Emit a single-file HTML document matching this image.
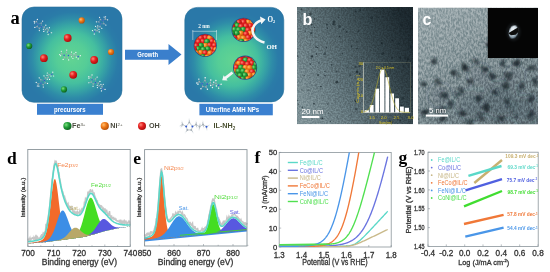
<!DOCTYPE html>
<html><head><meta charset="utf-8"><style>
html,body{margin:0;padding:0;background:#fff;width:550px;height:272px;overflow:hidden}
svg{display:block;filter:blur(0.3px)}
</style></head><body>
<svg width="550" height="272" viewBox="0 0 550 272">
<rect width="550" height="272" fill="#fff"/>
<defs>
<radialGradient id="gL" cx="72" cy="58" r="51" gradientUnits="userSpaceOnUse"><stop offset="0" stop-color="#62d492"/><stop offset="0.3" stop-color="#55cd97"/><stop offset="0.5" stop-color="#45bf9f"/><stop offset="0.65" stop-color="#37a5a5"/><stop offset="0.78" stop-color="#2e8ca8"/><stop offset="0.9" stop-color="#2a7ca8"/><stop offset="1" stop-color="#2a78a8"/></radialGradient>
<radialGradient id="gR" cx="233" cy="61" r="50" gradientUnits="userSpaceOnUse"><stop offset="0" stop-color="#62d492"/><stop offset="0.3" stop-color="#55cd97"/><stop offset="0.5" stop-color="#45bf9f"/><stop offset="0.65" stop-color="#37a5a5"/><stop offset="0.78" stop-color="#2e8ca8"/><stop offset="0.9" stop-color="#2a7ca8"/><stop offset="1" stop-color="#2a78a8"/></radialGradient>
<radialGradient id="bR" cx="0.35" cy="0.35" r="0.7"><stop offset="0" stop-color="#ff8a7a"/><stop offset="0.45" stop-color="#e62222"/><stop offset="1" stop-color="#a80c0c"/></radialGradient>
<radialGradient id="bO" cx="0.35" cy="0.35" r="0.7"><stop offset="0" stop-color="#ffc070"/><stop offset="0.45" stop-color="#f07a18"/><stop offset="1" stop-color="#b04c08"/></radialGradient>
<radialGradient id="bG" cx="0.35" cy="0.35" r="0.7"><stop offset="0" stop-color="#80e080"/><stop offset="0.45" stop-color="#22a03a"/><stop offset="1" stop-color="#0c5c1c"/></radialGradient>
<linearGradient id="tb" x1="0" y1="0.75" x2="1" y2="0.25"><stop offset="0" stop-color="#7d9095"/><stop offset="0.25" stop-color="#677a80"/><stop offset="0.5" stop-color="#4d5f65"/><stop offset="0.72" stop-color="#34444a"/><stop offset="1" stop-color="#1c282e"/></linearGradient>
<linearGradient id="tc" x1="0" y1="0" x2="0.5" y2="1"><stop offset="0" stop-color="#9aa8ac"/><stop offset="0.4" stop-color="#8a999d"/><stop offset="0.75" stop-color="#77878c"/><stop offset="1" stop-color="#6c7c82"/></linearGradient>
<filter id="noise" x="0" y="0" width="1" height="1" color-interpolation-filters="sRGB"><feTurbulence type="fractalNoise" baseFrequency="0.6" numOctaves="2" seed="3"/><feGaussianBlur stdDeviation="0.4"/><feColorMatrix type="matrix" values="2.6 0 0 0 -0.8  2.6 0 0 0 -0.8  2.6 0 0 0 -0.8  0 0 0 0 1"/><feComposite in2="SourceGraphic" operator="in"/></filter>
<filter id="blur1"><feGaussianBlur stdDeviation="0.5"/></filter>
<filter id="blur2"><feGaussianBlur stdDeviation="1.2"/></filter>
<filter id="blur3" x="-10%" y="-10%" width="120%" height="120%"><feGaussianBlur stdDeviation="1.1"/></filter>
<filter id="blur4" x="-30%" y="-30%" width="160%" height="160%"><feGaussianBlur stdDeviation="4"/></filter>
<filter id="noise2" x="0" y="0" width="1" height="1" color-interpolation-filters="sRGB"><feTurbulence type="fractalNoise" baseFrequency="0.6 0.32" numOctaves="2" seed="5"/><feGaussianBlur stdDeviation="0.4"/><feColorMatrix type="matrix" values="2.6 0 0 0 -0.8  2.6 0 0 0 -0.8  2.6 0 0 0 -0.8  0 0 0 0 1"/><feComposite in2="SourceGraphic" operator="in"/></filter>
<filter id="noise3" x="0" y="0" width="1" height="1"><feTurbulence type="fractalNoise" baseFrequency="0.5" numOctaves="3" seed="4"/><feColorMatrix type="matrix" values="0 0 0 0 0.75  0 0 0 0 0.8  0 0 0 0 0.82  1.6 0 0 0 -0.85"/><feComposite in2="SourceGraphic" operator="in"/></filter>
<radialGradient id="saed" cx="0.4" cy="0.35" r="0.75"><stop offset="0" stop-color="#f4f8fa"/><stop offset="0.5" stop-color="#c8d6e0"/><stop offset="1" stop-color="#4a6070"/></radialGradient>
<clipPath id="cb"><rect x="297" y="7" width="116" height="117.3"/></clipPath>
<clipPath id="cc"><rect x="418" y="7.5" width="120" height="117"/></clipPath>
</defs>
<text x="10.5" y="24" font-family="Liberation Serif" font-size="18.5" font-weight="bold" fill="#000" text-anchor="start" >a</text>
<rect x="22" y="7" width="100" height="95.3" rx="12" fill="url(#gL)" stroke="#28709a" stroke-width="0.6"/>
<rect x="184.8" y="7.4" width="99" height="94.5" rx="12.5" fill="url(#gR)" stroke="#28709a" stroke-width="0.6"/>
<rect x="37" y="103.8" width="66" height="11" fill="#3a80d0"/>
<text x="69.8" y="111.7" font-family="Liberation Sans" font-size="6.9" font-weight="bold" fill="#fff" text-anchor="middle" textLength="31.5" lengthAdjust="spacingAndGlyphs" >precursors</text>
<rect x="199.4" y="103.8" width="73.4" height="11.5" fill="#3a80d0"/>
<text x="232.5" y="112.4" font-family="Liberation Sans" font-size="6.7" font-weight="bold" fill="#fff" text-anchor="middle" textLength="53.5" lengthAdjust="spacingAndGlyphs" >Ulterfine AMH NPs</text>
<path d="M125,49.7 L168.5,49.7 L168.5,44.1 L181.5,54.6 L168.5,65.1 L168.5,59.7 L125,59.7 Z" fill="#3a7fcc"/>
<text x="147.7" y="57.0" font-family="Liberation Sans" font-size="6.9" font-weight="bold" fill="#fff" text-anchor="middle" textLength="20.8" lengthAdjust="spacingAndGlyphs" >Growth</text>
<circle cx="81.7" cy="20.4" r="3.1" fill="url(#bO)"/>
<circle cx="29.2" cy="46" r="3.1" fill="url(#bG)"/>
<circle cx="111" cy="52" r="3.1" fill="url(#bO)"/>
<circle cx="64" cy="89.4" r="3.1" fill="url(#bG)"/>
<circle cx="67.7" cy="38" r="3.9" fill="url(#bR)"/>
<circle cx="43.9" cy="58.2" r="3.9" fill="url(#bR)"/>
<circle cx="94.2" cy="60" r="3.9" fill="url(#bR)"/>
<circle cx="73.2" cy="74.8" r="3.9" fill="url(#bR)"/>
<line x1="37.80" y1="24.20" x2="41.24" y2="23.10" stroke="#9aa6ae" stroke-width="0.40"/>
<line x1="41.24" y1="23.10" x2="41.38" y2="26.71" stroke="#9aa6ae" stroke-width="0.40"/>
<line x1="41.38" y1="26.71" x2="39.33" y2="28.22" stroke="#9aa6ae" stroke-width="0.40"/>
<line x1="39.33" y1="28.22" x2="37.07" y2="26.64" stroke="#9aa6ae" stroke-width="0.40"/>
<line x1="37.07" y1="26.64" x2="37.80" y2="24.20" stroke="#9aa6ae" stroke-width="0.40"/>
<line x1="37.80" y1="24.20" x2="36.52" y2="21.62" stroke="#9aa6ae" stroke-width="0.40"/>
<line x1="36.52" y1="21.62" x2="34.26" y2="21.44" stroke="#9aa6ae" stroke-width="0.40"/>
<line x1="36.52" y1="21.62" x2="37.37" y2="19.41" stroke="#9aa6ae" stroke-width="0.40"/>
<line x1="36.52" y1="21.62" x2="34.51" y2="22.88" stroke="#9aa6ae" stroke-width="0.40"/>
<line x1="41.24" y1="23.10" x2="42.62" y2="21.12" stroke="#9aa6ae" stroke-width="0.40"/>
<line x1="39.33" y1="28.22" x2="39.34" y2="30.62" stroke="#9aa6ae" stroke-width="0.40"/>
<line x1="37.07" y1="26.64" x2="34.82" y2="27.45" stroke="#9aa6ae" stroke-width="0.40"/>
<line x1="41.38" y1="26.71" x2="44.24" y2="27.03" stroke="#9aa6ae" stroke-width="0.40"/>
<line x1="44.24" y1="27.03" x2="45.82" y2="25.18" stroke="#9aa6ae" stroke-width="0.40"/>
<line x1="44.24" y1="27.03" x2="43.40" y2="29.24" stroke="#9aa6ae" stroke-width="0.40"/>
<line x1="44.24" y1="27.03" x2="45.36" y2="29.64" stroke="#9aa6ae" stroke-width="0.40"/>
<line x1="45.36" y1="29.64" x2="43.79" y2="31.48" stroke="#9aa6ae" stroke-width="0.40"/>
<line x1="45.36" y1="29.64" x2="47.06" y2="28.02" stroke="#9aa6ae" stroke-width="0.40"/>
<line x1="45.36" y1="29.64" x2="48.20" y2="29.80" stroke="#9aa6ae" stroke-width="0.40"/>
<line x1="48.20" y1="29.80" x2="49.40" y2="27.69" stroke="#9aa6ae" stroke-width="0.40"/>
<line x1="48.20" y1="29.80" x2="47.35" y2="32.01" stroke="#9aa6ae" stroke-width="0.40"/>
<line x1="48.20" y1="29.80" x2="49.32" y2="32.41" stroke="#9aa6ae" stroke-width="0.40"/>
<line x1="49.32" y1="32.41" x2="51.61" y2="32.75" stroke="#9aa6ae" stroke-width="0.40"/>
<line x1="49.32" y1="32.41" x2="48.12" y2="34.52" stroke="#9aa6ae" stroke-width="0.40"/>
<circle cx="37.80" cy="24.20" r="0.70" fill="#2e58d0"/>
<circle cx="41.24" cy="23.10" r="0.65" fill="#a8b0b8"/>
<circle cx="41.38" cy="26.71" r="0.70" fill="#2e58d0"/>
<circle cx="39.33" cy="28.22" r="0.65" fill="#a8b0b8"/>
<circle cx="37.07" cy="26.64" r="0.65" fill="#a8b0b8"/>
<circle cx="36.52" cy="21.62" r="0.65" fill="#a8b0b8"/>
<circle cx="34.26" cy="21.44" r="0.61" fill="#f6f8fa"/>
<circle cx="37.37" cy="19.41" r="0.61" fill="#f6f8fa"/>
<circle cx="34.51" cy="22.88" r="0.61" fill="#f6f8fa"/>
<circle cx="42.62" cy="21.12" r="0.61" fill="#f6f8fa"/>
<circle cx="39.34" cy="30.62" r="0.61" fill="#f6f8fa"/>
<circle cx="34.82" cy="27.45" r="0.61" fill="#f6f8fa"/>
<circle cx="44.24" cy="27.03" r="0.65" fill="#a8b0b8"/>
<circle cx="45.82" cy="25.18" r="0.61" fill="#f6f8fa"/>
<circle cx="43.40" cy="29.24" r="0.61" fill="#f6f8fa"/>
<circle cx="45.36" cy="29.64" r="0.65" fill="#a8b0b8"/>
<circle cx="43.79" cy="31.48" r="0.61" fill="#f6f8fa"/>
<circle cx="47.06" cy="28.02" r="0.61" fill="#f6f8fa"/>
<circle cx="48.20" cy="29.80" r="0.65" fill="#a8b0b8"/>
<circle cx="49.40" cy="27.69" r="0.61" fill="#f6f8fa"/>
<circle cx="47.35" cy="32.01" r="0.61" fill="#f6f8fa"/>
<circle cx="49.32" cy="32.41" r="0.70" fill="#2e58d0"/>
<circle cx="51.61" cy="32.75" r="0.61" fill="#f6f8fa"/>
<circle cx="48.12" cy="34.52" r="0.61" fill="#f6f8fa"/>
<line x1="102.80" y1="20.30" x2="103.90" y2="23.74" stroke="#9aa6ae" stroke-width="0.40"/>
<line x1="103.90" y1="23.74" x2="100.29" y2="23.88" stroke="#9aa6ae" stroke-width="0.40"/>
<line x1="100.29" y1="23.88" x2="98.78" y2="21.83" stroke="#9aa6ae" stroke-width="0.40"/>
<line x1="98.78" y1="21.83" x2="100.36" y2="19.57" stroke="#9aa6ae" stroke-width="0.40"/>
<line x1="100.36" y1="19.57" x2="102.80" y2="20.30" stroke="#9aa6ae" stroke-width="0.40"/>
<line x1="102.80" y1="20.30" x2="105.38" y2="19.02" stroke="#9aa6ae" stroke-width="0.40"/>
<line x1="105.38" y1="19.02" x2="105.56" y2="16.76" stroke="#9aa6ae" stroke-width="0.40"/>
<line x1="105.38" y1="19.02" x2="107.59" y2="19.87" stroke="#9aa6ae" stroke-width="0.40"/>
<line x1="105.38" y1="19.02" x2="104.12" y2="17.01" stroke="#9aa6ae" stroke-width="0.40"/>
<line x1="103.90" y1="23.74" x2="105.88" y2="25.12" stroke="#9aa6ae" stroke-width="0.40"/>
<line x1="98.78" y1="21.83" x2="96.38" y2="21.84" stroke="#9aa6ae" stroke-width="0.40"/>
<line x1="100.36" y1="19.57" x2="99.55" y2="17.32" stroke="#9aa6ae" stroke-width="0.40"/>
<line x1="100.29" y1="23.88" x2="99.97" y2="26.74" stroke="#9aa6ae" stroke-width="0.40"/>
<line x1="99.97" y1="26.74" x2="101.82" y2="28.32" stroke="#9aa6ae" stroke-width="0.40"/>
<line x1="99.97" y1="26.74" x2="97.76" y2="25.90" stroke="#9aa6ae" stroke-width="0.40"/>
<line x1="99.97" y1="26.74" x2="97.36" y2="27.86" stroke="#9aa6ae" stroke-width="0.40"/>
<line x1="97.36" y1="27.86" x2="95.52" y2="26.29" stroke="#9aa6ae" stroke-width="0.40"/>
<line x1="97.36" y1="27.86" x2="98.98" y2="29.56" stroke="#9aa6ae" stroke-width="0.40"/>
<line x1="97.36" y1="27.86" x2="97.20" y2="30.70" stroke="#9aa6ae" stroke-width="0.40"/>
<line x1="97.20" y1="30.70" x2="99.31" y2="31.90" stroke="#9aa6ae" stroke-width="0.40"/>
<line x1="97.20" y1="30.70" x2="94.99" y2="29.85" stroke="#9aa6ae" stroke-width="0.40"/>
<line x1="97.20" y1="30.70" x2="94.59" y2="31.82" stroke="#9aa6ae" stroke-width="0.40"/>
<line x1="94.59" y1="31.82" x2="94.25" y2="34.11" stroke="#9aa6ae" stroke-width="0.40"/>
<line x1="94.59" y1="31.82" x2="92.48" y2="30.62" stroke="#9aa6ae" stroke-width="0.40"/>
<circle cx="102.80" cy="20.30" r="0.70" fill="#2e58d0"/>
<circle cx="103.90" cy="23.74" r="0.65" fill="#a8b0b8"/>
<circle cx="100.29" cy="23.88" r="0.70" fill="#2e58d0"/>
<circle cx="98.78" cy="21.83" r="0.65" fill="#a8b0b8"/>
<circle cx="100.36" cy="19.57" r="0.65" fill="#a8b0b8"/>
<circle cx="105.38" cy="19.02" r="0.65" fill="#a8b0b8"/>
<circle cx="105.56" cy="16.76" r="0.61" fill="#f6f8fa"/>
<circle cx="107.59" cy="19.87" r="0.61" fill="#f6f8fa"/>
<circle cx="104.12" cy="17.01" r="0.61" fill="#f6f8fa"/>
<circle cx="105.88" cy="25.12" r="0.61" fill="#f6f8fa"/>
<circle cx="96.38" cy="21.84" r="0.61" fill="#f6f8fa"/>
<circle cx="99.55" cy="17.32" r="0.61" fill="#f6f8fa"/>
<circle cx="99.97" cy="26.74" r="0.65" fill="#a8b0b8"/>
<circle cx="101.82" cy="28.32" r="0.61" fill="#f6f8fa"/>
<circle cx="97.76" cy="25.90" r="0.61" fill="#f6f8fa"/>
<circle cx="97.36" cy="27.86" r="0.65" fill="#a8b0b8"/>
<circle cx="95.52" cy="26.29" r="0.61" fill="#f6f8fa"/>
<circle cx="98.98" cy="29.56" r="0.61" fill="#f6f8fa"/>
<circle cx="97.20" cy="30.70" r="0.65" fill="#a8b0b8"/>
<circle cx="99.31" cy="31.90" r="0.61" fill="#f6f8fa"/>
<circle cx="94.99" cy="29.85" r="0.61" fill="#f6f8fa"/>
<circle cx="94.59" cy="31.82" r="0.70" fill="#2e58d0"/>
<circle cx="94.25" cy="34.11" r="0.61" fill="#f6f8fa"/>
<circle cx="92.48" cy="30.62" r="0.61" fill="#f6f8fa"/>
<line x1="64.10" y1="55.18" x2="66.52" y2="52.50" stroke="#9aa6ae" stroke-width="0.40"/>
<line x1="66.52" y1="52.50" x2="68.45" y2="55.56" stroke="#9aa6ae" stroke-width="0.40"/>
<line x1="68.45" y1="55.56" x2="67.44" y2="57.89" stroke="#9aa6ae" stroke-width="0.40"/>
<line x1="67.44" y1="57.89" x2="64.69" y2="57.65" stroke="#9aa6ae" stroke-width="0.40"/>
<line x1="64.69" y1="57.65" x2="64.10" y2="55.18" stroke="#9aa6ae" stroke-width="0.40"/>
<line x1="64.10" y1="55.18" x2="61.70" y2="53.58" stroke="#9aa6ae" stroke-width="0.40"/>
<line x1="61.70" y1="53.58" x2="59.65" y2="54.56" stroke="#9aa6ae" stroke-width="0.40"/>
<line x1="61.70" y1="53.58" x2="61.32" y2="51.24" stroke="#9aa6ae" stroke-width="0.40"/>
<line x1="61.70" y1="53.58" x2="60.59" y2="55.68" stroke="#9aa6ae" stroke-width="0.40"/>
<line x1="66.52" y1="52.50" x2="66.73" y2="50.10" stroke="#9aa6ae" stroke-width="0.40"/>
<line x1="67.44" y1="57.89" x2="68.64" y2="59.96" stroke="#9aa6ae" stroke-width="0.40"/>
<line x1="64.69" y1="57.65" x2="63.14" y2="59.48" stroke="#9aa6ae" stroke-width="0.40"/>
<line x1="68.45" y1="55.56" x2="71.09" y2="54.40" stroke="#9aa6ae" stroke-width="0.40"/>
<line x1="71.09" y1="54.40" x2="71.53" y2="52.02" stroke="#9aa6ae" stroke-width="0.40"/>
<line x1="71.09" y1="54.40" x2="71.46" y2="56.74" stroke="#9aa6ae" stroke-width="0.40"/>
<line x1="71.09" y1="54.40" x2="73.37" y2="56.10" stroke="#9aa6ae" stroke-width="0.40"/>
<line x1="73.37" y1="56.10" x2="72.93" y2="58.49" stroke="#9aa6ae" stroke-width="0.40"/>
<line x1="73.37" y1="56.10" x2="74.03" y2="53.85" stroke="#9aa6ae" stroke-width="0.40"/>
<line x1="73.37" y1="56.10" x2="75.90" y2="54.82" stroke="#9aa6ae" stroke-width="0.40"/>
<line x1="75.90" y1="54.82" x2="75.88" y2="52.40" stroke="#9aa6ae" stroke-width="0.40"/>
<line x1="75.90" y1="54.82" x2="76.28" y2="57.17" stroke="#9aa6ae" stroke-width="0.40"/>
<line x1="75.90" y1="54.82" x2="78.18" y2="56.52" stroke="#9aa6ae" stroke-width="0.40"/>
<line x1="78.18" y1="56.52" x2="80.33" y2="55.67" stroke="#9aa6ae" stroke-width="0.40"/>
<line x1="78.18" y1="56.52" x2="78.20" y2="58.95" stroke="#9aa6ae" stroke-width="0.40"/>
<circle cx="64.10" cy="55.18" r="0.70" fill="#2e58d0"/>
<circle cx="66.52" cy="52.50" r="0.65" fill="#a8b0b8"/>
<circle cx="68.45" cy="55.56" r="0.70" fill="#2e58d0"/>
<circle cx="67.44" cy="57.89" r="0.65" fill="#a8b0b8"/>
<circle cx="64.69" cy="57.65" r="0.65" fill="#a8b0b8"/>
<circle cx="61.70" cy="53.58" r="0.65" fill="#a8b0b8"/>
<circle cx="59.65" cy="54.56" r="0.61" fill="#f6f8fa"/>
<circle cx="61.32" cy="51.24" r="0.61" fill="#f6f8fa"/>
<circle cx="60.59" cy="55.68" r="0.61" fill="#f6f8fa"/>
<circle cx="66.73" cy="50.10" r="0.61" fill="#f6f8fa"/>
<circle cx="68.64" cy="59.96" r="0.61" fill="#f6f8fa"/>
<circle cx="63.14" cy="59.48" r="0.61" fill="#f6f8fa"/>
<circle cx="71.09" cy="54.40" r="0.65" fill="#a8b0b8"/>
<circle cx="71.53" cy="52.02" r="0.61" fill="#f6f8fa"/>
<circle cx="71.46" cy="56.74" r="0.61" fill="#f6f8fa"/>
<circle cx="73.37" cy="56.10" r="0.65" fill="#a8b0b8"/>
<circle cx="72.93" cy="58.49" r="0.61" fill="#f6f8fa"/>
<circle cx="74.03" cy="53.85" r="0.61" fill="#f6f8fa"/>
<circle cx="75.90" cy="54.82" r="0.65" fill="#a8b0b8"/>
<circle cx="75.88" cy="52.40" r="0.61" fill="#f6f8fa"/>
<circle cx="76.28" cy="57.17" r="0.61" fill="#f6f8fa"/>
<circle cx="78.18" cy="56.52" r="0.70" fill="#2e58d0"/>
<circle cx="80.33" cy="55.67" r="0.61" fill="#f6f8fa"/>
<circle cx="78.20" cy="58.95" r="0.61" fill="#f6f8fa"/>
<line x1="40.95" y1="83.30" x2="40.78" y2="79.69" stroke="#9aa6ae" stroke-width="0.40"/>
<line x1="40.78" y1="79.69" x2="44.30" y2="80.49" stroke="#9aa6ae" stroke-width="0.40"/>
<line x1="44.30" y1="80.49" x2="45.23" y2="82.86" stroke="#9aa6ae" stroke-width="0.40"/>
<line x1="45.23" y1="82.86" x2="43.12" y2="84.63" stroke="#9aa6ae" stroke-width="0.40"/>
<line x1="43.12" y1="84.63" x2="40.95" y2="83.30" stroke="#9aa6ae" stroke-width="0.40"/>
<line x1="40.95" y1="83.30" x2="38.13" y2="83.87" stroke="#9aa6ae" stroke-width="0.40"/>
<line x1="38.13" y1="83.87" x2="37.37" y2="86.01" stroke="#9aa6ae" stroke-width="0.40"/>
<line x1="38.13" y1="83.87" x2="36.21" y2="82.48" stroke="#9aa6ae" stroke-width="0.40"/>
<line x1="38.13" y1="83.87" x2="38.83" y2="86.13" stroke="#9aa6ae" stroke-width="0.40"/>
<line x1="40.78" y1="79.69" x2="39.22" y2="77.84" stroke="#9aa6ae" stroke-width="0.40"/>
<line x1="45.23" y1="82.86" x2="47.55" y2="83.47" stroke="#9aa6ae" stroke-width="0.40"/>
<line x1="43.12" y1="84.63" x2="43.32" y2="87.02" stroke="#9aa6ae" stroke-width="0.40"/>
<line x1="44.30" y1="80.49" x2="45.35" y2="77.81" stroke="#9aa6ae" stroke-width="0.40"/>
<line x1="45.35" y1="77.81" x2="43.97" y2="75.81" stroke="#9aa6ae" stroke-width="0.40"/>
<line x1="45.35" y1="77.81" x2="47.27" y2="79.20" stroke="#9aa6ae" stroke-width="0.40"/>
<line x1="45.35" y1="77.81" x2="48.16" y2="77.40" stroke="#9aa6ae" stroke-width="0.40"/>
<line x1="48.16" y1="77.40" x2="49.54" y2="79.40" stroke="#9aa6ae" stroke-width="0.40"/>
<line x1="48.16" y1="77.40" x2="47.03" y2="75.34" stroke="#9aa6ae" stroke-width="0.40"/>
<line x1="48.16" y1="77.40" x2="49.05" y2="74.70" stroke="#9aa6ae" stroke-width="0.40"/>
<line x1="49.05" y1="74.70" x2="47.32" y2="73.00" stroke="#9aa6ae" stroke-width="0.40"/>
<line x1="49.05" y1="74.70" x2="50.97" y2="76.09" stroke="#9aa6ae" stroke-width="0.40"/>
<line x1="49.05" y1="74.70" x2="51.86" y2="74.29" stroke="#9aa6ae" stroke-width="0.40"/>
<line x1="51.86" y1="74.29" x2="52.78" y2="72.17" stroke="#9aa6ae" stroke-width="0.40"/>
<line x1="51.86" y1="74.29" x2="53.59" y2="76.00" stroke="#9aa6ae" stroke-width="0.40"/>
<circle cx="40.95" cy="83.30" r="0.70" fill="#2e58d0"/>
<circle cx="40.78" cy="79.69" r="0.65" fill="#a8b0b8"/>
<circle cx="44.30" cy="80.49" r="0.70" fill="#2e58d0"/>
<circle cx="45.23" cy="82.86" r="0.65" fill="#a8b0b8"/>
<circle cx="43.12" cy="84.63" r="0.65" fill="#a8b0b8"/>
<circle cx="38.13" cy="83.87" r="0.65" fill="#a8b0b8"/>
<circle cx="37.37" cy="86.01" r="0.61" fill="#f6f8fa"/>
<circle cx="36.21" cy="82.48" r="0.61" fill="#f6f8fa"/>
<circle cx="38.83" cy="86.13" r="0.61" fill="#f6f8fa"/>
<circle cx="39.22" cy="77.84" r="0.61" fill="#f6f8fa"/>
<circle cx="47.55" cy="83.47" r="0.61" fill="#f6f8fa"/>
<circle cx="43.32" cy="87.02" r="0.61" fill="#f6f8fa"/>
<circle cx="45.35" cy="77.81" r="0.65" fill="#a8b0b8"/>
<circle cx="43.97" cy="75.81" r="0.61" fill="#f6f8fa"/>
<circle cx="47.27" cy="79.20" r="0.61" fill="#f6f8fa"/>
<circle cx="48.16" cy="77.40" r="0.65" fill="#a8b0b8"/>
<circle cx="49.54" cy="79.40" r="0.61" fill="#f6f8fa"/>
<circle cx="47.03" cy="75.34" r="0.61" fill="#f6f8fa"/>
<circle cx="49.05" cy="74.70" r="0.65" fill="#a8b0b8"/>
<circle cx="47.32" cy="73.00" r="0.61" fill="#f6f8fa"/>
<circle cx="50.97" cy="76.09" r="0.61" fill="#f6f8fa"/>
<circle cx="51.86" cy="74.29" r="0.70" fill="#2e58d0"/>
<circle cx="52.78" cy="72.17" r="0.61" fill="#f6f8fa"/>
<circle cx="53.59" cy="76.00" r="0.61" fill="#f6f8fa"/>
<line x1="92.06" y1="79.76" x2="95.59" y2="78.96" stroke="#9aa6ae" stroke-width="0.40"/>
<line x1="95.59" y1="78.96" x2="95.41" y2="82.57" stroke="#9aa6ae" stroke-width="0.40"/>
<line x1="95.41" y1="82.57" x2="93.24" y2="83.90" stroke="#9aa6ae" stroke-width="0.40"/>
<line x1="93.24" y1="83.90" x2="91.13" y2="82.13" stroke="#9aa6ae" stroke-width="0.40"/>
<line x1="91.13" y1="82.13" x2="92.06" y2="79.76" stroke="#9aa6ae" stroke-width="0.40"/>
<line x1="92.06" y1="79.76" x2="91.01" y2="77.08" stroke="#9aa6ae" stroke-width="0.40"/>
<line x1="91.01" y1="77.08" x2="88.78" y2="76.70" stroke="#9aa6ae" stroke-width="0.40"/>
<line x1="91.01" y1="77.08" x2="92.05" y2="74.94" stroke="#9aa6ae" stroke-width="0.40"/>
<line x1="91.01" y1="77.08" x2="88.90" y2="78.16" stroke="#9aa6ae" stroke-width="0.40"/>
<line x1="95.59" y1="78.96" x2="97.14" y2="77.11" stroke="#9aa6ae" stroke-width="0.40"/>
<line x1="93.24" y1="83.90" x2="93.04" y2="86.28" stroke="#9aa6ae" stroke-width="0.40"/>
<line x1="91.13" y1="82.13" x2="88.81" y2="82.74" stroke="#9aa6ae" stroke-width="0.40"/>
<line x1="95.41" y1="82.57" x2="98.24" y2="83.14" stroke="#9aa6ae" stroke-width="0.40"/>
<line x1="98.24" y1="83.14" x2="99.96" y2="81.43" stroke="#9aa6ae" stroke-width="0.40"/>
<line x1="98.24" y1="83.14" x2="97.20" y2="85.27" stroke="#9aa6ae" stroke-width="0.40"/>
<line x1="98.24" y1="83.14" x2="99.13" y2="85.83" stroke="#9aa6ae" stroke-width="0.40"/>
<line x1="99.13" y1="85.83" x2="97.40" y2="87.54" stroke="#9aa6ae" stroke-width="0.40"/>
<line x1="99.13" y1="85.83" x2="100.96" y2="84.37" stroke="#9aa6ae" stroke-width="0.40"/>
<line x1="99.13" y1="85.83" x2="101.94" y2="86.24" stroke="#9aa6ae" stroke-width="0.40"/>
<line x1="101.94" y1="86.24" x2="103.31" y2="84.24" stroke="#9aa6ae" stroke-width="0.40"/>
<line x1="101.94" y1="86.24" x2="100.90" y2="88.37" stroke="#9aa6ae" stroke-width="0.40"/>
<line x1="101.94" y1="86.24" x2="102.83" y2="88.94" stroke="#9aa6ae" stroke-width="0.40"/>
<line x1="102.83" y1="88.94" x2="105.08" y2="89.48" stroke="#9aa6ae" stroke-width="0.40"/>
<line x1="102.83" y1="88.94" x2="101.45" y2="90.94" stroke="#9aa6ae" stroke-width="0.40"/>
<circle cx="92.06" cy="79.76" r="0.70" fill="#2e58d0"/>
<circle cx="95.59" cy="78.96" r="0.65" fill="#a8b0b8"/>
<circle cx="95.41" cy="82.57" r="0.70" fill="#2e58d0"/>
<circle cx="93.24" cy="83.90" r="0.65" fill="#a8b0b8"/>
<circle cx="91.13" cy="82.13" r="0.65" fill="#a8b0b8"/>
<circle cx="91.01" cy="77.08" r="0.65" fill="#a8b0b8"/>
<circle cx="88.78" cy="76.70" r="0.61" fill="#f6f8fa"/>
<circle cx="92.05" cy="74.94" r="0.61" fill="#f6f8fa"/>
<circle cx="88.90" cy="78.16" r="0.61" fill="#f6f8fa"/>
<circle cx="97.14" cy="77.11" r="0.61" fill="#f6f8fa"/>
<circle cx="93.04" cy="86.28" r="0.61" fill="#f6f8fa"/>
<circle cx="88.81" cy="82.74" r="0.61" fill="#f6f8fa"/>
<circle cx="98.24" cy="83.14" r="0.65" fill="#a8b0b8"/>
<circle cx="99.96" cy="81.43" r="0.61" fill="#f6f8fa"/>
<circle cx="97.20" cy="85.27" r="0.61" fill="#f6f8fa"/>
<circle cx="99.13" cy="85.83" r="0.65" fill="#a8b0b8"/>
<circle cx="97.40" cy="87.54" r="0.61" fill="#f6f8fa"/>
<circle cx="100.96" cy="84.37" r="0.61" fill="#f6f8fa"/>
<circle cx="101.94" cy="86.24" r="0.65" fill="#a8b0b8"/>
<circle cx="103.31" cy="84.24" r="0.61" fill="#f6f8fa"/>
<circle cx="100.90" cy="88.37" r="0.61" fill="#f6f8fa"/>
<circle cx="102.83" cy="88.94" r="0.70" fill="#2e58d0"/>
<circle cx="105.08" cy="89.48" r="0.61" fill="#f6f8fa"/>
<circle cx="101.45" cy="90.94" r="0.61" fill="#f6f8fa"/>
<line x1="202.07" y1="83.71" x2="204.92" y2="80.57" stroke="#9aa6ae" stroke-width="0.47"/>
<line x1="204.92" y1="80.57" x2="207.18" y2="84.15" stroke="#9aa6ae" stroke-width="0.47"/>
<line x1="207.18" y1="84.15" x2="205.99" y2="86.90" stroke="#9aa6ae" stroke-width="0.47"/>
<line x1="205.99" y1="86.90" x2="202.76" y2="86.61" stroke="#9aa6ae" stroke-width="0.47"/>
<line x1="202.76" y1="86.61" x2="202.07" y2="83.71" stroke="#9aa6ae" stroke-width="0.47"/>
<line x1="202.07" y1="83.71" x2="199.25" y2="81.83" stroke="#9aa6ae" stroke-width="0.47"/>
<line x1="199.25" y1="81.83" x2="196.85" y2="82.98" stroke="#9aa6ae" stroke-width="0.47"/>
<line x1="199.25" y1="81.83" x2="198.82" y2="79.09" stroke="#9aa6ae" stroke-width="0.47"/>
<line x1="199.25" y1="81.83" x2="197.95" y2="84.30" stroke="#9aa6ae" stroke-width="0.47"/>
<line x1="204.92" y1="80.57" x2="205.17" y2="77.74" stroke="#9aa6ae" stroke-width="0.47"/>
<line x1="205.99" y1="86.90" x2="207.41" y2="89.32" stroke="#9aa6ae" stroke-width="0.47"/>
<line x1="202.76" y1="86.61" x2="200.95" y2="88.76" stroke="#9aa6ae" stroke-width="0.47"/>
<line x1="207.18" y1="84.15" x2="210.28" y2="82.80" stroke="#9aa6ae" stroke-width="0.47"/>
<line x1="210.28" y1="82.80" x2="210.80" y2="80.00" stroke="#9aa6ae" stroke-width="0.47"/>
<line x1="210.28" y1="82.80" x2="210.72" y2="85.55" stroke="#9aa6ae" stroke-width="0.47"/>
<line x1="210.28" y1="82.80" x2="212.95" y2="84.79" stroke="#9aa6ae" stroke-width="0.47"/>
<line x1="212.95" y1="84.79" x2="212.44" y2="87.60" stroke="#9aa6ae" stroke-width="0.47"/>
<line x1="212.95" y1="84.79" x2="213.73" y2="82.15" stroke="#9aa6ae" stroke-width="0.47"/>
<line x1="212.95" y1="84.79" x2="215.93" y2="83.29" stroke="#9aa6ae" stroke-width="0.47"/>
<line x1="215.93" y1="83.29" x2="215.91" y2="80.45" stroke="#9aa6ae" stroke-width="0.47"/>
<line x1="215.93" y1="83.29" x2="216.37" y2="86.04" stroke="#9aa6ae" stroke-width="0.47"/>
<line x1="215.93" y1="83.29" x2="218.60" y2="85.29" stroke="#9aa6ae" stroke-width="0.47"/>
<line x1="218.60" y1="85.29" x2="221.13" y2="84.29" stroke="#9aa6ae" stroke-width="0.47"/>
<line x1="218.60" y1="85.29" x2="218.62" y2="88.14" stroke="#9aa6ae" stroke-width="0.47"/>
<circle cx="202.07" cy="83.71" r="0.83" fill="#2e58d0"/>
<circle cx="204.92" cy="80.57" r="0.76" fill="#a8b0b8"/>
<circle cx="207.18" cy="84.15" r="0.83" fill="#2e58d0"/>
<circle cx="205.99" cy="86.90" r="0.76" fill="#a8b0b8"/>
<circle cx="202.76" cy="86.61" r="0.76" fill="#a8b0b8"/>
<circle cx="199.25" cy="81.83" r="0.76" fill="#a8b0b8"/>
<circle cx="196.85" cy="82.98" r="0.71" fill="#f6f8fa"/>
<circle cx="198.82" cy="79.09" r="0.71" fill="#f6f8fa"/>
<circle cx="197.95" cy="84.30" r="0.71" fill="#f6f8fa"/>
<circle cx="205.17" cy="77.74" r="0.71" fill="#f6f8fa"/>
<circle cx="207.41" cy="89.32" r="0.71" fill="#f6f8fa"/>
<circle cx="200.95" cy="88.76" r="0.71" fill="#f6f8fa"/>
<circle cx="210.28" cy="82.80" r="0.76" fill="#a8b0b8"/>
<circle cx="210.80" cy="80.00" r="0.71" fill="#f6f8fa"/>
<circle cx="210.72" cy="85.55" r="0.71" fill="#f6f8fa"/>
<circle cx="212.95" cy="84.79" r="0.76" fill="#a8b0b8"/>
<circle cx="212.44" cy="87.60" r="0.71" fill="#f6f8fa"/>
<circle cx="213.73" cy="82.15" r="0.71" fill="#f6f8fa"/>
<circle cx="215.93" cy="83.29" r="0.76" fill="#a8b0b8"/>
<circle cx="215.91" cy="80.45" r="0.71" fill="#f6f8fa"/>
<circle cx="216.37" cy="86.04" r="0.71" fill="#f6f8fa"/>
<circle cx="218.60" cy="85.29" r="0.83" fill="#2e58d0"/>
<circle cx="221.13" cy="84.29" r="0.71" fill="#f6f8fa"/>
<circle cx="218.62" cy="88.14" r="0.71" fill="#f6f8fa"/>
<circle cx="205.2" cy="45.4" r="11.600000000000001" fill="#2c4a88"/>
<clipPath id="cl205"><circle cx="205.2" cy="45.4" r="10.8"/></clipPath>
<g clip-path="url(#cl205)"><circle cx="205.2" cy="45.4" r="10.8" fill="#8a2010"/>
<circle cx="202.67" cy="33.62" r="2.90" fill="url(#bR)"/>
<circle cx="207.17" cy="33.64" r="2.90" fill="url(#bR)"/>
<circle cx="195.82" cy="37.43" r="2.90" fill="url(#bO)"/>
<circle cx="214.21" cy="37.69" r="2.90" fill="url(#bR)"/>
<circle cx="205.53" cy="37.77" r="2.90" fill="url(#bR)"/>
<circle cx="209.79" cy="37.98" r="2.90" fill="url(#bO)"/>
<circle cx="200.91" cy="38.04" r="2.90" fill="url(#bR)"/>
<circle cx="194.12" cy="41.37" r="2.90" fill="url(#bR)"/>
<circle cx="212.04" cy="41.39" r="2.90" fill="url(#bR)"/>
<circle cx="202.84" cy="41.49" r="2.90" fill="url(#bR)"/>
<circle cx="206.99" cy="41.70" r="2.90" fill="url(#bG)"/>
<circle cx="198.46" cy="41.78" r="2.90" fill="url(#bR)"/>
<circle cx="216.45" cy="41.98" r="2.90" fill="url(#bO)"/>
<circle cx="209.76" cy="45.33" r="2.90" fill="url(#bR)"/>
<circle cx="214.57" cy="45.47" r="2.90" fill="url(#bR)"/>
<circle cx="205.44" cy="45.71" r="2.90" fill="url(#bO)"/>
<circle cx="200.98" cy="45.72" r="2.90" fill="url(#bG)"/>
<circle cx="196.25" cy="45.86" r="2.90" fill="url(#bR)"/>
<circle cx="212.12" cy="48.88" r="2.90" fill="url(#bR)"/>
<circle cx="198.18" cy="48.98" r="2.90" fill="url(#bG)"/>
<circle cx="207.77" cy="49.06" r="2.90" fill="url(#bG)"/>
<circle cx="194.06" cy="49.26" r="2.90" fill="url(#bR)"/>
<circle cx="215.96" cy="49.56" r="2.90" fill="url(#bO)"/>
<circle cx="203.31" cy="49.60" r="2.90" fill="url(#bG)"/>
<circle cx="200.67" cy="52.72" r="2.90" fill="url(#bO)"/>
<circle cx="205.12" cy="52.89" r="2.90" fill="url(#bR)"/>
<circle cx="196.41" cy="53.15" r="2.90" fill="url(#bO)"/>
<circle cx="210.10" cy="53.21" r="2.90" fill="url(#bO)"/>
<circle cx="214.31" cy="53.52" r="2.90" fill="url(#bR)"/>
<circle cx="202.97" cy="56.82" r="2.90" fill="url(#bG)"/>
<circle cx="207.34" cy="57.18" r="2.90" fill="url(#bO)"/>
</g>
<circle cx="243.6" cy="29.9" r="12.100000000000001" fill="#2c4a88"/>
<clipPath id="cl243"><circle cx="243.6" cy="29.9" r="11.3"/></clipPath>
<g clip-path="url(#cl243)"><circle cx="243.6" cy="29.9" r="11.3" fill="#8a2010"/>
<circle cx="245.91" cy="17.94" r="2.90" fill="url(#bR)"/>
<circle cx="241.23" cy="18.59" r="2.90" fill="url(#bR)"/>
<circle cx="248.52" cy="22.10" r="2.90" fill="url(#bO)"/>
<circle cx="243.56" cy="22.13" r="2.90" fill="url(#bR)"/>
<circle cx="238.76" cy="22.35" r="2.90" fill="url(#bR)"/>
<circle cx="252.45" cy="22.48" r="2.90" fill="url(#bO)"/>
<circle cx="234.45" cy="22.58" r="2.90" fill="url(#bG)"/>
<circle cx="237.26" cy="25.77" r="2.90" fill="url(#bG)"/>
<circle cx="250.44" cy="25.81" r="2.90" fill="url(#bR)"/>
<circle cx="245.85" cy="26.02" r="2.90" fill="url(#bR)"/>
<circle cx="232.17" cy="26.20" r="2.90" fill="url(#bR)"/>
<circle cx="254.86" cy="26.43" r="2.90" fill="url(#bR)"/>
<circle cx="241.16" cy="26.46" r="2.90" fill="url(#bR)"/>
<circle cx="252.46" cy="29.57" r="2.90" fill="url(#bO)"/>
<circle cx="243.34" cy="29.61" r="2.90" fill="url(#bG)"/>
<circle cx="234.37" cy="29.63" r="2.90" fill="url(#bG)"/>
<circle cx="238.71" cy="29.92" r="2.90" fill="url(#bG)"/>
<circle cx="248.02" cy="30.12" r="2.90" fill="url(#bR)"/>
<circle cx="256.68" cy="30.35" r="2.90" fill="url(#bR)"/>
<circle cx="250.19" cy="33.33" r="2.90" fill="url(#bO)"/>
<circle cx="241.00" cy="33.34" r="2.90" fill="url(#bO)"/>
<circle cx="236.74" cy="33.34" r="2.90" fill="url(#bG)"/>
<circle cx="232.01" cy="33.48" r="2.90" fill="url(#bG)"/>
<circle cx="255.12" cy="34.04" r="2.90" fill="url(#bG)"/>
<circle cx="245.97" cy="34.04" r="2.90" fill="url(#bR)"/>
<circle cx="252.66" cy="37.34" r="2.90" fill="url(#bR)"/>
<circle cx="239.18" cy="37.59" r="2.90" fill="url(#bO)"/>
<circle cx="248.21" cy="37.62" r="2.90" fill="url(#bR)"/>
<circle cx="234.55" cy="38.07" r="2.90" fill="url(#bR)"/>
<circle cx="243.24" cy="38.16" r="2.90" fill="url(#bO)"/>
<circle cx="250.38" cy="41.10" r="2.90" fill="url(#bR)"/>
<circle cx="246.06" cy="41.36" r="2.90" fill="url(#bO)"/>
<circle cx="236.58" cy="41.54" r="2.90" fill="url(#bO)"/>
<circle cx="241.44" cy="41.72" r="2.90" fill="url(#bG)"/>
</g>
<circle cx="245.1" cy="67.7" r="12.100000000000001" fill="#2c4a88"/>
<clipPath id="cl245"><circle cx="245.1" cy="67.7" r="11.3"/></clipPath>
<g clip-path="url(#cl245)"><circle cx="245.1" cy="67.7" r="11.3" fill="#8a2010"/>
<circle cx="238.61" cy="56.09" r="2.90" fill="url(#bR)"/>
<circle cx="242.38" cy="56.37" r="2.90" fill="url(#bR)"/>
<circle cx="247.57" cy="56.38" r="2.90" fill="url(#bR)"/>
<circle cx="235.90" cy="59.91" r="2.90" fill="url(#bR)"/>
<circle cx="240.45" cy="59.99" r="2.90" fill="url(#bR)"/>
<circle cx="245.50" cy="60.08" r="2.90" fill="url(#bG)"/>
<circle cx="253.76" cy="60.26" r="2.90" fill="url(#bG)"/>
<circle cx="249.96" cy="60.39" r="2.90" fill="url(#bR)"/>
<circle cx="251.96" cy="63.34" r="2.90" fill="url(#bR)"/>
<circle cx="233.63" cy="63.36" r="2.90" fill="url(#bO)"/>
<circle cx="238.84" cy="63.39" r="2.90" fill="url(#bO)"/>
<circle cx="242.76" cy="63.45" r="2.90" fill="url(#bR)"/>
<circle cx="247.62" cy="64.17" r="2.90" fill="url(#bR)"/>
<circle cx="256.18" cy="64.18" r="2.90" fill="url(#bG)"/>
<circle cx="236.21" cy="67.36" r="2.90" fill="url(#bR)"/>
<circle cx="240.97" cy="67.51" r="2.90" fill="url(#bG)"/>
<circle cx="245.50" cy="67.58" r="2.90" fill="url(#bO)"/>
<circle cx="258.61" cy="67.63" r="2.90" fill="url(#bG)"/>
<circle cx="254.16" cy="67.82" r="2.90" fill="url(#bG)"/>
<circle cx="249.62" cy="67.84" r="2.90" fill="url(#bO)"/>
<circle cx="233.90" cy="71.11" r="2.90" fill="url(#bO)"/>
<circle cx="238.43" cy="71.12" r="2.90" fill="url(#bG)"/>
<circle cx="242.98" cy="71.16" r="2.90" fill="url(#bG)"/>
<circle cx="255.91" cy="71.78" r="2.90" fill="url(#bG)"/>
<circle cx="247.32" cy="71.78" r="2.90" fill="url(#bO)"/>
<circle cx="252.06" cy="71.84" r="2.90" fill="url(#bR)"/>
<circle cx="254.30" cy="75.10" r="2.90" fill="url(#bO)"/>
<circle cx="249.34" cy="75.19" r="2.90" fill="url(#bO)"/>
<circle cx="244.91" cy="75.22" r="2.90" fill="url(#bG)"/>
<circle cx="235.90" cy="75.38" r="2.90" fill="url(#bG)"/>
<circle cx="240.13" cy="75.57" r="2.90" fill="url(#bG)"/>
<circle cx="247.69" cy="79.08" r="2.90" fill="url(#bO)"/>
<circle cx="242.88" cy="79.09" r="2.90" fill="url(#bG)"/>
<circle cx="238.30" cy="79.13" r="2.90" fill="url(#bR)"/>
</g>
<g stroke="#e8f0f0" stroke-width="0.5"><line x1="192.5" y1="31.3" x2="216.8" y2="31.3"/><line x1="192.8" y1="30" x2="192.8" y2="40"/><line x1="216.5" y1="30" x2="216.5" y2="40"/></g>
<text x="204" y="28.4" font-family="Liberation Serif" font-size="5.4" font-weight="bold" fill="#f4f8f8" text-anchor="middle" textLength="11.5" lengthAdjust="spacingAndGlyphs" >2 nm</text>
<path d="M264.5,42.5 C256,40.5 251,34 253,28 C254.5,24 257.5,21.5 261,20.5" fill="none" stroke="#f4f6f6" stroke-width="2.5"/>
<path d="M260,16.6 L265.6,19.4 L261.2,24.2 Z" fill="#f4f6f6"/>
<text x="267.4" y="21.6" font-family="Liberation Serif" font-size="7.2" font-weight="bold" fill="#fff" text-anchor="start" >O<tspan font-size="4.4" dy="1.4">2</tspan></text>
<text x="266.6" y="49" font-family="Liberation Serif" font-size="7.0" font-weight="bold" fill="#fff" text-anchor="start" textLength="10.4" lengthAdjust="spacingAndGlyphs" >OH</text>
<path d="M233.35,73.61 L226.43,78.89 L227.6,80.4 L222.2,80.3 L223.6,75.2 L224.73,76.67 L231.65,71.39 Z" fill="#f4f6f6"/>
<circle cx="67.4" cy="126" r="4.1" fill="url(#bG)"/>
<text x="72" y="128.3" font-family="Liberation Sans" font-size="7.2" font-weight="bold" fill="#4a4a3e" text-anchor="start" >Fe<tspan font-size="4.4" dy="-2.4" font-weight="normal">3+</tspan></text>
<circle cx="104.8" cy="126" r="4.1" fill="url(#bO)"/>
<text x="110.3" y="128.3" font-family="Liberation Sans" font-size="7.2" font-weight="bold" fill="#4a4a3e" text-anchor="start" >Ni<tspan font-size="4.4" dy="-2.4" font-weight="normal">2+</tspan></text>
<circle cx="142" cy="126" r="4.0" fill="url(#bR)"/>
<text x="149" y="128.3" font-family="Liberation Sans" font-size="7.2" font-weight="bold" fill="#4a4a3e" text-anchor="start" >OH<tspan font-size="4.4" dy="-2.4" font-weight="normal">-</tspan></text>
<line x1="186.19" y1="126.49" x2="189.32" y2="122.36" stroke="#9aa6ae" stroke-width="0.58"/>
<line x1="189.32" y1="122.36" x2="192.45" y2="126.49" stroke="#9aa6ae" stroke-width="0.58"/>
<line x1="192.45" y1="126.49" x2="191.30" y2="129.96" stroke="#9aa6ae" stroke-width="0.58"/>
<line x1="191.30" y1="129.96" x2="187.34" y2="129.96" stroke="#9aa6ae" stroke-width="0.58"/>
<line x1="187.34" y1="129.96" x2="186.19" y2="126.49" stroke="#9aa6ae" stroke-width="0.58"/>
<line x1="186.19" y1="126.49" x2="182.56" y2="124.51" stroke="#9aa6ae" stroke-width="0.58"/>
<line x1="182.56" y1="124.51" x2="179.75" y2="126.16" stroke="#9aa6ae" stroke-width="0.58"/>
<line x1="182.56" y1="124.51" x2="181.73" y2="121.21" stroke="#9aa6ae" stroke-width="0.58"/>
<line x1="182.56" y1="124.51" x2="181.23" y2="127.64" stroke="#9aa6ae" stroke-width="0.58"/>
<line x1="189.32" y1="122.36" x2="189.32" y2="118.90" stroke="#9aa6ae" stroke-width="0.58"/>
<line x1="191.30" y1="129.96" x2="193.28" y2="132.76" stroke="#9aa6ae" stroke-width="0.58"/>
<line x1="187.34" y1="129.96" x2="185.36" y2="132.76" stroke="#9aa6ae" stroke-width="0.58"/>
<line x1="192.45" y1="126.49" x2="196.08" y2="124.51" stroke="#9aa6ae" stroke-width="0.58"/>
<line x1="196.08" y1="124.51" x2="196.41" y2="121.05" stroke="#9aa6ae" stroke-width="0.58"/>
<line x1="196.08" y1="124.51" x2="196.91" y2="127.81" stroke="#9aa6ae" stroke-width="0.58"/>
<line x1="196.08" y1="124.51" x2="199.55" y2="126.66" stroke="#9aa6ae" stroke-width="0.58"/>
<line x1="199.55" y1="126.66" x2="199.22" y2="130.12" stroke="#9aa6ae" stroke-width="0.58"/>
<line x1="199.55" y1="126.66" x2="200.21" y2="123.36" stroke="#9aa6ae" stroke-width="0.58"/>
<line x1="199.55" y1="126.66" x2="203.01" y2="124.51" stroke="#9aa6ae" stroke-width="0.58"/>
<line x1="203.01" y1="124.51" x2="202.69" y2="121.05" stroke="#9aa6ae" stroke-width="0.58"/>
<line x1="203.01" y1="124.51" x2="203.84" y2="127.81" stroke="#9aa6ae" stroke-width="0.58"/>
<line x1="203.01" y1="124.51" x2="206.48" y2="126.66" stroke="#9aa6ae" stroke-width="0.58"/>
<line x1="206.48" y1="126.66" x2="209.45" y2="125.17" stroke="#9aa6ae" stroke-width="0.58"/>
<line x1="206.48" y1="126.66" x2="206.81" y2="130.12" stroke="#9aa6ae" stroke-width="0.58"/>
<circle cx="186.19" cy="126.49" r="1.01" fill="#2e58d0"/>
<circle cx="189.32" cy="122.36" r="0.93" fill="#a8b0b8"/>
<circle cx="192.45" cy="126.49" r="1.01" fill="#2e58d0"/>
<circle cx="191.30" cy="129.96" r="0.93" fill="#a8b0b8"/>
<circle cx="187.34" cy="129.96" r="0.93" fill="#a8b0b8"/>
<circle cx="182.56" cy="124.51" r="0.93" fill="#a8b0b8"/>
<circle cx="179.75" cy="126.16" r="0.87" fill="#f6f8fa"/>
<circle cx="181.73" cy="121.21" r="0.87" fill="#f6f8fa"/>
<circle cx="181.23" cy="127.64" r="0.87" fill="#f6f8fa"/>
<circle cx="189.32" cy="118.90" r="0.87" fill="#f6f8fa"/>
<circle cx="193.28" cy="132.76" r="0.87" fill="#f6f8fa"/>
<circle cx="185.36" cy="132.76" r="0.87" fill="#f6f8fa"/>
<circle cx="196.08" cy="124.51" r="0.93" fill="#a8b0b8"/>
<circle cx="196.41" cy="121.05" r="0.87" fill="#f6f8fa"/>
<circle cx="196.91" cy="127.81" r="0.87" fill="#f6f8fa"/>
<circle cx="199.55" cy="126.66" r="0.93" fill="#a8b0b8"/>
<circle cx="199.22" cy="130.12" r="0.87" fill="#f6f8fa"/>
<circle cx="200.21" cy="123.36" r="0.87" fill="#f6f8fa"/>
<circle cx="203.01" cy="124.51" r="0.93" fill="#a8b0b8"/>
<circle cx="202.69" cy="121.05" r="0.87" fill="#f6f8fa"/>
<circle cx="203.84" cy="127.81" r="0.87" fill="#f6f8fa"/>
<circle cx="206.48" cy="126.66" r="1.01" fill="#2e58d0"/>
<circle cx="209.45" cy="125.17" r="0.87" fill="#f6f8fa"/>
<circle cx="206.81" cy="130.12" r="0.87" fill="#f6f8fa"/>
<text x="213.6" y="128.3" font-family="Liberation Sans" font-size="7.2" font-weight="bold" fill="#4a5030" text-anchor="start" >IL-NH<tspan font-size="4.6" dy="1.6">2</tspan></text>
<g clip-path="url(#cb)">
<rect x="297" y="7" width="116" height="117.3" fill="url(#tb)"/>
<rect x="297" y="7" width="116" height="117.3" fill="#000" filter="url(#noise)" opacity="0.12" style="mix-blend-mode:overlay"/>
<circle cx="334.6" cy="24.6" r="1.2" fill="#152026" opacity="0.37"/>
<circle cx="392.3" cy="18.0" r="1.0" fill="#152026" opacity="0.37"/>
<circle cx="355.9" cy="11.4" r="0.9" fill="#152026" opacity="0.52"/>
<circle cx="324.9" cy="71.5" r="0.6" fill="#152026" opacity="0.68"/>
<circle cx="311.4" cy="33.1" r="1.2" fill="#152026" opacity="0.58"/>
<circle cx="304.2" cy="75.5" r="0.6" fill="#152026" opacity="0.74"/>
<circle cx="302.4" cy="107.4" r="0.8" fill="#152026" opacity="0.52"/>
<circle cx="359.7" cy="73.8" r="1.0" fill="#152026" opacity="0.68"/>
<circle cx="318.0" cy="75.0" r="1.2" fill="#152026" opacity="0.43"/>
<circle cx="308.3" cy="90.3" r="1.0" fill="#152026" opacity="0.37"/>
<circle cx="320.9" cy="86.6" r="0.9" fill="#152026" opacity="0.66"/>
<circle cx="351.0" cy="115.0" r="0.8" fill="#152026" opacity="0.47"/>
<circle cx="389.1" cy="88.8" r="0.7" fill="#152026" opacity="0.38"/>
<circle cx="331.8" cy="64.9" r="0.8" fill="#152026" opacity="0.64"/>
<circle cx="330.4" cy="121.7" r="0.6" fill="#152026" opacity="0.55"/>
<circle cx="316.1" cy="47.0" r="0.9" fill="#152026" opacity="0.52"/>
<circle cx="408.6" cy="16.1" r="1.0" fill="#152026" opacity="0.58"/>
<circle cx="398.6" cy="43.7" r="1.2" fill="#152026" opacity="0.49"/>
<circle cx="354.6" cy="100.2" r="0.6" fill="#152026" opacity="0.69"/>
<circle cx="406.6" cy="62.5" r="1.2" fill="#152026" opacity="0.38"/>
<circle cx="381.8" cy="43.2" r="1.0" fill="#152026" opacity="0.75"/>
<circle cx="392.3" cy="40.3" r="0.9" fill="#152026" opacity="0.70"/>
<circle cx="337.3" cy="117.1" r="0.8" fill="#152026" opacity="0.42"/>
<circle cx="310.6" cy="13.9" r="1.4" fill="#152026" opacity="0.46"/>
<circle cx="382.7" cy="53.6" r="1.4" fill="#152026" opacity="0.55"/>
<circle cx="316.3" cy="54.0" r="0.8" fill="#152026" opacity="0.70"/>
<circle cx="392.0" cy="108.1" r="0.8" fill="#152026" opacity="0.63"/>
<circle cx="411.4" cy="86.9" r="0.9" fill="#152026" opacity="0.73"/>
<circle cx="314.5" cy="27.6" r="0.7" fill="#152026" opacity="0.61"/>
<circle cx="298.4" cy="104.2" r="0.7" fill="#152026" opacity="0.46"/>
<circle cx="297.5" cy="56.0" r="0.8" fill="#152026" opacity="0.59"/>
<circle cx="334.0" cy="21.7" r="1.4" fill="#152026" opacity="0.56"/>
<circle cx="368.6" cy="86.1" r="0.6" fill="#152026" opacity="0.53"/>
<circle cx="398.0" cy="118.4" r="1.2" fill="#152026" opacity="0.67"/>
<circle cx="342.5" cy="53.7" r="0.6" fill="#152026" opacity="0.54"/>
<circle cx="343.5" cy="29.3" r="0.7" fill="#152026" opacity="0.53"/>
<circle cx="309.8" cy="77.3" r="0.6" fill="#152026" opacity="0.35"/>
<circle cx="314.5" cy="18.9" r="0.8" fill="#152026" opacity="0.60"/>
<circle cx="305.2" cy="31.3" r="0.9" fill="#152026" opacity="0.41"/>
<circle cx="326.3" cy="47.6" r="0.8" fill="#152026" opacity="0.54"/>
<circle cx="310.4" cy="64.1" r="0.9" fill="#152026" opacity="0.54"/>
<circle cx="333.2" cy="23.9" r="1.2" fill="#152026" opacity="0.49"/>
<circle cx="327.7" cy="104.0" r="0.7" fill="#152026" opacity="0.56"/>
<circle cx="320.8" cy="118.4" r="0.8" fill="#152026" opacity="0.41"/>
<circle cx="360.0" cy="10.2" r="1.0" fill="#152026" opacity="0.47"/>
<circle cx="371.6" cy="17.6" r="1.4" fill="#152026" opacity="0.45"/>
<circle cx="339.5" cy="26.5" r="1.4" fill="#152026" opacity="0.44"/>
<circle cx="359.8" cy="65.8" r="1.2" fill="#152026" opacity="0.44"/>
<circle cx="391.1" cy="122.2" r="1.4" fill="#152026" opacity="0.43"/>
<circle cx="324.8" cy="53.9" r="1.4" fill="#152026" opacity="0.44"/>
<circle cx="357.0" cy="48.6" r="0.6" fill="#152026" opacity="0.75"/>
<circle cx="388.7" cy="62.3" r="0.7" fill="#152026" opacity="0.63"/>
<circle cx="408.0" cy="59.3" r="1.2" fill="#152026" opacity="0.75"/>
<circle cx="407.8" cy="49.7" r="0.7" fill="#152026" opacity="0.39"/>
<circle cx="351.5" cy="46.5" r="0.9" fill="#152026" opacity="0.60"/>
<circle cx="401.4" cy="105.3" r="0.9" fill="#152026" opacity="0.71"/>
<circle cx="336.9" cy="82.2" r="1.4" fill="#152026" opacity="0.61"/>
<circle cx="402.5" cy="98.5" r="1.4" fill="#152026" opacity="0.43"/>
<circle cx="400.1" cy="57.8" r="1.2" fill="#152026" opacity="0.48"/>
<circle cx="389.9" cy="120.7" r="0.9" fill="#152026" opacity="0.54"/>
<circle cx="383.2" cy="16.9" r="0.7" fill="#152026" opacity="0.42"/>
<circle cx="311.7" cy="24.7" r="0.9" fill="#152026" opacity="0.67"/>
<circle cx="314.0" cy="103.7" r="0.9" fill="#152026" opacity="0.61"/>
<circle cx="337.6" cy="71.2" r="0.7" fill="#152026" opacity="0.36"/>
<circle cx="389.7" cy="92.0" r="0.6" fill="#152026" opacity="0.56"/>
<circle cx="405.3" cy="57.8" r="1.4" fill="#152026" opacity="0.43"/>
<circle cx="398.4" cy="10.3" r="0.7" fill="#152026" opacity="0.47"/>
<circle cx="324.9" cy="75.6" r="0.8" fill="#152026" opacity="0.57"/>
<circle cx="393.8" cy="14.1" r="1.2" fill="#152026" opacity="0.49"/>
<circle cx="350.1" cy="75.3" r="1.0" fill="#152026" opacity="0.52"/>
<circle cx="403.5" cy="65.7" r="1.0" fill="#152026" opacity="0.41"/>
<circle cx="356.2" cy="109.1" r="1.4" fill="#152026" opacity="0.42"/>
<circle cx="297.5" cy="100.5" r="0.7" fill="#152026" opacity="0.41"/>
<circle cx="368.8" cy="21.1" r="0.6" fill="#152026" opacity="0.48"/>
<circle cx="357.1" cy="72.0" r="1.4" fill="#152026" opacity="0.66"/>
<circle cx="399.5" cy="13.6" r="0.7" fill="#152026" opacity="0.46"/>
<circle cx="386.6" cy="66.4" r="1.0" fill="#152026" opacity="0.36"/>
<circle cx="400.7" cy="14.4" r="0.8" fill="#152026" opacity="0.60"/>
<circle cx="355.6" cy="66.9" r="1.2" fill="#152026" opacity="0.46"/>
<circle cx="355.9" cy="101.5" r="1.0" fill="#152026" opacity="0.73"/>
<circle cx="378.1" cy="109.6" r="0.8" fill="#152026" opacity="0.72"/>
<circle cx="400.6" cy="30.7" r="0.9" fill="#152026" opacity="0.40"/>
<circle cx="311.1" cy="58.7" r="0.6" fill="#152026" opacity="0.62"/>
<circle cx="346.7" cy="31.9" r="0.8" fill="#152026" opacity="0.66"/>
<circle cx="401.1" cy="25.1" r="1.2" fill="#152026" opacity="0.61"/>
<circle cx="339.5" cy="36.6" r="0.7" fill="#152026" opacity="0.74"/>
<circle cx="322.5" cy="118.4" r="0.9" fill="#152026" opacity="0.70"/>
<circle cx="315.9" cy="85.1" r="0.7" fill="#152026" opacity="0.41"/>
<circle cx="347.1" cy="67.3" r="0.8" fill="#152026" opacity="0.52"/>
<circle cx="338.4" cy="17.8" r="0.8" fill="#152026" opacity="0.36"/>
<circle cx="361.3" cy="58.5" r="0.6" fill="#152026" opacity="0.50"/>
<circle cx="357.0" cy="41.6" r="0.6" fill="#152026" opacity="0.40"/>
<circle cx="403.6" cy="33.7" r="0.6" fill="#152026" opacity="0.38"/>
<circle cx="328.5" cy="113.0" r="0.7" fill="#152026" opacity="0.46"/>
<circle cx="312.0" cy="56.4" r="1.2" fill="#152026" opacity="0.68"/>
<circle cx="327.0" cy="24.5" r="1.0" fill="#152026" opacity="0.58"/>
<circle cx="378.2" cy="17.5" r="0.6" fill="#152026" opacity="0.67"/>
<circle cx="318.3" cy="111.7" r="0.8" fill="#152026" opacity="0.73"/>
<circle cx="370.6" cy="100.8" r="0.6" fill="#152026" opacity="0.59"/>
<circle cx="322.8" cy="37.9" r="0.6" fill="#152026" opacity="0.53"/>
<circle cx="336.3" cy="71.7" r="0.8" fill="#152026" opacity="0.60"/>
<circle cx="302.0" cy="90.0" r="0.6" fill="#152026" opacity="0.74"/>
<circle cx="327.4" cy="28.2" r="0.8" fill="#152026" opacity="0.60"/>
<circle cx="358.6" cy="31.1" r="0.9" fill="#152026" opacity="0.55"/>
<circle cx="317.6" cy="47.6" r="0.6" fill="#152026" opacity="0.75"/>
<circle cx="301.3" cy="9.2" r="1.0" fill="#152026" opacity="0.57"/>
<circle cx="319.0" cy="62.5" r="0.9" fill="#152026" opacity="0.39"/>
<circle cx="392.0" cy="57.6" r="0.9" fill="#152026" opacity="0.57"/>
<circle cx="400.1" cy="120.5" r="0.8" fill="#152026" opacity="0.63"/>
<circle cx="411.0" cy="47.1" r="1.4" fill="#152026" opacity="0.70"/>
</g>
<text x="302.4" y="25.2" font-family="Liberation Sans" font-size="16.2" font-weight="bold" fill="#fff" text-anchor="start" >b</text>
<text x="301.5" y="114" font-family="Liberation Sans" font-size="7.2" font-weight="normal" fill="#fff" text-anchor="start" textLength="22" lengthAdjust="spacingAndGlyphs" >20 nm</text>
<rect x="301.8" y="116" width="17.6" height="2" fill="#fff"/>
<g stroke="#fff" stroke-width="0.5" fill="none"><path d="M363.4,62.4 L363.4,112.6 L410.5,112.6"/></g>
<rect x="363.4" y="62.4" width="47" height="50.2" fill="none" stroke="#d0d0a0" stroke-width="0.4" opacity="0.5"/>
<rect x="364.6" y="110.2" width="4.3" height="2.2" fill="#fff"/>
<rect x="369.8" y="105" width="3.8" height="7.4" fill="#fff"/>
<rect x="375.3" y="88.7" width="3.8" height="23.7" fill="#fff"/>
<rect x="380" y="69.6" width="4.4" height="42.8" fill="#fff"/>
<rect x="385.4" y="77.2" width="3.8" height="35.2" fill="#fff"/>
<rect x="390.4" y="93.5" width="3.6" height="18.9" fill="#fff"/>
<rect x="395.2" y="98.3" width="3.8" height="14.1" fill="#fff"/>
<rect x="400" y="106.6" width="3.8" height="5.8" fill="#fff"/>
<rect x="404.8" y="107.8" width="4.2" height="4.6" fill="#fff"/>
<polyline points="364.00,111.93 364.78,111.73 365.56,111.45 366.34,111.07 367.12,110.57 367.90,109.91 368.68,109.08 369.46,108.03 370.24,106.75 371.02,105.19 371.80,103.35 372.58,101.21 373.36,98.77 374.14,96.05 374.92,93.09 375.69,89.94 376.47,86.67 377.25,83.37 378.03,80.15 378.81,77.12 379.59,74.39 380.37,72.06 381.15,70.25 381.93,69.03 382.71,68.45 383.49,68.53 384.27,69.29 385.05,70.67 385.83,72.62 386.61,75.06 387.39,77.88 388.17,80.98 388.95,84.23 389.73,87.53 390.51,90.77 391.29,93.88 392.07,96.78 392.85,99.43 393.63,101.79 394.41,103.86 395.19,105.62 395.97,107.11 396.75,108.33 397.53,109.32 398.31,110.10 399.08,110.71 399.86,111.18 400.64,111.53 401.42,111.79 402.20,111.98 402.98,112.11 403.76,112.21 404.54,112.27 405.32,112.32 406.10,112.35 406.88,112.37 407.66,112.38 408.44,112.39 409.22,112.39 410.00,112.40" fill="none" stroke="#b8b030" stroke-width="0.6"/>
<text x="385" y="68.6" font-family="Liberation Sans" font-size="3.6" font-weight="normal" fill="#e2c822" text-anchor="middle" textLength="18.5" lengthAdjust="spacingAndGlyphs" >2.0 ± 0.5 nm</text>
<text x="363.2" y="64.6" font-family="Liberation Sans" font-size="4.3" font-weight="normal" fill="#e2c822" text-anchor="end" >30</text>
<text x="363.2" y="80.8" font-family="Liberation Sans" font-size="4.3" font-weight="normal" fill="#e2c822" text-anchor="end" >20</text>
<text x="363.2" y="97.1" font-family="Liberation Sans" font-size="4.3" font-weight="normal" fill="#e2c822" text-anchor="end" >10</text>
<text x="363.2" y="113.1" font-family="Liberation Sans" font-size="4.3" font-weight="normal" fill="#e2c822" text-anchor="end" >0</text>
<text x="372" y="119.3" font-family="Liberation Sans" font-size="4.3" font-weight="normal" fill="#e2c822" text-anchor="middle" >1.5</text>
<text x="383.7" y="119.3" font-family="Liberation Sans" font-size="4.3" font-weight="normal" fill="#e2c822" text-anchor="middle" >2.0</text>
<text x="396.5" y="119.3" font-family="Liberation Sans" font-size="4.3" font-weight="normal" fill="#e2c822" text-anchor="middle" >2.5</text>
<text x="410.6" y="119.3" font-family="Liberation Sans" font-size="4.3" font-weight="normal" fill="#e2c822" text-anchor="middle" >3.0</text>
<text x="385.6" y="124" font-family="Liberation Sans" font-size="4.0" font-weight="normal" fill="#e2c822" text-anchor="middle" textLength="13" lengthAdjust="spacingAndGlyphs" >Size(nm)</text>
<text x="358.8" y="88.7" font-family="Liberation Sans" font-size="3.8" font-weight="normal" fill="#e2c822" text-anchor="middle" textLength="28" lengthAdjust="spacingAndGlyphs" transform="rotate(-90 358.8 88.7)">Counts (a.u.)</text>
<g clip-path="url(#cc)">
<rect x="418" y="7.5" width="120" height="117" fill="url(#tc)"/>
<rect x="418" y="7.5" width="120" height="117" fill="#000" filter="url(#noise2)" opacity="0.2" style="mix-blend-mode:overlay"/>
<g filter="url(#blur4)">
<circle cx="500" cy="100" r="18" fill="#2a3a40" opacity="0.22"/>
<circle cx="470" cy="105" r="14" fill="#2a3a40" opacity="0.18"/>
<circle cx="525" cy="110" r="14" fill="#2a3a40" opacity="0.2"/>
<circle cx="440" cy="95" r="12" fill="#2a3a40" opacity="0.12"/>
<circle cx="480" cy="75" r="12" fill="#2a3a40" opacity="0.12"/>
<circle cx="515" cy="75" r="10" fill="#2a3a40" opacity="0.12"/>
</g>
<g filter="url(#blur3)">
<circle cx="432.9" cy="61.5" r="1.8" fill="#1e2a30" opacity="0.43"/>
<circle cx="435.9" cy="62.3" r="2.0" fill="#1e2a30" opacity="0.43"/>
<circle cx="433.6" cy="61.6" r="2.8" fill="#1e2a30" opacity="0.43"/>
<circle cx="435.0" cy="59.1" r="2.0" fill="#1e2a30" opacity="0.43"/>
<circle cx="433.3" cy="62.5" r="2.2" fill="#1e2a30" opacity="0.43"/>
<circle cx="425.2" cy="84.5" r="2.1" fill="#1e2a30" opacity="0.40"/>
<circle cx="425.1" cy="84.3" r="1.6" fill="#1e2a30" opacity="0.40"/>
<circle cx="424.4" cy="83.7" r="1.9" fill="#1e2a30" opacity="0.40"/>
<circle cx="423.1" cy="85.1" r="2.0" fill="#1e2a30" opacity="0.40"/>
<circle cx="422.7" cy="83.4" r="2.7" fill="#1e2a30" opacity="0.40"/>
<circle cx="440.2" cy="84.0" r="1.7" fill="#1e2a30" opacity="0.40"/>
<circle cx="440.2" cy="83.2" r="1.9" fill="#1e2a30" opacity="0.40"/>
<circle cx="436.8" cy="81.9" r="2.7" fill="#1e2a30" opacity="0.40"/>
<circle cx="437.1" cy="80.6" r="2.8" fill="#1e2a30" opacity="0.40"/>
<circle cx="464.6" cy="67.2" r="2.0" fill="#1e2a30" opacity="0.50"/>
<circle cx="464.3" cy="68.6" r="2.8" fill="#1e2a30" opacity="0.50"/>
<circle cx="464.5" cy="67.2" r="2.2" fill="#1e2a30" opacity="0.50"/>
<circle cx="464.4" cy="67.3" r="2.9" fill="#1e2a30" opacity="0.50"/>
<circle cx="465.0" cy="67.0" r="2.7" fill="#1e2a30" opacity="0.50"/>
<circle cx="467.7" cy="69.6" r="2.7" fill="#1e2a30" opacity="0.50"/>
<circle cx="463.9" cy="64.9" r="2.5" fill="#1e2a30" opacity="0.50"/>
<circle cx="475.7" cy="63.7" r="1.7" fill="#1e2a30" opacity="0.36"/>
<circle cx="475.8" cy="60.4" r="2.5" fill="#1e2a30" opacity="0.36"/>
<circle cx="472.7" cy="60.5" r="2.3" fill="#1e2a30" opacity="0.36"/>
<circle cx="477.8" cy="62.5" r="2.6" fill="#1e2a30" opacity="0.36"/>
<circle cx="487.0" cy="69.2" r="2.0" fill="#1e2a30" opacity="0.48"/>
<circle cx="485.6" cy="68.6" r="2.6" fill="#1e2a30" opacity="0.48"/>
<circle cx="485.1" cy="70.8" r="3.0" fill="#1e2a30" opacity="0.48"/>
<circle cx="482.5" cy="68.1" r="2.3" fill="#1e2a30" opacity="0.48"/>
<circle cx="490.7" cy="74.5" r="1.7" fill="#1e2a30" opacity="0.50"/>
<circle cx="493.4" cy="77.3" r="2.6" fill="#1e2a30" opacity="0.50"/>
<circle cx="491.8" cy="78.4" r="1.6" fill="#1e2a30" opacity="0.50"/>
<circle cx="493.9" cy="76.7" r="2.5" fill="#1e2a30" opacity="0.50"/>
<circle cx="491.6" cy="73.7" r="2.0" fill="#1e2a30" opacity="0.50"/>
<circle cx="490.6" cy="76.0" r="2.3" fill="#1e2a30" opacity="0.50"/>
<circle cx="510.5" cy="74.4" r="1.7" fill="#1e2a30" opacity="0.55"/>
<circle cx="510.5" cy="75.2" r="1.7" fill="#1e2a30" opacity="0.55"/>
<circle cx="506.2" cy="74.7" r="3.0" fill="#1e2a30" opacity="0.55"/>
<circle cx="509.0" cy="77.5" r="2.9" fill="#1e2a30" opacity="0.55"/>
<circle cx="502.3" cy="64.1" r="2.9" fill="#1e2a30" opacity="0.47"/>
<circle cx="503.1" cy="64.9" r="2.3" fill="#1e2a30" opacity="0.47"/>
<circle cx="503.0" cy="60.6" r="1.9" fill="#1e2a30" opacity="0.47"/>
<circle cx="502.6" cy="61.2" r="1.6" fill="#1e2a30" opacity="0.47"/>
<circle cx="522.2" cy="84.3" r="2.6" fill="#1e2a30" opacity="0.54"/>
<circle cx="521.5" cy="86.9" r="1.8" fill="#1e2a30" opacity="0.54"/>
<circle cx="522.2" cy="87.4" r="2.1" fill="#1e2a30" opacity="0.54"/>
<circle cx="519.6" cy="88.5" r="1.9" fill="#1e2a30" opacity="0.54"/>
<circle cx="468.6" cy="82.1" r="2.2" fill="#1e2a30" opacity="0.53"/>
<circle cx="471.4" cy="80.4" r="2.1" fill="#1e2a30" opacity="0.53"/>
<circle cx="467.7" cy="81.0" r="1.7" fill="#1e2a30" opacity="0.53"/>
<circle cx="471.7" cy="82.4" r="2.0" fill="#1e2a30" opacity="0.53"/>
<circle cx="459.2" cy="93.5" r="1.9" fill="#1e2a30" opacity="0.40"/>
<circle cx="456.3" cy="94.6" r="2.8" fill="#1e2a30" opacity="0.40"/>
<circle cx="460.4" cy="89.0" r="2.9" fill="#1e2a30" opacity="0.40"/>
<circle cx="461.5" cy="90.6" r="2.6" fill="#1e2a30" opacity="0.40"/>
<circle cx="462.2" cy="92.3" r="2.2" fill="#1e2a30" opacity="0.40"/>
<circle cx="478.7" cy="97.6" r="2.9" fill="#1e2a30" opacity="0.48"/>
<circle cx="480.2" cy="98.5" r="2.1" fill="#1e2a30" opacity="0.48"/>
<circle cx="477.9" cy="99.8" r="3.0" fill="#1e2a30" opacity="0.48"/>
<circle cx="478.6" cy="99.6" r="2.0" fill="#1e2a30" opacity="0.48"/>
<circle cx="477.1" cy="96.4" r="1.8" fill="#1e2a30" opacity="0.48"/>
<circle cx="493.4" cy="91.4" r="2.4" fill="#1e2a30" opacity="0.37"/>
<circle cx="495.2" cy="91.9" r="2.7" fill="#1e2a30" opacity="0.37"/>
<circle cx="494.7" cy="92.4" r="1.9" fill="#1e2a30" opacity="0.37"/>
<circle cx="497.7" cy="93.4" r="2.0" fill="#1e2a30" opacity="0.37"/>
<circle cx="494.5" cy="93.8" r="1.9" fill="#1e2a30" opacity="0.37"/>
<circle cx="507.4" cy="102.0" r="2.3" fill="#1e2a30" opacity="0.50"/>
<circle cx="507.8" cy="102.1" r="1.7" fill="#1e2a30" opacity="0.50"/>
<circle cx="508.2" cy="105.6" r="1.8" fill="#1e2a30" opacity="0.50"/>
<circle cx="506.5" cy="100.9" r="2.8" fill="#1e2a30" opacity="0.50"/>
<circle cx="532.4" cy="98.6" r="2.5" fill="#1e2a30" opacity="0.37"/>
<circle cx="529.6" cy="100.3" r="2.7" fill="#1e2a30" opacity="0.37"/>
<circle cx="531.9" cy="99.5" r="2.2" fill="#1e2a30" opacity="0.37"/>
<circle cx="531.3" cy="96.5" r="3.0" fill="#1e2a30" opacity="0.37"/>
<circle cx="530.3" cy="99.7" r="2.9" fill="#1e2a30" opacity="0.37"/>
<circle cx="487.0" cy="108.9" r="1.8" fill="#1e2a30" opacity="0.54"/>
<circle cx="484.3" cy="107.6" r="2.9" fill="#1e2a30" opacity="0.54"/>
<circle cx="486.5" cy="105.4" r="2.7" fill="#1e2a30" opacity="0.54"/>
<circle cx="484.8" cy="108.6" r="1.7" fill="#1e2a30" opacity="0.54"/>
<circle cx="487.3" cy="106.7" r="2.9" fill="#1e2a30" opacity="0.54"/>
<circle cx="486.1" cy="106.8" r="1.8" fill="#1e2a30" opacity="0.54"/>
<circle cx="487.0" cy="110.6" r="2.6" fill="#1e2a30" opacity="0.54"/>
<circle cx="516.1" cy="117.6" r="1.9" fill="#1e2a30" opacity="0.37"/>
<circle cx="517.2" cy="116.7" r="1.6" fill="#1e2a30" opacity="0.37"/>
<circle cx="511.5" cy="112.1" r="2.0" fill="#1e2a30" opacity="0.37"/>
<circle cx="516.0" cy="116.6" r="1.9" fill="#1e2a30" opacity="0.37"/>
<circle cx="463.8" cy="113.8" r="2.5" fill="#1e2a30" opacity="0.46"/>
<circle cx="463.1" cy="113.9" r="2.8" fill="#1e2a30" opacity="0.46"/>
<circle cx="461.6" cy="112.9" r="1.9" fill="#1e2a30" opacity="0.46"/>
<circle cx="460.5" cy="114.3" r="2.3" fill="#1e2a30" opacity="0.46"/>
<circle cx="461.0" cy="110.8" r="2.1" fill="#1e2a30" opacity="0.46"/>
<circle cx="532.2" cy="112.2" r="2.3" fill="#1e2a30" opacity="0.39"/>
<circle cx="532.6" cy="119.6" r="2.0" fill="#1e2a30" opacity="0.39"/>
<circle cx="531.9" cy="113.8" r="1.9" fill="#1e2a30" opacity="0.39"/>
<circle cx="531.4" cy="113.5" r="2.9" fill="#1e2a30" opacity="0.39"/>
<circle cx="530.1" cy="115.0" r="1.9" fill="#1e2a30" opacity="0.39"/>
<circle cx="529.0" cy="116.3" r="2.9" fill="#1e2a30" opacity="0.39"/>
<circle cx="532.4" cy="116.4" r="1.9" fill="#1e2a30" opacity="0.39"/>
<circle cx="450.7" cy="102.9" r="2.2" fill="#1e2a30" opacity="0.43"/>
<circle cx="450.6" cy="102.5" r="1.8" fill="#1e2a30" opacity="0.43"/>
<circle cx="452.0" cy="104.5" r="1.9" fill="#1e2a30" opacity="0.43"/>
<circle cx="449.7" cy="102.2" r="2.3" fill="#1e2a30" opacity="0.43"/>
<circle cx="449.9" cy="106.7" r="2.8" fill="#1e2a30" opacity="0.43"/>
<circle cx="444.6" cy="118.5" r="1.7" fill="#1e2a30" opacity="0.44"/>
<circle cx="440.7" cy="119.8" r="2.4" fill="#1e2a30" opacity="0.44"/>
<circle cx="444.1" cy="116.2" r="2.7" fill="#1e2a30" opacity="0.44"/>
<circle cx="442.8" cy="121.0" r="1.7" fill="#1e2a30" opacity="0.44"/>
<circle cx="443.7" cy="116.9" r="2.4" fill="#1e2a30" opacity="0.44"/>
<circle cx="442.5" cy="118.5" r="2.6" fill="#1e2a30" opacity="0.44"/>
<circle cx="497.2" cy="120.7" r="2.7" fill="#1e2a30" opacity="0.36"/>
<circle cx="500.5" cy="119.1" r="1.7" fill="#1e2a30" opacity="0.36"/>
<circle cx="501.2" cy="118.3" r="2.6" fill="#1e2a30" opacity="0.36"/>
<circle cx="501.3" cy="118.0" r="2.0" fill="#1e2a30" opacity="0.36"/>
<circle cx="502.4" cy="118.3" r="2.0" fill="#1e2a30" opacity="0.36"/>
<circle cx="499.7" cy="117.5" r="2.0" fill="#1e2a30" opacity="0.36"/>
<circle cx="503.0" cy="119.1" r="2.9" fill="#1e2a30" opacity="0.36"/>
<circle cx="470.2" cy="123.0" r="2.9" fill="#1e2a30" opacity="0.35"/>
<circle cx="471.7" cy="120.5" r="2.0" fill="#1e2a30" opacity="0.35"/>
<circle cx="468.1" cy="121.9" r="2.9" fill="#1e2a30" opacity="0.35"/>
<circle cx="471.3" cy="124.0" r="2.6" fill="#1e2a30" opacity="0.35"/>
<circle cx="529.3" cy="69.4" r="2.1" fill="#1e2a30" opacity="0.47"/>
<circle cx="530.1" cy="67.3" r="1.9" fill="#1e2a30" opacity="0.47"/>
<circle cx="530.0" cy="66.6" r="1.7" fill="#1e2a30" opacity="0.47"/>
<circle cx="532.2" cy="68.5" r="2.1" fill="#1e2a30" opacity="0.47"/>
<circle cx="533.7" cy="67.5" r="3.0" fill="#1e2a30" opacity="0.47"/>
<circle cx="445.5" cy="96.8" r="3.0" fill="#1e2a30" opacity="0.47"/>
<circle cx="446.1" cy="94.8" r="1.8" fill="#1e2a30" opacity="0.47"/>
<circle cx="441.3" cy="95.9" r="1.9" fill="#1e2a30" opacity="0.47"/>
<circle cx="442.0" cy="94.3" r="2.7" fill="#1e2a30" opacity="0.47"/>
<circle cx="445.3" cy="93.5" r="2.0" fill="#1e2a30" opacity="0.47"/>
<circle cx="444.8" cy="96.4" r="2.0" fill="#1e2a30" opacity="0.47"/>
<circle cx="505.0" cy="87.0" r="2.8" fill="#1e2a30" opacity="0.40"/>
<circle cx="503.6" cy="85.2" r="2.2" fill="#1e2a30" opacity="0.40"/>
<circle cx="507.1" cy="85.9" r="1.9" fill="#1e2a30" opacity="0.40"/>
<circle cx="505.9" cy="83.6" r="3.0" fill="#1e2a30" opacity="0.40"/>
<circle cx="506.6" cy="87.2" r="2.7" fill="#1e2a30" opacity="0.40"/>
<circle cx="507.2" cy="82.6" r="1.7" fill="#1e2a30" opacity="0.40"/>
<circle cx="504.8" cy="86.9" r="1.9" fill="#1e2a30" opacity="0.40"/>
<circle cx="422.5" cy="112.6" r="2.2" fill="#1e2a30" opacity="0.54"/>
<circle cx="424.8" cy="113.1" r="2.9" fill="#1e2a30" opacity="0.54"/>
<circle cx="426.9" cy="111.5" r="2.5" fill="#1e2a30" opacity="0.54"/>
<circle cx="425.3" cy="111.7" r="1.8" fill="#1e2a30" opacity="0.54"/>
<circle cx="425.4" cy="111.3" r="2.4" fill="#1e2a30" opacity="0.54"/>
<circle cx="490.8" cy="43.3" r="2.1" fill="#1e2a30" opacity="0.51"/>
<circle cx="489.5" cy="44.5" r="1.6" fill="#1e2a30" opacity="0.51"/>
<circle cx="487.9" cy="45.1" r="2.2" fill="#1e2a30" opacity="0.51"/>
<circle cx="490.8" cy="42.5" r="1.8" fill="#1e2a30" opacity="0.51"/>
<circle cx="487.4" cy="44.4" r="2.2" fill="#1e2a30" opacity="0.51"/>
<circle cx="517.7" cy="63.5" r="2.9" fill="#1e2a30" opacity="0.43"/>
<circle cx="517.1" cy="64.2" r="2.1" fill="#1e2a30" opacity="0.43"/>
<circle cx="514.9" cy="63.8" r="3.0" fill="#1e2a30" opacity="0.43"/>
<circle cx="517.2" cy="62.9" r="2.6" fill="#1e2a30" opacity="0.43"/>
<circle cx="518.1" cy="62.2" r="2.9" fill="#1e2a30" opacity="0.43"/>
<circle cx="515.0" cy="63.5" r="2.2" fill="#1e2a30" opacity="0.43"/>
<circle cx="535.2" cy="82.3" r="2.4" fill="#1e2a30" opacity="0.44"/>
<circle cx="532.5" cy="78.9" r="1.7" fill="#1e2a30" opacity="0.44"/>
<circle cx="533.8" cy="80.8" r="2.3" fill="#1e2a30" opacity="0.44"/>
<circle cx="535.9" cy="83.2" r="2.3" fill="#1e2a30" opacity="0.44"/>
<circle cx="535.8" cy="81.6" r="2.3" fill="#1e2a30" opacity="0.44"/>
<circle cx="536.6" cy="77.6" r="1.9" fill="#1e2a30" opacity="0.44"/>
<circle cx="458.8" cy="76.1" r="2.0" fill="#1e2a30" opacity="0.52"/>
<circle cx="453.0" cy="73.4" r="1.7" fill="#1e2a30" opacity="0.52"/>
<circle cx="454.4" cy="72.3" r="2.8" fill="#1e2a30" opacity="0.52"/>
<circle cx="452.7" cy="72.3" r="2.5" fill="#1e2a30" opacity="0.52"/>
<circle cx="454.1" cy="74.2" r="2.3" fill="#1e2a30" opacity="0.52"/>
<circle cx="481.0" cy="114.6" r="2.1" fill="#1e2a30" opacity="0.36"/>
<circle cx="482.8" cy="118.9" r="2.7" fill="#1e2a30" opacity="0.36"/>
<circle cx="481.3" cy="118.5" r="2.8" fill="#1e2a30" opacity="0.36"/>
<circle cx="478.7" cy="112.6" r="2.1" fill="#1e2a30" opacity="0.36"/>
<circle cx="478.5" cy="116.3" r="2.8" fill="#1e2a30" opacity="0.36"/>
<circle cx="439.5" cy="111.3" r="2.1" fill="#1e2a30" opacity="0.48"/>
<circle cx="438.6" cy="111.6" r="1.9" fill="#1e2a30" opacity="0.48"/>
<circle cx="445.3" cy="110.1" r="2.3" fill="#1e2a30" opacity="0.48"/>
<circle cx="437.6" cy="110.8" r="2.7" fill="#1e2a30" opacity="0.48"/>
<circle cx="441.7" cy="107.2" r="2.2" fill="#1e2a30" opacity="0.48"/>
<circle cx="441.5" cy="110.7" r="2.1" fill="#1e2a30" opacity="0.48"/>
</g>
</g>
<rect x="487.8" y="8" width="50.2" height="50" fill="#050505"/>
<ellipse cx="513.5" cy="32" rx="7" ry="9" fill="#5a6a78" opacity="0.18" filter="url(#blur2)"/>
<ellipse cx="513.5" cy="32" rx="4.5" ry="6.7" fill="url(#saed)" transform="rotate(15 513.5 32)" filter="url(#blur1)"/>
<path d="M508.3,33.2 L517.8,27.4 L519,31.5 L515.5,34.8 L511,35.2 Z" fill="#0a0a0a" filter="url(#blur1)"/>
<text x="422.4" y="24.8" font-family="Liberation Sans" font-size="15.8" font-weight="bold" fill="#fff" text-anchor="start" >c</text>
<text x="429" y="113.4" font-family="Liberation Sans" font-size="7.2" font-weight="normal" fill="#fff" text-anchor="start" textLength="17" lengthAdjust="spacingAndGlyphs" >5 nm</text>
<rect x="425.8" y="114.6" width="22.2" height="2" fill="#fff"/>
<text x="6.9" y="164.2" font-family="Liberation Serif" font-size="17.5" font-weight="bold" fill="#000" text-anchor="start" >d</text>
<rect x="27.8" y="149.5" width="102.5" height="97" fill="#fff"/>
<polygon points="28.00,243.09 28.50,243.03 29.00,242.97 29.50,242.90 30.00,242.84 30.50,242.78 31.00,242.71 31.50,242.64 32.00,242.57 32.50,242.50 33.00,242.43 33.50,242.35 34.00,242.27 34.50,242.19 35.00,242.11 35.50,242.02 36.00,241.93 36.50,241.84 37.00,241.74 37.50,241.63 38.00,241.52 38.50,241.40 39.00,241.27 39.50,241.12 40.00,240.96 40.50,240.77 41.00,240.55 41.50,240.29 42.00,239.98 42.50,239.60 43.00,239.14 43.50,238.58 44.00,237.88 44.50,237.03 45.00,235.99 45.50,234.70 46.00,233.16 46.50,231.34 47.00,229.20 47.50,226.73 48.00,223.90 48.50,220.74 49.00,217.23 49.50,213.43 50.00,209.37 50.50,205.13 51.00,200.80 51.50,196.49 52.00,192.33 52.50,188.47 53.00,185.07 53.50,182.30 54.00,180.29 54.50,179.17 55.00,179.01 55.50,179.81 56.00,181.52 56.50,184.03 57.00,187.19 57.50,190.84 58.00,194.83 58.50,198.99 59.00,203.20 59.50,207.34 60.00,211.32 60.50,215.04 61.00,218.48 61.50,221.58 62.00,224.34 62.50,226.75 63.00,228.82 63.50,230.57 64.00,232.03 64.50,233.23 65.00,234.20 65.50,234.98 66.00,235.59 66.50,236.07 67.00,236.44 67.50,236.72 68.00,236.93 68.50,237.09 69.00,237.20 69.50,237.29 70.00,237.34 70.50,237.38 71.00,237.41 71.50,237.42 72.00,237.42 72.50,237.42 73.00,237.41 73.50,237.39 74.00,237.37 74.50,237.35 75.00,237.32 75.50,237.29 76.00,237.26 76.50,237.22 77.00,237.18 77.50,237.14 78.00,237.10 78.50,237.06 79.00,237.02 79.50,236.97 80.00,236.92 80.50,236.87 81.00,236.82 81.50,236.77 82.00,236.72 82.50,236.67 83.00,236.62 83.50,236.56 84.00,236.51 84.50,236.45 85.00,236.39 85.50,236.27 86.00,236.14 86.50,236.01 87.00,235.88 87.50,235.75 88.00,235.62 88.50,235.49 89.00,235.36 89.50,235.23 90.00,235.10 90.50,234.97 91.00,234.83 91.50,234.70 92.00,234.57 92.50,234.44 93.00,234.30 93.50,234.17 94.00,234.04 94.50,233.90 95.00,233.77 95.50,233.62 96.00,233.48 96.50,233.33 97.00,233.19 97.50,233.04 98.00,232.90 98.50,232.75 99.00,232.61 99.50,232.46 100.00,232.32 100.50,232.17 101.00,232.02 101.50,231.88 102.00,231.73 102.50,231.58 103.00,231.44 103.50,231.29 104.00,231.14 104.50,231.00 105.00,230.85 105.50,230.75 106.00,230.64 106.50,230.54 107.00,230.43 107.50,230.33 108.00,230.22 108.50,230.12 109.00,230.01 109.50,229.90 110.00,229.80 110.50,229.69 111.00,229.59 111.50,229.48 112.00,229.38 112.50,229.27 113.00,229.17 113.50,229.06 114.00,228.95 114.50,228.85 115.00,228.74 115.50,228.64 116.00,228.53 116.50,228.42 117.00,228.32 117.50,228.21 118.00,228.11 118.50,228.04 119.00,227.97 119.50,227.91 120.00,227.84 120.50,227.77 121.00,227.71 121.50,227.64 122.00,227.57 122.50,227.51 123.00,227.44 123.50,227.37 124.00,227.30 124.50,227.24 125.00,227.17 125.50,227.10 126.00,227.04 126.50,226.97 127.00,226.90 127.50,226.84 128.00,226.77 128.50,226.70 129.00,226.64 129.50,226.57 130.00,226.50 130.50,226.43 130.50,226.50 130.00,226.57 129.50,226.64 129.00,226.70 128.50,226.77 128.00,226.84 127.50,226.91 127.00,226.98 126.50,227.04 126.00,227.11 125.50,227.18 125.00,227.25 124.50,227.32 124.00,227.38 123.50,227.45 123.00,227.52 122.50,227.59 122.00,227.66 121.50,227.72 121.00,227.79 120.50,227.86 120.00,227.93 119.50,228.00 119.00,228.06 118.50,228.13 118.00,228.20 117.50,228.31 117.00,228.42 116.50,228.52 116.00,228.63 115.50,228.74 115.00,228.85 114.50,228.95 114.00,229.06 113.50,229.17 113.00,229.28 112.50,229.38 112.00,229.49 111.50,229.60 111.00,229.71 110.50,229.82 110.00,229.92 109.50,230.03 109.00,230.14 108.50,230.25 108.00,230.35 107.50,230.46 107.00,230.57 106.50,230.68 106.00,230.78 105.50,230.89 105.00,231.00 104.50,231.15 104.00,231.30 103.50,231.45 103.00,231.60 102.50,231.75 102.00,231.90 101.50,232.05 101.00,232.20 100.50,232.35 100.00,232.50 99.50,232.65 99.00,232.80 98.50,232.95 98.00,233.10 97.50,233.25 97.00,233.40 96.50,233.55 96.00,233.70 95.50,233.85 95.00,234.00 94.50,234.14 94.00,234.28 93.50,234.42 93.00,234.56 92.50,234.70 92.00,234.84 91.50,234.98 91.00,235.12 90.50,235.26 90.00,235.40 89.50,235.54 89.00,235.68 88.50,235.82 88.00,235.96 87.50,236.10 87.00,236.24 86.50,236.38 86.00,236.52 85.50,236.66 85.00,236.80 84.50,236.87 84.00,236.94 83.50,237.01 83.00,237.08 82.50,237.15 82.00,237.22 81.50,237.29 81.00,237.36 80.50,237.43 80.00,237.50 79.50,237.57 79.00,237.64 78.50,237.71 78.00,237.78 77.50,237.85 77.00,237.92 76.50,237.99 76.00,238.06 75.50,238.13 75.00,238.20 74.50,238.27 74.00,238.34 73.50,238.41 73.00,238.48 72.50,238.55 72.00,238.62 71.50,238.69 71.00,238.76 70.50,238.83 70.00,238.90 69.50,238.97 69.00,239.04 68.50,239.11 68.00,239.18 67.50,239.25 67.00,239.32 66.50,239.39 66.00,239.46 65.50,239.53 65.00,239.60 64.50,239.67 64.00,239.74 63.50,239.81 63.00,239.88 62.50,239.95 62.00,240.02 61.50,240.09 61.00,240.16 60.50,240.23 60.00,240.30 59.50,240.36 59.00,240.43 58.50,240.49 58.00,240.55 57.50,240.62 57.00,240.68 56.50,240.74 56.00,240.81 55.50,240.87 55.00,240.93 54.50,241.00 54.00,241.06 53.50,241.12 53.00,241.19 52.50,241.25 52.00,241.31 51.50,241.38 51.00,241.44 50.50,241.50 50.00,241.57 49.50,241.63 49.00,241.69 48.50,241.76 48.00,241.82 47.50,241.88 47.00,241.95 46.50,242.01 46.00,242.07 45.50,242.14 45.00,242.20 44.50,242.24 44.00,242.28 43.50,242.32 43.00,242.36 42.50,242.41 42.00,242.45 41.50,242.49 41.00,242.53 40.50,242.57 40.00,242.61 39.50,242.65 39.00,242.69 38.50,242.74 38.00,242.78 37.50,242.82 37.00,242.86 36.50,242.90 36.00,242.94 35.50,242.98 35.00,243.02 34.50,243.06 34.00,243.11 33.50,243.15 33.00,243.19 32.50,243.23 32.00,243.27 31.50,243.31 31.00,243.35 30.50,243.39 30.00,243.44 29.50,243.48 29.00,243.52 28.50,243.56 28.00,243.60" fill="#f26a2a"/>
<polygon points="28.00,243.43 28.50,243.38 29.00,243.33 29.50,243.29 30.00,243.24 30.50,243.19 31.00,243.15 31.50,243.10 32.00,243.05 32.50,243.00 33.00,242.95 33.50,242.91 34.00,242.86 34.50,242.81 35.00,242.76 35.50,242.71 36.00,242.65 36.50,242.60 37.00,242.55 37.50,242.50 38.00,242.44 38.50,242.39 39.00,242.33 39.50,242.27 40.00,242.21 40.50,242.14 41.00,242.08 41.50,242.01 42.00,241.93 42.50,241.85 43.00,241.76 43.50,241.66 44.00,241.55 44.50,241.43 45.00,241.29 45.50,241.11 46.00,240.90 46.50,240.67 47.00,240.41 47.50,240.11 48.00,239.77 48.50,239.38 49.00,238.93 49.50,238.43 50.00,237.86 50.50,237.22 51.00,236.50 51.50,235.70 52.00,234.82 52.50,233.84 53.00,232.78 53.50,231.63 54.00,230.40 54.50,229.09 55.00,227.71 55.50,226.27 56.00,224.78 56.50,223.25 57.00,221.72 57.50,220.19 58.00,218.69 58.50,217.24 59.00,215.87 59.50,214.60 60.00,213.46 60.50,212.47 61.00,211.65 61.50,211.04 62.00,210.63 62.50,210.45 63.00,210.49 63.50,210.76 64.00,211.23 64.50,211.91 65.00,212.76 65.50,213.76 66.00,214.90 66.50,216.14 67.00,217.45 67.50,218.82 68.00,220.22 68.50,221.62 69.00,223.01 69.50,224.37 70.00,225.67 70.50,226.92 71.00,228.10 71.50,229.20 72.00,230.21 72.50,231.14 73.00,231.98 73.50,232.73 74.00,233.40 74.50,233.99 75.00,234.49 75.50,234.93 76.00,235.30 76.50,235.61 77.00,235.87 77.50,236.08 78.00,236.24 78.50,236.37 79.00,236.47 79.50,236.54 80.00,236.59 80.50,236.62 81.00,236.63 81.50,236.63 82.00,236.61 82.50,236.59 83.00,236.56 83.50,236.53 84.00,236.49 84.50,236.44 85.00,236.40 85.50,236.28 86.00,236.15 86.50,236.03 87.00,235.90 87.50,235.78 88.00,235.65 88.50,235.52 89.00,235.39 89.50,235.26 90.00,235.13 90.50,235.00 91.00,234.87 91.50,234.74 92.00,234.61 92.50,234.47 93.00,234.34 93.50,234.21 94.00,234.07 94.50,233.94 95.00,233.81 95.50,233.66 96.00,233.52 96.50,233.37 97.00,233.23 97.50,233.08 98.00,232.94 98.50,232.79 99.00,232.64 99.50,232.50 100.00,232.35 100.50,232.21 101.00,232.06 101.50,231.91 102.00,231.77 102.50,231.62 103.00,231.47 103.50,231.33 104.00,231.18 104.50,231.03 105.00,230.88 105.50,230.78 106.00,230.67 106.50,230.57 107.00,230.46 107.50,230.36 108.00,230.25 108.50,230.15 109.00,230.04 109.50,229.94 110.00,229.83 110.50,229.72 111.00,229.62 111.50,229.51 112.00,229.41 112.50,229.30 113.00,229.19 113.50,229.09 114.00,228.98 114.50,228.88 115.00,228.77 115.50,228.66 116.00,228.56 116.50,228.45 117.00,228.34 117.50,228.24 118.00,228.13 118.50,228.06 119.00,228.00 119.50,227.93 120.00,227.86 120.50,227.80 121.00,227.73 121.50,227.66 122.00,227.60 122.50,227.53 123.00,227.46 123.50,227.40 124.00,227.33 124.50,227.26 125.00,227.19 125.50,227.13 126.00,227.06 126.50,226.99 127.00,226.93 127.50,226.86 128.00,226.79 128.50,226.72 129.00,226.66 129.50,226.59 130.00,226.52 130.50,226.45 130.50,226.50 130.00,226.57 129.50,226.64 129.00,226.70 128.50,226.77 128.00,226.84 127.50,226.91 127.00,226.98 126.50,227.04 126.00,227.11 125.50,227.18 125.00,227.25 124.50,227.32 124.00,227.38 123.50,227.45 123.00,227.52 122.50,227.59 122.00,227.66 121.50,227.72 121.00,227.79 120.50,227.86 120.00,227.93 119.50,228.00 119.00,228.06 118.50,228.13 118.00,228.20 117.50,228.31 117.00,228.42 116.50,228.52 116.00,228.63 115.50,228.74 115.00,228.85 114.50,228.95 114.00,229.06 113.50,229.17 113.00,229.28 112.50,229.38 112.00,229.49 111.50,229.60 111.00,229.71 110.50,229.82 110.00,229.92 109.50,230.03 109.00,230.14 108.50,230.25 108.00,230.35 107.50,230.46 107.00,230.57 106.50,230.68 106.00,230.78 105.50,230.89 105.00,231.00 104.50,231.15 104.00,231.30 103.50,231.45 103.00,231.60 102.50,231.75 102.00,231.90 101.50,232.05 101.00,232.20 100.50,232.35 100.00,232.50 99.50,232.65 99.00,232.80 98.50,232.95 98.00,233.10 97.50,233.25 97.00,233.40 96.50,233.55 96.00,233.70 95.50,233.85 95.00,234.00 94.50,234.14 94.00,234.28 93.50,234.42 93.00,234.56 92.50,234.70 92.00,234.84 91.50,234.98 91.00,235.12 90.50,235.26 90.00,235.40 89.50,235.54 89.00,235.68 88.50,235.82 88.00,235.96 87.50,236.10 87.00,236.24 86.50,236.38 86.00,236.52 85.50,236.66 85.00,236.80 84.50,236.87 84.00,236.94 83.50,237.01 83.00,237.08 82.50,237.15 82.00,237.22 81.50,237.29 81.00,237.36 80.50,237.43 80.00,237.50 79.50,237.57 79.00,237.64 78.50,237.71 78.00,237.78 77.50,237.85 77.00,237.92 76.50,237.99 76.00,238.06 75.50,238.13 75.00,238.20 74.50,238.27 74.00,238.34 73.50,238.41 73.00,238.48 72.50,238.55 72.00,238.62 71.50,238.69 71.00,238.76 70.50,238.83 70.00,238.90 69.50,238.97 69.00,239.04 68.50,239.11 68.00,239.18 67.50,239.25 67.00,239.32 66.50,239.39 66.00,239.46 65.50,239.53 65.00,239.60 64.50,239.67 64.00,239.74 63.50,239.81 63.00,239.88 62.50,239.95 62.00,240.02 61.50,240.09 61.00,240.16 60.50,240.23 60.00,240.30 59.50,240.36 59.00,240.43 58.50,240.49 58.00,240.55 57.50,240.62 57.00,240.68 56.50,240.74 56.00,240.81 55.50,240.87 55.00,240.93 54.50,241.00 54.00,241.06 53.50,241.12 53.00,241.19 52.50,241.25 52.00,241.31 51.50,241.38 51.00,241.44 50.50,241.50 50.00,241.57 49.50,241.63 49.00,241.69 48.50,241.76 48.00,241.82 47.50,241.88 47.00,241.95 46.50,242.01 46.00,242.07 45.50,242.14 45.00,242.20 44.50,242.24 44.00,242.28 43.50,242.32 43.00,242.36 42.50,242.41 42.00,242.45 41.50,242.49 41.00,242.53 40.50,242.57 40.00,242.61 39.50,242.65 39.00,242.69 38.50,242.74 38.00,242.78 37.50,242.82 37.00,242.86 36.50,242.90 36.00,242.94 35.50,242.98 35.00,243.02 34.50,243.06 34.00,243.11 33.50,243.15 33.00,243.19 32.50,243.23 32.00,243.27 31.50,243.31 31.00,243.35 30.50,243.39 30.00,243.44 29.50,243.48 29.00,243.52 28.50,243.56 28.00,243.60" fill="#3c8ee6"/>
<polygon points="28.00,243.55 28.50,243.51 29.00,243.47 29.50,243.43 30.00,243.38 30.50,243.34 31.00,243.30 31.50,243.26 32.00,243.22 32.50,243.17 33.00,243.13 33.50,243.09 34.00,243.05 34.50,243.01 35.00,242.96 35.50,242.92 36.00,242.88 36.50,242.84 37.00,242.79 37.50,242.75 38.00,242.71 38.50,242.67 39.00,242.62 39.50,242.58 40.00,242.54 40.50,242.50 41.00,242.45 41.50,242.41 42.00,242.37 42.50,242.33 43.00,242.28 43.50,242.24 44.00,242.20 44.50,242.15 45.00,242.11 45.50,242.05 46.00,241.98 46.50,241.92 47.00,241.85 47.50,241.78 48.00,241.72 48.50,241.65 49.00,241.59 49.50,241.52 50.00,241.46 50.50,241.39 51.00,241.32 51.50,241.26 52.00,241.19 52.50,241.12 53.00,241.06 53.50,240.99 54.00,240.92 54.50,240.86 55.00,240.79 55.50,240.72 56.00,240.66 56.50,240.59 57.00,240.52 57.50,240.45 58.00,240.38 58.50,240.31 59.00,240.25 59.50,240.18 60.00,240.11 60.50,240.03 61.00,239.96 61.50,239.88 62.00,239.80 62.50,239.72 63.00,239.65 63.50,239.57 64.00,239.49 64.50,239.41 65.00,239.33 65.50,239.25 66.00,239.16 66.50,239.08 67.00,238.99 67.50,238.90 68.00,238.81 68.50,238.72 69.00,238.62 69.50,238.51 70.00,238.40 70.50,238.28 71.00,238.15 71.50,238.01 72.00,237.85 72.50,237.67 73.00,237.47 73.50,237.25 74.00,236.99 74.50,236.69 75.00,236.35 75.50,235.96 76.00,235.52 76.50,235.01 77.00,234.43 77.50,233.76 78.00,233.02 78.50,232.17 79.00,231.23 79.50,230.18 80.00,229.03 80.50,227.76 81.00,226.38 81.50,224.90 82.00,223.31 82.50,221.63 83.00,219.86 83.50,218.02 84.00,216.14 84.50,214.22 85.00,212.29 85.50,210.31 86.00,208.37 86.50,206.51 87.00,204.76 87.50,203.14 88.00,201.68 88.50,200.42 89.00,199.38 89.50,198.58 90.00,198.04 90.50,197.76 91.00,197.76 91.50,198.02 92.00,198.54 92.50,199.30 93.00,200.28 93.50,201.46 94.00,202.80 94.50,204.27 95.00,205.85 95.50,207.50 96.00,209.19 96.50,210.90 97.00,212.60 97.50,214.26 98.00,215.88 98.50,217.43 99.00,218.89 99.50,220.26 100.00,221.52 100.50,222.68 101.00,223.73 101.50,224.66 102.00,225.49 102.50,226.21 103.00,226.84 103.50,227.36 104.00,227.81 104.50,228.17 105.00,228.46 105.50,228.73 106.00,228.94 106.50,229.10 107.00,229.22 107.50,229.30 108.00,229.35 108.50,229.37 109.00,229.37 109.50,229.35 110.00,229.31 110.50,229.27 111.00,229.21 111.50,229.14 112.00,229.07 112.50,228.99 113.00,228.91 113.50,228.82 114.00,228.73 114.50,228.64 115.00,228.55 115.50,228.45 116.00,228.36 116.50,228.26 117.00,228.16 117.50,228.07 118.00,227.97 118.50,227.91 119.00,227.85 119.50,227.78 120.00,227.72 120.50,227.66 121.00,227.60 121.50,227.54 122.00,227.48 122.50,227.41 123.00,227.35 123.50,227.29 124.00,227.22 124.50,227.16 125.00,227.10 125.50,227.03 126.00,226.97 126.50,226.90 127.00,226.84 127.50,226.78 128.00,226.71 128.50,226.65 129.00,226.58 129.50,226.52 130.00,226.45 130.50,226.39 130.50,226.50 130.00,226.57 129.50,226.64 129.00,226.70 128.50,226.77 128.00,226.84 127.50,226.91 127.00,226.98 126.50,227.04 126.00,227.11 125.50,227.18 125.00,227.25 124.50,227.32 124.00,227.38 123.50,227.45 123.00,227.52 122.50,227.59 122.00,227.66 121.50,227.72 121.00,227.79 120.50,227.86 120.00,227.93 119.50,228.00 119.00,228.06 118.50,228.13 118.00,228.20 117.50,228.31 117.00,228.42 116.50,228.52 116.00,228.63 115.50,228.74 115.00,228.85 114.50,228.95 114.00,229.06 113.50,229.17 113.00,229.28 112.50,229.38 112.00,229.49 111.50,229.60 111.00,229.71 110.50,229.82 110.00,229.92 109.50,230.03 109.00,230.14 108.50,230.25 108.00,230.35 107.50,230.46 107.00,230.57 106.50,230.68 106.00,230.78 105.50,230.89 105.00,231.00 104.50,231.15 104.00,231.30 103.50,231.45 103.00,231.60 102.50,231.75 102.00,231.90 101.50,232.05 101.00,232.20 100.50,232.35 100.00,232.50 99.50,232.65 99.00,232.80 98.50,232.95 98.00,233.10 97.50,233.25 97.00,233.40 96.50,233.55 96.00,233.70 95.50,233.85 95.00,234.00 94.50,234.14 94.00,234.28 93.50,234.42 93.00,234.56 92.50,234.70 92.00,234.84 91.50,234.98 91.00,235.12 90.50,235.26 90.00,235.40 89.50,235.54 89.00,235.68 88.50,235.82 88.00,235.96 87.50,236.10 87.00,236.24 86.50,236.38 86.00,236.52 85.50,236.66 85.00,236.80 84.50,236.87 84.00,236.94 83.50,237.01 83.00,237.08 82.50,237.15 82.00,237.22 81.50,237.29 81.00,237.36 80.50,237.43 80.00,237.50 79.50,237.57 79.00,237.64 78.50,237.71 78.00,237.78 77.50,237.85 77.00,237.92 76.50,237.99 76.00,238.06 75.50,238.13 75.00,238.20 74.50,238.27 74.00,238.34 73.50,238.41 73.00,238.48 72.50,238.55 72.00,238.62 71.50,238.69 71.00,238.76 70.50,238.83 70.00,238.90 69.50,238.97 69.00,239.04 68.50,239.11 68.00,239.18 67.50,239.25 67.00,239.32 66.50,239.39 66.00,239.46 65.50,239.53 65.00,239.60 64.50,239.67 64.00,239.74 63.50,239.81 63.00,239.88 62.50,239.95 62.00,240.02 61.50,240.09 61.00,240.16 60.50,240.23 60.00,240.30 59.50,240.36 59.00,240.43 58.50,240.49 58.00,240.55 57.50,240.62 57.00,240.68 56.50,240.74 56.00,240.81 55.50,240.87 55.00,240.93 54.50,241.00 54.00,241.06 53.50,241.12 53.00,241.19 52.50,241.25 52.00,241.31 51.50,241.38 51.00,241.44 50.50,241.50 50.00,241.57 49.50,241.63 49.00,241.69 48.50,241.76 48.00,241.82 47.50,241.88 47.00,241.95 46.50,242.01 46.00,242.07 45.50,242.14 45.00,242.20 44.50,242.24 44.00,242.28 43.50,242.32 43.00,242.36 42.50,242.41 42.00,242.45 41.50,242.49 41.00,242.53 40.50,242.57 40.00,242.61 39.50,242.65 39.00,242.69 38.50,242.74 38.00,242.78 37.50,242.82 37.00,242.86 36.50,242.90 36.00,242.94 35.50,242.98 35.00,243.02 34.50,243.06 34.00,243.11 33.50,243.15 33.00,243.19 32.50,243.23 32.00,243.27 31.50,243.31 31.00,243.35 30.50,243.39 30.00,243.44 29.50,243.48 29.00,243.52 28.50,243.56 28.00,243.60" fill="#44dd22"/>
<polygon points="28.00,243.58 28.50,243.54 29.00,243.50 29.50,243.46 30.00,243.42 30.50,243.38 31.00,243.33 31.50,243.29 32.00,243.25 32.50,243.21 33.00,243.17 33.50,243.13 34.00,243.09 34.50,243.04 35.00,243.00 35.50,242.96 36.00,242.92 36.50,242.88 37.00,242.84 37.50,242.80 38.00,242.75 38.50,242.71 39.00,242.67 39.50,242.63 40.00,242.59 40.50,242.55 41.00,242.51 41.50,242.46 42.00,242.42 42.50,242.38 43.00,242.34 43.50,242.30 44.00,242.26 44.50,242.21 45.00,242.17 45.50,242.11 46.00,242.04 46.50,241.98 47.00,241.92 47.50,241.85 48.00,241.79 48.50,241.73 49.00,241.66 49.50,241.60 50.00,241.53 50.50,241.47 51.00,241.41 51.50,241.34 52.00,241.28 52.50,241.21 53.00,241.15 53.50,241.09 54.00,241.02 54.50,240.96 55.00,240.89 55.50,240.83 56.00,240.77 56.50,240.70 57.00,240.64 57.50,240.57 58.00,240.51 58.50,240.44 59.00,240.38 59.50,240.31 60.00,240.25 60.50,240.18 61.00,240.11 61.50,240.04 62.00,239.97 62.50,239.89 63.00,239.82 63.50,239.75 64.00,239.68 64.50,239.61 65.00,239.54 65.50,239.47 66.00,239.39 66.50,239.32 67.00,239.25 67.50,239.18 68.00,239.11 68.50,239.03 69.00,238.96 69.50,238.89 70.00,238.82 70.50,238.75 71.00,238.67 71.50,238.60 72.00,238.53 72.50,238.45 73.00,238.38 73.50,238.31 74.00,238.23 74.50,238.16 75.00,238.09 75.50,238.01 76.00,237.94 76.50,237.86 77.00,237.79 77.50,237.71 78.00,237.64 78.50,237.56 79.00,237.49 79.50,237.41 80.00,237.33 80.50,237.25 81.00,237.17 81.50,237.09 82.00,237.01 82.50,236.92 83.00,236.83 83.50,236.74 84.00,236.64 84.50,236.54 85.00,236.43 85.50,236.25 86.00,236.05 86.50,235.85 87.00,235.63 87.50,235.40 88.00,235.15 88.50,234.89 89.00,234.60 89.50,234.29 90.00,233.95 90.50,233.59 91.00,233.20 91.50,232.77 92.00,232.31 92.50,231.82 93.00,231.28 93.50,230.72 94.00,230.11 94.50,229.48 95.00,228.81 95.50,228.10 96.00,227.37 96.50,226.62 97.00,225.86 97.50,225.10 98.00,224.34 98.50,223.59 99.00,222.87 99.50,222.18 100.00,221.53 100.50,220.94 101.00,220.41 101.50,219.96 102.00,219.58 102.50,219.30 103.00,219.10 103.50,219.00 104.00,218.98 104.50,219.06 105.00,219.21 105.50,219.48 106.00,219.82 106.50,220.21 107.00,220.64 107.50,221.11 108.00,221.59 108.50,222.10 109.00,222.60 109.50,223.10 110.00,223.60 110.50,224.07 111.00,224.52 111.50,224.94 112.00,225.33 112.50,225.68 113.00,226.00 113.50,226.29 114.00,226.53 114.50,226.75 115.00,226.92 115.50,227.07 116.00,227.19 116.50,227.27 117.00,227.34 117.50,227.37 118.00,227.39 118.50,227.43 119.00,227.45 119.50,227.46 120.00,227.46 120.50,227.45 121.00,227.42 121.50,227.39 122.00,227.36 122.50,227.32 123.00,227.27 123.50,227.22 124.00,227.17 124.50,227.12 125.00,227.06 125.50,227.00 126.00,226.94 126.50,226.88 127.00,226.82 127.50,226.76 128.00,226.70 128.50,226.64 129.00,226.57 129.50,226.51 130.00,226.45 130.50,226.38 130.50,226.50 130.00,226.57 129.50,226.64 129.00,226.70 128.50,226.77 128.00,226.84 127.50,226.91 127.00,226.98 126.50,227.04 126.00,227.11 125.50,227.18 125.00,227.25 124.50,227.32 124.00,227.38 123.50,227.45 123.00,227.52 122.50,227.59 122.00,227.66 121.50,227.72 121.00,227.79 120.50,227.86 120.00,227.93 119.50,228.00 119.00,228.06 118.50,228.13 118.00,228.20 117.50,228.31 117.00,228.42 116.50,228.52 116.00,228.63 115.50,228.74 115.00,228.85 114.50,228.95 114.00,229.06 113.50,229.17 113.00,229.28 112.50,229.38 112.00,229.49 111.50,229.60 111.00,229.71 110.50,229.82 110.00,229.92 109.50,230.03 109.00,230.14 108.50,230.25 108.00,230.35 107.50,230.46 107.00,230.57 106.50,230.68 106.00,230.78 105.50,230.89 105.00,231.00 104.50,231.15 104.00,231.30 103.50,231.45 103.00,231.60 102.50,231.75 102.00,231.90 101.50,232.05 101.00,232.20 100.50,232.35 100.00,232.50 99.50,232.65 99.00,232.80 98.50,232.95 98.00,233.10 97.50,233.25 97.00,233.40 96.50,233.55 96.00,233.70 95.50,233.85 95.00,234.00 94.50,234.14 94.00,234.28 93.50,234.42 93.00,234.56 92.50,234.70 92.00,234.84 91.50,234.98 91.00,235.12 90.50,235.26 90.00,235.40 89.50,235.54 89.00,235.68 88.50,235.82 88.00,235.96 87.50,236.10 87.00,236.24 86.50,236.38 86.00,236.52 85.50,236.66 85.00,236.80 84.50,236.87 84.00,236.94 83.50,237.01 83.00,237.08 82.50,237.15 82.00,237.22 81.50,237.29 81.00,237.36 80.50,237.43 80.00,237.50 79.50,237.57 79.00,237.64 78.50,237.71 78.00,237.78 77.50,237.85 77.00,237.92 76.50,237.99 76.00,238.06 75.50,238.13 75.00,238.20 74.50,238.27 74.00,238.34 73.50,238.41 73.00,238.48 72.50,238.55 72.00,238.62 71.50,238.69 71.00,238.76 70.50,238.83 70.00,238.90 69.50,238.97 69.00,239.04 68.50,239.11 68.00,239.18 67.50,239.25 67.00,239.32 66.50,239.39 66.00,239.46 65.50,239.53 65.00,239.60 64.50,239.67 64.00,239.74 63.50,239.81 63.00,239.88 62.50,239.95 62.00,240.02 61.50,240.09 61.00,240.16 60.50,240.23 60.00,240.30 59.50,240.36 59.00,240.43 58.50,240.49 58.00,240.55 57.50,240.62 57.00,240.68 56.50,240.74 56.00,240.81 55.50,240.87 55.00,240.93 54.50,241.00 54.00,241.06 53.50,241.12 53.00,241.19 52.50,241.25 52.00,241.31 51.50,241.38 51.00,241.44 50.50,241.50 50.00,241.57 49.50,241.63 49.00,241.69 48.50,241.76 48.00,241.82 47.50,241.88 47.00,241.95 46.50,242.01 46.00,242.07 45.50,242.14 45.00,242.20 44.50,242.24 44.00,242.28 43.50,242.32 43.00,242.36 42.50,242.41 42.00,242.45 41.50,242.49 41.00,242.53 40.50,242.57 40.00,242.61 39.50,242.65 39.00,242.69 38.50,242.74 38.00,242.78 37.50,242.82 37.00,242.86 36.50,242.90 36.00,242.94 35.50,242.98 35.00,243.02 34.50,243.06 34.00,243.11 33.50,243.15 33.00,243.19 32.50,243.23 32.00,243.27 31.50,243.31 31.00,243.35 30.50,243.39 30.00,243.44 29.50,243.48 29.00,243.52 28.50,243.56 28.00,243.60" fill="#5858e0"/>
<polygon points="28.00,243.58 28.50,243.54 29.00,243.49 29.50,243.45 30.00,243.41 30.50,243.37 31.00,243.33 31.50,243.28 32.00,243.24 32.50,243.20 33.00,243.16 33.50,243.12 34.00,243.08 34.50,243.03 35.00,242.99 35.50,242.95 36.00,242.91 36.50,242.87 37.00,242.82 37.50,242.78 38.00,242.74 38.50,242.70 39.00,242.66 39.50,242.61 40.00,242.57 40.50,242.53 41.00,242.49 41.50,242.44 42.00,242.40 42.50,242.36 43.00,242.32 43.50,242.27 44.00,242.23 44.50,242.19 45.00,242.14 45.50,242.08 46.00,242.01 46.50,241.95 47.00,241.88 47.50,241.82 48.00,241.75 48.50,241.69 49.00,241.62 49.50,241.55 50.00,241.49 50.50,241.42 51.00,241.35 51.50,241.28 52.00,241.22 52.50,241.15 53.00,241.08 53.50,241.01 54.00,240.93 54.50,240.86 55.00,240.78 55.50,240.70 56.00,240.62 56.50,240.53 57.00,240.43 57.50,240.33 58.00,240.23 58.50,240.11 59.00,239.98 59.50,239.85 60.00,239.69 60.50,239.52 61.00,239.33 61.50,239.11 62.00,238.88 62.50,238.62 63.00,238.33 63.50,238.02 64.00,237.67 64.50,237.30 65.00,236.89 65.50,236.46 66.00,235.99 66.50,235.50 67.00,234.97 67.50,234.43 68.00,233.86 68.50,233.29 69.00,232.70 69.50,232.11 70.00,231.52 70.50,230.95 71.00,230.40 71.50,229.87 72.00,229.39 72.50,228.95 73.00,228.57 73.50,228.25 74.00,227.99 74.50,227.81 75.00,227.70 75.50,227.67 76.00,227.71 76.50,227.83 77.00,228.01 77.50,228.25 78.00,228.55 78.50,228.89 79.00,229.28 79.50,229.69 80.00,230.12 80.50,230.57 81.00,231.02 81.50,231.47 82.00,231.90 82.50,232.33 83.00,232.73 83.50,233.12 84.00,233.47 84.50,233.80 85.00,234.09 85.50,234.29 86.00,234.45 86.50,234.59 87.00,234.69 87.50,234.77 88.00,234.82 88.50,234.84 89.00,234.85 89.50,234.83 90.00,234.79 90.50,234.74 91.00,234.68 91.50,234.60 92.00,234.51 92.50,234.42 93.00,234.31 93.50,234.20 94.00,234.09 94.50,233.97 95.00,233.85 95.50,233.71 96.00,233.57 96.50,233.43 97.00,233.29 97.50,233.15 98.00,233.00 98.50,232.86 99.00,232.71 99.50,232.57 100.00,232.42 100.50,232.27 101.00,232.13 101.50,231.98 102.00,231.83 102.50,231.68 103.00,231.54 103.50,231.39 104.00,231.24 104.50,231.09 105.00,230.94 105.50,230.84 106.00,230.73 106.50,230.63 107.00,230.52 107.50,230.41 108.00,230.31 108.50,230.20 109.00,230.09 109.50,229.99 110.00,229.88 110.50,229.78 111.00,229.67 111.50,229.56 112.00,229.46 112.50,229.35 113.00,229.24 113.50,229.13 114.00,229.03 114.50,228.92 115.00,228.81 115.50,228.71 116.00,228.60 116.50,228.49 117.00,228.39 117.50,228.28 118.00,228.17 118.50,228.10 119.00,228.04 119.50,227.97 120.00,227.90 120.50,227.84 121.00,227.77 121.50,227.70 122.00,227.63 122.50,227.57 123.00,227.50 123.50,227.43 124.00,227.36 124.50,227.29 125.00,227.23 125.50,227.16 126.00,227.09 126.50,227.02 127.00,226.96 127.50,226.89 128.00,226.82 128.50,226.75 129.00,226.69 129.50,226.62 130.00,226.55 130.50,226.48 130.50,226.50 130.00,226.57 129.50,226.64 129.00,226.70 128.50,226.77 128.00,226.84 127.50,226.91 127.00,226.98 126.50,227.04 126.00,227.11 125.50,227.18 125.00,227.25 124.50,227.32 124.00,227.38 123.50,227.45 123.00,227.52 122.50,227.59 122.00,227.66 121.50,227.72 121.00,227.79 120.50,227.86 120.00,227.93 119.50,228.00 119.00,228.06 118.50,228.13 118.00,228.20 117.50,228.31 117.00,228.42 116.50,228.52 116.00,228.63 115.50,228.74 115.00,228.85 114.50,228.95 114.00,229.06 113.50,229.17 113.00,229.28 112.50,229.38 112.00,229.49 111.50,229.60 111.00,229.71 110.50,229.82 110.00,229.92 109.50,230.03 109.00,230.14 108.50,230.25 108.00,230.35 107.50,230.46 107.00,230.57 106.50,230.68 106.00,230.78 105.50,230.89 105.00,231.00 104.50,231.15 104.00,231.30 103.50,231.45 103.00,231.60 102.50,231.75 102.00,231.90 101.50,232.05 101.00,232.20 100.50,232.35 100.00,232.50 99.50,232.65 99.00,232.80 98.50,232.95 98.00,233.10 97.50,233.25 97.00,233.40 96.50,233.55 96.00,233.70 95.50,233.85 95.00,234.00 94.50,234.14 94.00,234.28 93.50,234.42 93.00,234.56 92.50,234.70 92.00,234.84 91.50,234.98 91.00,235.12 90.50,235.26 90.00,235.40 89.50,235.54 89.00,235.68 88.50,235.82 88.00,235.96 87.50,236.10 87.00,236.24 86.50,236.38 86.00,236.52 85.50,236.66 85.00,236.80 84.50,236.87 84.00,236.94 83.50,237.01 83.00,237.08 82.50,237.15 82.00,237.22 81.50,237.29 81.00,237.36 80.50,237.43 80.00,237.50 79.50,237.57 79.00,237.64 78.50,237.71 78.00,237.78 77.50,237.85 77.00,237.92 76.50,237.99 76.00,238.06 75.50,238.13 75.00,238.20 74.50,238.27 74.00,238.34 73.50,238.41 73.00,238.48 72.50,238.55 72.00,238.62 71.50,238.69 71.00,238.76 70.50,238.83 70.00,238.90 69.50,238.97 69.00,239.04 68.50,239.11 68.00,239.18 67.50,239.25 67.00,239.32 66.50,239.39 66.00,239.46 65.50,239.53 65.00,239.60 64.50,239.67 64.00,239.74 63.50,239.81 63.00,239.88 62.50,239.95 62.00,240.02 61.50,240.09 61.00,240.16 60.50,240.23 60.00,240.30 59.50,240.36 59.00,240.43 58.50,240.49 58.00,240.55 57.50,240.62 57.00,240.68 56.50,240.74 56.00,240.81 55.50,240.87 55.00,240.93 54.50,241.00 54.00,241.06 53.50,241.12 53.00,241.19 52.50,241.25 52.00,241.31 51.50,241.38 51.00,241.44 50.50,241.50 50.00,241.57 49.50,241.63 49.00,241.69 48.50,241.76 48.00,241.82 47.50,241.88 47.00,241.95 46.50,242.01 46.00,242.07 45.50,242.14 45.00,242.20 44.50,242.24 44.00,242.28 43.50,242.32 43.00,242.36 42.50,242.41 42.00,242.45 41.50,242.49 41.00,242.53 40.50,242.57 40.00,242.61 39.50,242.65 39.00,242.69 38.50,242.74 38.00,242.78 37.50,242.82 37.00,242.86 36.50,242.90 36.00,242.94 35.50,242.98 35.00,243.02 34.50,243.06 34.00,243.11 33.50,243.15 33.00,243.19 32.50,243.23 32.00,243.27 31.50,243.31 31.00,243.35 30.50,243.39 30.00,243.44 29.50,243.48 29.00,243.52 28.50,243.56 28.00,243.60" fill="#b8a868"/>
<polyline points="28.00,238.62 28.50,240.08 29.00,238.90 29.50,239.70 30.00,238.16 30.50,240.36 31.00,239.55 31.50,238.35 32.00,238.06 32.50,237.84 33.00,238.82 33.50,239.15 34.00,237.15 34.50,238.06 35.00,239.55 35.50,239.14 36.00,234.90 36.50,238.90 37.00,237.89 37.50,237.14 38.00,238.89 38.50,238.66 39.00,238.15 39.50,238.49 40.00,237.92 40.50,236.95 41.00,235.98 41.50,237.28 42.00,234.09 42.50,235.63 43.00,233.82 43.50,235.44 44.00,232.33 44.50,234.04 45.00,231.50 45.50,231.11 46.00,223.87 46.50,227.73 47.00,223.95 47.50,220.37 48.00,219.13 48.50,214.95 49.00,212.09 49.50,207.34 50.00,203.24 50.50,196.79 51.00,192.59 51.50,187.08 52.00,180.18 52.50,177.86 53.00,173.12 53.50,170.46 54.00,165.55 54.50,163.79 55.00,161.56 55.50,162.51 56.00,160.70 56.50,162.84 57.00,165.32 57.50,166.28 58.00,168.75 58.50,171.95 59.00,172.61 59.50,177.67 60.00,180.07 60.50,182.76 61.00,185.63 61.50,188.05 62.00,190.23 62.50,191.44 63.00,192.50 63.50,195.28 64.00,196.48 64.50,196.27 65.00,198.58 65.50,199.71 66.00,201.39 66.50,202.66 67.00,204.64 67.50,204.57 68.00,203.68 68.50,207.14 69.00,207.27 69.50,205.71 70.00,209.46 70.50,208.74 71.00,209.44 71.50,209.44 72.00,207.53 72.50,209.08 73.00,212.29 73.50,211.55 74.00,212.95 74.50,211.84 75.00,213.45 75.50,213.19 76.00,212.03 76.50,212.92 77.00,214.21 77.50,211.95 78.00,213.04 78.50,212.94 79.00,212.25 79.50,213.51 80.00,210.51 80.50,211.68 81.00,212.35 81.50,211.17 82.00,208.55 82.50,208.63 83.00,209.41 83.50,207.12 84.00,206.78 84.50,201.50 85.00,202.96 85.50,198.78 86.00,199.67 86.50,198.37 87.00,197.87 87.50,196.89 88.00,191.59 88.50,193.88 89.00,193.86 89.50,190.53 90.00,192.65 90.50,189.12 91.00,191.12 91.50,191.60 92.00,191.46 92.50,190.69 93.00,192.73 93.50,194.16 94.00,192.33 94.50,195.33 95.00,196.58 95.50,197.80 96.00,198.81 96.50,200.35 97.00,200.59 97.50,202.88 98.00,203.39 98.50,204.67 99.00,204.94 99.50,204.93 100.00,206.30 100.50,207.38 101.00,205.93 101.50,206.03 102.00,206.82 102.50,209.59 103.00,209.53 103.50,208.63 104.00,211.03 104.50,211.44 105.00,208.38 105.50,212.40 106.00,212.00 106.50,209.56 107.00,211.99 107.50,214.75 108.00,212.76 108.50,215.89 109.00,213.87 109.50,211.04 110.00,215.81 110.50,217.29 111.00,218.48 111.50,215.39 112.00,219.44 112.50,217.26 113.00,219.35 113.50,216.92 114.00,219.44 114.50,219.17 115.00,218.66 115.50,219.72 116.00,219.30 116.50,220.67 117.00,220.88 117.50,220.79 118.00,221.45 118.50,221.61 119.00,220.86 119.50,221.91 120.00,221.01 120.50,222.12 121.00,219.76 121.50,223.40 122.00,223.39 122.50,221.94 123.00,223.55 123.50,221.47 124.00,220.68 124.50,222.67 125.00,221.36 125.50,222.48 126.00,221.61 126.50,223.56 127.00,222.73 127.50,223.87 128.00,223.35 128.50,222.02 129.00,220.96 129.50,221.32 130.00,223.95 130.50,223.66" fill="none" stroke="#bcbcbc" stroke-width="1.5" opacity="0.85"/>
<polyline points="28.00,241.83 28.50,241.76 29.00,241.69 29.50,241.62 30.00,241.55 30.50,241.48 31.00,241.41 31.50,241.33 32.00,241.25 32.50,241.17 33.00,241.09 33.50,241.00 34.00,240.92 34.50,240.82 35.00,240.73 35.50,240.63 36.00,240.53 36.50,240.42 37.00,240.31 37.50,240.19 38.00,240.06 38.50,239.92 39.00,239.77 39.50,239.60 40.00,239.41 40.50,239.20 41.00,238.95 41.50,238.66 42.00,238.31 42.50,237.89 43.00,237.38 43.50,236.75 44.00,235.98 44.50,235.05 45.00,233.90 45.50,232.49 46.00,230.81 46.50,228.81 47.00,226.47 47.50,223.75 48.00,220.65 48.50,217.15 49.00,213.26 49.50,209.00 50.00,204.43 50.50,199.60 51.00,194.61 51.50,189.55 52.00,184.55 52.50,179.77 53.00,175.35 53.50,171.47 54.00,168.27 54.50,165.87 55.00,164.36 55.50,163.74 56.00,163.97 56.50,164.96 57.00,166.58 57.50,168.68 58.00,171.13 58.50,173.80 59.00,176.57 59.50,179.35 60.00,182.07 60.50,184.68 61.00,187.13 61.50,189.43 62.00,191.55 62.50,193.52 63.00,195.33 63.50,197.00 64.00,198.55 64.50,199.99 65.00,201.34 65.50,202.60 66.00,203.79 66.50,204.91 67.00,205.97 67.50,206.95 68.00,207.88 68.50,208.73 69.00,209.52 69.50,210.24 70.00,210.90 70.50,211.49 71.00,212.02 71.50,212.49 72.00,212.91 72.50,213.28 73.00,213.61 73.50,213.91 74.00,214.18 74.50,214.43 75.00,214.65 75.50,214.86 76.00,215.04 76.50,215.20 77.00,215.32 77.50,215.39 78.00,215.41 78.50,215.37 79.00,215.25 79.50,215.04 80.00,214.73 80.50,214.31 81.00,213.77 81.50,213.12 82.00,212.34 82.50,211.44 83.00,210.42 83.50,209.29 84.00,208.07 84.50,206.77 85.00,205.41 85.50,203.95 86.00,202.47 86.50,201.02 87.00,199.61 87.50,198.29 88.00,197.07 88.50,195.99 89.00,195.07 89.50,194.33 90.00,193.79 90.50,193.47 91.00,193.36 91.50,193.46 92.00,193.76 92.50,194.25 93.00,194.90 93.50,195.70 94.00,196.61 94.50,197.61 95.00,198.68 95.50,199.76 96.00,200.86 96.50,201.95 97.00,203.01 97.50,204.03 98.00,204.99 98.50,205.88 99.00,206.71 99.50,207.47 100.00,208.16 100.50,208.80 101.00,209.38 101.50,209.92 102.00,210.43 102.50,210.91 103.00,211.39 103.50,211.86 104.00,212.33 104.50,212.81 105.00,213.30 105.50,213.85 106.00,214.40 106.50,214.96 107.00,215.53 107.50,216.09 108.00,216.66 108.50,217.22 109.00,217.77 109.50,218.30 110.00,218.82 110.50,219.32 111.00,219.79 111.50,220.24 112.00,220.67 112.50,221.06 113.00,221.43 113.50,221.77 114.00,222.08 114.50,222.36 115.00,222.62 115.50,222.85 116.00,223.06 116.50,223.25 117.00,223.42 117.50,223.57 118.00,223.70 118.50,223.86 119.00,224.00 119.50,224.14 120.00,224.26 120.50,224.37 121.00,224.47 121.50,224.56 122.00,224.64 122.50,224.71 123.00,224.77 123.50,224.83 124.00,224.88 124.50,224.92 125.00,224.95 125.50,224.98 126.00,225.00 126.50,225.02 127.00,225.03 127.50,225.03 128.00,225.03 128.50,225.02 129.00,225.00 129.50,224.98 130.00,224.96 130.50,224.93" fill="none" stroke="#5ad8c8" stroke-width="1.6"/>
<rect x="27.8" y="149.5" width="102.4" height="97" fill="none" stroke="#8a949a" stroke-width="0.9"/>
<line x1="28.0" y1="246.5" x2="28.0" y2="244.5" stroke="#8a949a" stroke-width="0.6"/>
<line x1="40.8" y1="246.5" x2="40.8" y2="245.3" stroke="#8a949a" stroke-width="0.6"/>
<line x1="53.6" y1="246.5" x2="53.6" y2="244.5" stroke="#8a949a" stroke-width="0.6"/>
<line x1="66.4" y1="246.5" x2="66.4" y2="245.3" stroke="#8a949a" stroke-width="0.6"/>
<line x1="79.2" y1="246.5" x2="79.2" y2="244.5" stroke="#8a949a" stroke-width="0.6"/>
<line x1="92.0" y1="246.5" x2="92.0" y2="245.3" stroke="#8a949a" stroke-width="0.6"/>
<line x1="104.8" y1="246.5" x2="104.8" y2="244.5" stroke="#8a949a" stroke-width="0.6"/>
<line x1="117.6" y1="246.5" x2="117.6" y2="245.3" stroke="#8a949a" stroke-width="0.6"/>
<line x1="130.4" y1="246.5" x2="130.4" y2="244.5" stroke="#8a949a" stroke-width="0.6"/>
<text x="28.0" y="256.3" font-family="Liberation Sans" font-size="8.2" font-weight="normal" fill="#333" text-anchor="middle"  stroke="#333" stroke-width="0.3">700</text>
<text x="53.6" y="256.3" font-family="Liberation Sans" font-size="8.2" font-weight="normal" fill="#333" text-anchor="middle"  stroke="#333" stroke-width="0.3">710</text>
<text x="79.2" y="256.3" font-family="Liberation Sans" font-size="8.2" font-weight="normal" fill="#333" text-anchor="middle"  stroke="#333" stroke-width="0.3">720</text>
<text x="104.8" y="256.3" font-family="Liberation Sans" font-size="8.2" font-weight="normal" fill="#333" text-anchor="middle"  stroke="#333" stroke-width="0.3">730</text>
<text x="130.4" y="256.3" font-family="Liberation Sans" font-size="8.2" font-weight="normal" fill="#333" text-anchor="middle"  stroke="#333" stroke-width="0.3">740</text>
<text x="79.4" y="264.8" font-family="Liberation Sans" font-size="8.6" font-weight="normal" fill="#333" text-anchor="middle" textLength="75.2" lengthAdjust="spacingAndGlyphs"  stroke="#333" stroke-width="0.3">Binding energy (eV)</text>
<text x="24.6" y="197.6" font-family="Liberation Sans" font-size="5.8" font-weight="normal" fill="#333" text-anchor="middle" textLength="40" lengthAdjust="spacingAndGlyphs" transform="rotate(-90 24.6 197.6)" stroke="#333" stroke-width="0.3">Intensity (a.u.)</text>
<text x="57.2" y="167.4" font-family="Liberation Sans" font-size="6.0" font-weight="normal" fill="#f4844a" text-anchor="start" textLength="20.8" lengthAdjust="spacingAndGlyphs" >Fe2p<tspan font-size="3.8">3/2</tspan></text>
<text x="69.4" y="210.2" font-family="Liberation Sans" font-size="5.6" font-weight="normal" fill="#bcae70" text-anchor="start" textLength="10" lengthAdjust="spacingAndGlyphs" >Sat.</text>
<text x="91" y="187.4" font-family="Liberation Sans" font-size="6.0" font-weight="normal" fill="#52dc3c" text-anchor="start" textLength="20" lengthAdjust="spacingAndGlyphs" >Fe2p<tspan font-size="3.8">1/2</tspan></text>
<text x="133.2" y="164.2" font-family="Liberation Serif" font-size="17.5" font-weight="bold" fill="#000" text-anchor="start" >e</text>
<rect x="144.6" y="149.6" width="102.4" height="96.4" fill="#fff"/>
<polygon points="144.5,238 247,229 247,231.5 144.5,241.5" fill="#3c8ee6"/>
<polygon points="144.50,239.04 145.00,238.93 145.50,238.83 146.00,238.71 146.50,238.59 147.00,238.46 147.50,238.33 148.00,238.18 148.50,238.02 149.00,237.85 149.50,237.67 150.00,237.47 150.50,237.24 151.00,236.99 151.50,236.70 152.00,236.37 152.50,235.97 153.00,235.48 153.50,234.86 154.00,234.05 154.50,233.01 155.00,231.62 155.50,229.81 156.00,227.46 156.50,224.46 157.00,220.74 157.50,216.23 158.00,210.95 158.50,204.99 159.00,198.54 159.50,191.94 160.00,185.66 160.50,180.36 161.00,176.74 161.50,175.42 162.00,176.65 162.50,180.17 163.00,185.38 163.50,191.57 164.00,198.08 164.50,204.43 165.00,210.30 165.50,215.49 166.00,219.90 166.50,223.54 167.00,226.44 167.50,228.70 168.00,230.42 168.50,231.71 169.00,232.66 169.50,233.37 170.00,233.90 170.50,234.30 171.00,234.61 171.50,234.85 172.00,235.04 172.50,235.20 173.00,235.33 173.50,235.44 174.00,235.54 174.50,235.61 175.00,235.68 175.50,235.73 176.00,235.77 176.50,235.81 177.00,235.84 177.50,235.86 178.00,235.88 178.50,235.89 179.00,235.89 179.50,235.89 180.00,235.89 180.50,235.89 181.00,235.88 181.50,235.87 182.00,235.86 182.50,235.84 183.00,235.82 183.50,235.80 184.00,235.78 184.50,235.76 185.00,235.73 185.50,235.71 186.00,235.68 186.50,235.65 187.00,235.63 187.50,235.60 188.00,235.56 188.50,235.53 189.00,235.50 189.50,235.47 190.00,235.43 190.50,235.40 191.00,235.36 191.50,235.33 192.00,235.29 192.50,235.25 193.00,235.22 193.50,235.18 194.00,235.14 194.50,235.10 195.00,235.07 195.50,235.03 196.00,234.99 196.50,234.95 197.00,234.91 197.50,234.87 198.00,234.83 198.50,234.79 199.00,234.75 199.50,234.70 200.00,234.66 200.50,234.62 201.00,234.58 201.50,234.54 202.00,234.50 202.50,234.45 203.00,234.41 203.50,234.37 204.00,234.33 204.50,234.28 205.00,234.24 205.50,234.20 206.00,234.16 206.50,234.11 207.00,234.07 207.50,234.03 208.00,233.98 208.50,233.94 209.00,233.89 209.50,233.85 210.00,233.81 210.50,233.76 211.00,233.72 211.50,233.68 212.00,233.63 212.50,233.59 213.00,233.54 213.50,233.50 214.00,233.45 214.50,233.41 215.00,233.37 215.50,233.32 216.00,233.28 216.50,233.23 217.00,233.19 217.50,233.14 218.00,233.10 218.50,233.05 219.00,233.01 219.50,232.96 220.00,232.92 220.50,232.87 221.00,232.83 221.50,232.78 222.00,232.74 222.50,232.69 223.00,232.65 223.50,232.60 224.00,232.56 224.50,232.51 225.00,232.47 225.50,232.42 226.00,232.38 226.50,232.33 227.00,232.29 227.50,232.24 228.00,232.20 228.50,232.15 229.00,232.11 229.50,232.06 230.00,232.01 230.50,231.97 231.00,231.92 231.50,231.88 232.00,231.83 232.50,231.79 233.00,231.74 233.50,231.70 234.00,231.65 234.50,231.60 235.00,231.56 235.50,231.51 236.00,231.47 236.50,231.42 237.00,231.38 237.50,231.33 238.00,231.29 238.50,231.24 239.00,231.19 239.50,231.15 240.00,231.10 240.50,231.06 241.00,231.01 241.50,230.96 242.00,230.92 242.50,230.87 243.00,230.83 243.50,230.78 244.00,230.74 244.50,230.69 245.00,230.64 245.50,230.60 246.00,230.55 246.50,230.51 247.00,230.46 247.00,230.50 246.50,230.55 246.00,230.59 245.50,230.64 245.00,230.69 244.50,230.73 244.00,230.78 243.50,230.82 243.00,230.87 242.50,230.92 242.00,230.96 241.50,231.01 241.00,231.06 240.50,231.10 240.00,231.15 239.50,231.20 239.00,231.24 238.50,231.29 238.00,231.33 237.50,231.38 237.00,231.43 236.50,231.47 236.00,231.52 235.50,231.57 235.00,231.61 234.50,231.66 234.00,231.70 233.50,231.75 233.00,231.80 232.50,231.84 232.00,231.89 231.50,231.94 231.00,231.98 230.50,232.03 230.00,232.08 229.50,232.12 229.00,232.17 228.50,232.21 228.00,232.26 227.50,232.31 227.00,232.35 226.50,232.40 226.00,232.45 225.50,232.49 225.00,232.54 224.50,232.59 224.00,232.63 223.50,232.68 223.00,232.72 222.50,232.77 222.00,232.82 221.50,232.86 221.00,232.91 220.50,232.96 220.00,233.00 219.50,233.05 219.00,233.10 218.50,233.14 218.00,233.19 217.50,233.23 217.00,233.28 216.50,233.33 216.00,233.37 215.50,233.42 215.00,233.47 214.50,233.51 214.00,233.56 213.50,233.60 213.00,233.65 212.50,233.70 212.00,233.74 211.50,233.79 211.00,233.84 210.50,233.88 210.00,233.93 209.50,233.98 209.00,234.02 208.50,234.07 208.00,234.11 207.50,234.16 207.00,234.21 206.50,234.25 206.00,234.30 205.50,234.35 205.00,234.39 204.50,234.44 204.00,234.49 203.50,234.53 203.00,234.58 202.50,234.62 202.00,234.67 201.50,234.72 201.00,234.76 200.50,234.81 200.00,234.86 199.50,234.90 199.00,234.95 198.50,235.00 198.00,235.04 197.50,235.09 197.00,235.13 196.50,235.18 196.00,235.23 195.50,235.27 195.00,235.32 194.50,235.37 194.00,235.41 193.50,235.46 193.00,235.50 192.50,235.55 192.00,235.60 191.50,235.64 191.00,235.69 190.50,235.74 190.00,235.78 189.50,235.83 189.00,235.88 188.50,235.92 188.00,235.97 187.50,236.01 187.00,236.06 186.50,236.11 186.00,236.15 185.50,236.20 185.00,236.25 184.50,236.29 184.00,236.34 183.50,236.39 183.00,236.43 182.50,236.48 182.00,236.52 181.50,236.57 181.00,236.62 180.50,236.66 180.00,236.71 179.50,236.76 179.00,236.80 178.50,236.85 178.00,236.90 177.50,236.94 177.00,236.99 176.50,237.03 176.00,237.08 175.50,237.13 175.00,237.17 174.50,237.22 174.00,237.27 173.50,237.31 173.00,237.36 172.50,237.40 172.00,237.45 171.50,237.50 171.00,237.54 170.50,237.59 170.00,237.64 169.50,237.68 169.00,237.73 168.50,237.78 168.00,237.82 167.50,237.87 167.00,237.91 166.50,237.96 166.00,238.01 165.50,238.05 165.00,238.10 164.50,238.15 164.00,238.19 163.50,238.24 163.00,238.29 162.50,238.33 162.00,238.38 161.50,238.42 161.00,238.47 160.50,238.52 160.00,238.56 159.50,238.61 159.00,238.66 158.50,238.70 158.00,238.75 157.50,238.80 157.00,238.84 156.50,238.89 156.00,238.93 155.50,238.98 155.00,239.03 154.50,239.07 154.00,239.12 153.50,239.17 153.00,239.21 152.50,239.26 152.00,239.30 151.50,239.35 151.00,239.40 150.50,239.44 150.00,239.49 149.50,239.54 149.00,239.58 148.50,239.63 148.00,239.68 147.50,239.72 147.00,239.77 146.50,239.81 146.00,239.86 145.50,239.91 145.00,239.95 144.50,240.00" fill="#f26a2a"/>
<polygon points="144.50,239.82 145.00,239.76 145.50,239.71 146.00,239.66 146.50,239.60 147.00,239.55 147.50,239.49 148.00,239.44 148.50,239.38 149.00,239.32 149.50,239.26 150.00,239.20 150.50,239.14 151.00,239.07 151.50,239.01 152.00,238.93 152.50,238.86 153.00,238.78 153.50,238.70 154.00,238.61 154.50,238.51 155.00,238.41 155.50,238.30 156.00,238.18 156.50,238.05 157.00,237.91 157.50,237.76 158.00,237.59 158.50,237.40 159.00,237.20 159.50,236.99 160.00,236.75 160.50,236.48 161.00,236.20 161.50,235.89 162.00,235.55 162.50,235.19 163.00,234.80 163.50,234.37 164.00,233.92 164.50,233.43 165.00,232.91 165.50,232.36 166.00,231.78 166.50,231.16 167.00,230.52 167.50,229.85 168.00,229.15 168.50,228.43 169.00,227.68 169.50,226.92 170.00,226.15 170.50,225.36 171.00,224.58 171.50,223.79 172.00,223.01 172.50,222.25 173.00,221.50 173.50,220.78 174.00,220.09 174.50,219.44 175.00,218.84 175.50,218.29 176.00,217.79 176.50,217.36 177.00,217.00 177.50,216.71 178.00,216.50 178.50,216.36 179.00,216.31 179.50,216.33 180.00,216.44 180.50,216.62 181.00,216.88 181.50,217.20 182.00,217.59 182.50,218.04 183.00,218.54 183.50,219.09 184.00,219.68 184.50,220.30 185.00,220.95 185.50,221.62 186.00,222.30 186.50,222.99 187.00,223.69 187.50,224.38 188.00,225.06 188.50,225.73 189.00,226.39 189.50,227.02 190.00,227.63 190.50,228.22 191.00,228.78 191.50,229.30 192.00,229.80 192.50,230.26 193.00,230.70 193.50,231.10 194.00,231.47 194.50,231.80 195.00,232.11 195.50,232.39 196.00,232.64 196.50,232.86 197.00,233.06 197.50,233.23 198.00,233.38 198.50,233.51 199.00,233.62 199.50,233.72 200.00,233.79 200.50,233.86 201.00,233.91 201.50,233.95 202.00,233.98 202.50,234.00 203.00,234.01 203.50,234.01 204.00,234.01 204.50,234.00 205.00,233.99 205.50,233.97 206.00,233.95 206.50,233.93 207.00,233.90 207.50,233.87 208.00,233.84 208.50,233.81 209.00,233.77 209.50,233.74 210.00,233.70 210.50,233.66 211.00,233.62 211.50,233.59 212.00,233.55 212.50,233.51 213.00,233.47 213.50,233.43 214.00,233.38 214.50,233.34 215.00,233.30 215.50,233.26 216.00,233.22 216.50,233.17 217.00,233.13 217.50,233.09 218.00,233.05 218.50,233.00 219.00,232.96 219.50,232.92 220.00,232.87 220.50,232.83 221.00,232.79 221.50,232.74 222.00,232.70 222.50,232.66 223.00,232.61 223.50,232.57 224.00,232.52 224.50,232.48 225.00,232.44 225.50,232.39 226.00,232.35 226.50,232.30 227.00,232.26 227.50,232.21 228.00,232.17 228.50,232.12 229.00,232.08 229.50,232.04 230.00,231.99 230.50,231.95 231.00,231.90 231.50,231.86 232.00,231.81 232.50,231.77 233.00,231.72 233.50,231.68 234.00,231.63 234.50,231.59 235.00,231.54 235.50,231.50 236.00,231.45 236.50,231.41 237.00,231.36 237.50,231.32 238.00,231.27 238.50,231.22 239.00,231.18 239.50,231.13 240.00,231.09 240.50,231.04 241.00,231.00 241.50,230.95 242.00,230.91 242.50,230.86 243.00,230.82 243.50,230.77 244.00,230.73 244.50,230.68 245.00,230.63 245.50,230.59 246.00,230.54 246.50,230.50 247.00,230.45 247.00,230.50 246.50,230.55 246.00,230.59 245.50,230.64 245.00,230.69 244.50,230.73 244.00,230.78 243.50,230.82 243.00,230.87 242.50,230.92 242.00,230.96 241.50,231.01 241.00,231.06 240.50,231.10 240.00,231.15 239.50,231.20 239.00,231.24 238.50,231.29 238.00,231.33 237.50,231.38 237.00,231.43 236.50,231.47 236.00,231.52 235.50,231.57 235.00,231.61 234.50,231.66 234.00,231.70 233.50,231.75 233.00,231.80 232.50,231.84 232.00,231.89 231.50,231.94 231.00,231.98 230.50,232.03 230.00,232.08 229.50,232.12 229.00,232.17 228.50,232.21 228.00,232.26 227.50,232.31 227.00,232.35 226.50,232.40 226.00,232.45 225.50,232.49 225.00,232.54 224.50,232.59 224.00,232.63 223.50,232.68 223.00,232.72 222.50,232.77 222.00,232.82 221.50,232.86 221.00,232.91 220.50,232.96 220.00,233.00 219.50,233.05 219.00,233.10 218.50,233.14 218.00,233.19 217.50,233.23 217.00,233.28 216.50,233.33 216.00,233.37 215.50,233.42 215.00,233.47 214.50,233.51 214.00,233.56 213.50,233.60 213.00,233.65 212.50,233.70 212.00,233.74 211.50,233.79 211.00,233.84 210.50,233.88 210.00,233.93 209.50,233.98 209.00,234.02 208.50,234.07 208.00,234.11 207.50,234.16 207.00,234.21 206.50,234.25 206.00,234.30 205.50,234.35 205.00,234.39 204.50,234.44 204.00,234.49 203.50,234.53 203.00,234.58 202.50,234.62 202.00,234.67 201.50,234.72 201.00,234.76 200.50,234.81 200.00,234.86 199.50,234.90 199.00,234.95 198.50,235.00 198.00,235.04 197.50,235.09 197.00,235.13 196.50,235.18 196.00,235.23 195.50,235.27 195.00,235.32 194.50,235.37 194.00,235.41 193.50,235.46 193.00,235.50 192.50,235.55 192.00,235.60 191.50,235.64 191.00,235.69 190.50,235.74 190.00,235.78 189.50,235.83 189.00,235.88 188.50,235.92 188.00,235.97 187.50,236.01 187.00,236.06 186.50,236.11 186.00,236.15 185.50,236.20 185.00,236.25 184.50,236.29 184.00,236.34 183.50,236.39 183.00,236.43 182.50,236.48 182.00,236.52 181.50,236.57 181.00,236.62 180.50,236.66 180.00,236.71 179.50,236.76 179.00,236.80 178.50,236.85 178.00,236.90 177.50,236.94 177.00,236.99 176.50,237.03 176.00,237.08 175.50,237.13 175.00,237.17 174.50,237.22 174.00,237.27 173.50,237.31 173.00,237.36 172.50,237.40 172.00,237.45 171.50,237.50 171.00,237.54 170.50,237.59 170.00,237.64 169.50,237.68 169.00,237.73 168.50,237.78 168.00,237.82 167.50,237.87 167.00,237.91 166.50,237.96 166.00,238.01 165.50,238.05 165.00,238.10 164.50,238.15 164.00,238.19 163.50,238.24 163.00,238.29 162.50,238.33 162.00,238.38 161.50,238.42 161.00,238.47 160.50,238.52 160.00,238.56 159.50,238.61 159.00,238.66 158.50,238.70 158.00,238.75 157.50,238.80 157.00,238.84 156.50,238.89 156.00,238.93 155.50,238.98 155.00,239.03 154.50,239.07 154.00,239.12 153.50,239.17 153.00,239.21 152.50,239.26 152.00,239.30 151.50,239.35 151.00,239.40 150.50,239.44 150.00,239.49 149.50,239.54 149.00,239.58 148.50,239.63 148.00,239.68 147.50,239.72 147.00,239.77 146.50,239.81 146.00,239.86 145.50,239.91 145.00,239.95 144.50,240.00" fill="#3c8ee6"/>
<polygon points="144.50,239.99 145.00,239.94 145.50,239.89 146.00,239.85 146.50,239.80 147.00,239.76 147.50,239.71 148.00,239.66 148.50,239.62 149.00,239.57 149.50,239.52 150.00,239.48 150.50,239.43 151.00,239.38 151.50,239.34 152.00,239.29 152.50,239.24 153.00,239.20 153.50,239.15 154.00,239.10 154.50,239.06 155.00,239.01 155.50,238.96 156.00,238.92 156.50,238.87 157.00,238.82 157.50,238.78 158.00,238.73 158.50,238.68 159.00,238.64 159.50,238.59 160.00,238.54 160.50,238.50 161.00,238.45 161.50,238.40 162.00,238.36 162.50,238.31 163.00,238.26 163.50,238.22 164.00,238.17 164.50,238.12 165.00,238.08 165.50,238.03 166.00,237.98 166.50,237.94 167.00,237.89 167.50,237.84 168.00,237.79 168.50,237.75 169.00,237.70 169.50,237.65 170.00,237.61 170.50,237.56 171.00,237.51 171.50,237.47 172.00,237.42 172.50,237.37 173.00,237.32 173.50,237.28 174.00,237.23 174.50,237.18 175.00,237.13 175.50,237.09 176.00,237.04 176.50,236.99 177.00,236.94 177.50,236.90 178.00,236.85 178.50,236.80 179.00,236.75 179.50,236.71 180.00,236.66 180.50,236.61 181.00,236.56 181.50,236.51 182.00,236.47 182.50,236.42 183.00,236.37 183.50,236.32 184.00,236.27 184.50,236.22 185.00,236.18 185.50,236.13 186.00,236.08 186.50,236.03 187.00,235.98 187.50,235.93 188.00,235.88 188.50,235.83 189.00,235.78 189.50,235.73 190.00,235.68 190.50,235.63 191.00,235.58 191.50,235.53 192.00,235.48 192.50,235.42 193.00,235.37 193.50,235.32 194.00,235.26 194.50,235.21 195.00,235.16 195.50,235.10 196.00,235.04 196.50,234.99 197.00,234.93 197.50,234.87 198.00,234.81 198.50,234.75 199.00,234.68 199.50,234.62 200.00,234.54 200.50,234.46 201.00,234.38 201.50,234.27 202.00,234.15 202.50,234.00 203.00,233.82 203.50,233.57 204.00,233.25 204.50,232.84 205.00,232.29 205.50,231.59 206.00,230.70 206.50,229.59 207.00,228.24 207.50,226.62 208.00,224.73 208.50,222.59 209.00,220.23 209.50,217.70 210.00,215.10 210.50,212.51 211.00,210.06 211.50,207.88 212.00,206.10 212.50,204.85 213.00,204.20 213.50,204.23 214.00,204.90 214.50,206.18 215.00,207.95 215.50,210.10 216.00,212.50 216.50,215.01 217.00,217.51 217.50,219.92 218.00,222.15 218.50,224.15 219.00,225.89 219.50,227.36 220.00,228.58 220.50,229.54 221.00,230.30 221.50,230.87 222.00,231.30 222.50,231.60 223.00,231.81 223.50,231.95 224.00,232.04 224.50,232.09 225.00,232.11 225.50,232.11 226.00,232.11 226.50,232.09 227.00,232.07 227.50,232.05 228.00,232.02 228.50,231.99 229.00,231.95 229.50,231.92 230.00,231.88 230.50,231.85 231.00,231.81 231.50,231.77 232.00,231.74 232.50,231.70 233.00,231.66 233.50,231.62 234.00,231.58 234.50,231.54 235.00,231.50 235.50,231.45 236.00,231.41 236.50,231.37 237.00,231.33 237.50,231.29 238.00,231.24 238.50,231.20 239.00,231.16 239.50,231.11 240.00,231.07 240.50,231.03 241.00,230.98 241.50,230.94 242.00,230.90 242.50,230.85 243.00,230.81 243.50,230.76 244.00,230.72 244.50,230.67 245.00,230.63 245.50,230.59 246.00,230.54 246.50,230.50 247.00,230.45 247.00,230.50 246.50,230.55 246.00,230.59 245.50,230.64 245.00,230.69 244.50,230.73 244.00,230.78 243.50,230.82 243.00,230.87 242.50,230.92 242.00,230.96 241.50,231.01 241.00,231.06 240.50,231.10 240.00,231.15 239.50,231.20 239.00,231.24 238.50,231.29 238.00,231.33 237.50,231.38 237.00,231.43 236.50,231.47 236.00,231.52 235.50,231.57 235.00,231.61 234.50,231.66 234.00,231.70 233.50,231.75 233.00,231.80 232.50,231.84 232.00,231.89 231.50,231.94 231.00,231.98 230.50,232.03 230.00,232.08 229.50,232.12 229.00,232.17 228.50,232.21 228.00,232.26 227.50,232.31 227.00,232.35 226.50,232.40 226.00,232.45 225.50,232.49 225.00,232.54 224.50,232.59 224.00,232.63 223.50,232.68 223.00,232.72 222.50,232.77 222.00,232.82 221.50,232.86 221.00,232.91 220.50,232.96 220.00,233.00 219.50,233.05 219.00,233.10 218.50,233.14 218.00,233.19 217.50,233.23 217.00,233.28 216.50,233.33 216.00,233.37 215.50,233.42 215.00,233.47 214.50,233.51 214.00,233.56 213.50,233.60 213.00,233.65 212.50,233.70 212.00,233.74 211.50,233.79 211.00,233.84 210.50,233.88 210.00,233.93 209.50,233.98 209.00,234.02 208.50,234.07 208.00,234.11 207.50,234.16 207.00,234.21 206.50,234.25 206.00,234.30 205.50,234.35 205.00,234.39 204.50,234.44 204.00,234.49 203.50,234.53 203.00,234.58 202.50,234.62 202.00,234.67 201.50,234.72 201.00,234.76 200.50,234.81 200.00,234.86 199.50,234.90 199.00,234.95 198.50,235.00 198.00,235.04 197.50,235.09 197.00,235.13 196.50,235.18 196.00,235.23 195.50,235.27 195.00,235.32 194.50,235.37 194.00,235.41 193.50,235.46 193.00,235.50 192.50,235.55 192.00,235.60 191.50,235.64 191.00,235.69 190.50,235.74 190.00,235.78 189.50,235.83 189.00,235.88 188.50,235.92 188.00,235.97 187.50,236.01 187.00,236.06 186.50,236.11 186.00,236.15 185.50,236.20 185.00,236.25 184.50,236.29 184.00,236.34 183.50,236.39 183.00,236.43 182.50,236.48 182.00,236.52 181.50,236.57 181.00,236.62 180.50,236.66 180.00,236.71 179.50,236.76 179.00,236.80 178.50,236.85 178.00,236.90 177.50,236.94 177.00,236.99 176.50,237.03 176.00,237.08 175.50,237.13 175.00,237.17 174.50,237.22 174.00,237.27 173.50,237.31 173.00,237.36 172.50,237.40 172.00,237.45 171.50,237.50 171.00,237.54 170.50,237.59 170.00,237.64 169.50,237.68 169.00,237.73 168.50,237.78 168.00,237.82 167.50,237.87 167.00,237.91 166.50,237.96 166.00,238.01 165.50,238.05 165.00,238.10 164.50,238.15 164.00,238.19 163.50,238.24 163.00,238.29 162.50,238.33 162.00,238.38 161.50,238.42 161.00,238.47 160.50,238.52 160.00,238.56 159.50,238.61 159.00,238.66 158.50,238.70 158.00,238.75 157.50,238.80 157.00,238.84 156.50,238.89 156.00,238.93 155.50,238.98 155.00,239.03 154.50,239.07 154.00,239.12 153.50,239.17 153.00,239.21 152.50,239.26 152.00,239.30 151.50,239.35 151.00,239.40 150.50,239.44 150.00,239.49 149.50,239.54 149.00,239.58 148.50,239.63 148.00,239.68 147.50,239.72 147.00,239.77 146.50,239.81 146.00,239.86 145.50,239.91 145.00,239.95 144.50,240.00" fill="#44dd22"/>
<polygon points="144.50,239.99 145.00,239.94 145.50,239.89 146.00,239.85 146.50,239.80 147.00,239.75 147.50,239.71 148.00,239.66 148.50,239.61 149.00,239.57 149.50,239.52 150.00,239.47 150.50,239.43 151.00,239.38 151.50,239.33 152.00,239.29 152.50,239.24 153.00,239.20 153.50,239.15 154.00,239.10 154.50,239.06 155.00,239.01 155.50,238.96 156.00,238.92 156.50,238.87 157.00,238.82 157.50,238.78 158.00,238.73 158.50,238.68 159.00,238.64 159.50,238.59 160.00,238.54 160.50,238.50 161.00,238.45 161.50,238.40 162.00,238.36 162.50,238.31 163.00,238.26 163.50,238.22 164.00,238.17 164.50,238.12 165.00,238.08 165.50,238.03 166.00,237.98 166.50,237.94 167.00,237.89 167.50,237.84 168.00,237.80 168.50,237.75 169.00,237.70 169.50,237.66 170.00,237.61 170.50,237.56 171.00,237.52 171.50,237.47 172.00,237.42 172.50,237.38 173.00,237.33 173.50,237.28 174.00,237.23 174.50,237.19 175.00,237.14 175.50,237.09 176.00,237.05 176.50,237.00 177.00,236.95 177.50,236.91 178.00,236.86 178.50,236.81 179.00,236.77 179.50,236.72 180.00,236.67 180.50,236.62 181.00,236.58 181.50,236.53 182.00,236.48 182.50,236.44 183.00,236.39 183.50,236.34 184.00,236.29 184.50,236.25 185.00,236.20 185.50,236.15 186.00,236.11 186.50,236.06 187.00,236.01 187.50,235.96 188.00,235.92 188.50,235.87 189.00,235.82 189.50,235.77 190.00,235.73 190.50,235.68 191.00,235.63 191.50,235.58 192.00,235.53 192.50,235.49 193.00,235.44 193.50,235.39 194.00,235.34 194.50,235.29 195.00,235.25 195.50,235.20 196.00,235.15 196.50,235.10 197.00,235.05 197.50,235.00 198.00,234.96 198.50,234.91 199.00,234.86 199.50,234.81 200.00,234.76 200.50,234.71 201.00,234.66 201.50,234.61 202.00,234.56 202.50,234.51 203.00,234.46 203.50,234.41 204.00,234.36 204.50,234.31 205.00,234.26 205.50,234.21 206.00,234.15 206.50,234.10 207.00,234.05 207.50,233.99 208.00,233.94 208.50,233.88 209.00,233.82 209.50,233.76 210.00,233.69 210.50,233.62 211.00,233.55 211.50,233.48 212.00,233.39 212.50,233.31 213.00,233.21 213.50,233.11 214.00,233.00 214.50,232.88 215.00,232.75 215.50,232.60 216.00,232.44 216.50,232.26 217.00,232.07 217.50,231.85 218.00,231.61 218.50,231.35 219.00,231.07 219.50,230.76 220.00,230.42 220.50,230.05 221.00,229.66 221.50,229.23 222.00,228.78 222.50,228.29 223.00,227.79 223.50,227.25 224.00,226.69 224.50,226.11 225.00,225.52 225.50,224.91 226.00,224.30 226.50,223.68 227.00,223.07 227.50,222.46 228.00,221.87 228.50,221.30 229.00,220.77 229.50,220.26 230.00,219.81 230.50,219.40 231.00,219.05 231.50,218.76 232.00,218.53 232.50,218.38 233.00,218.30 233.50,218.29 234.00,218.35 234.50,218.48 235.00,218.68 235.50,218.94 236.00,219.25 236.50,219.62 237.00,220.02 237.50,220.47 238.00,220.94 238.50,221.44 239.00,221.95 239.50,222.48 240.00,223.00 240.50,223.52 241.00,224.04 241.50,224.54 242.00,225.02 242.50,225.49 243.00,225.93 243.50,226.35 244.00,226.74 244.50,227.10 245.00,227.43 245.50,227.73 246.00,228.01 246.50,228.26 247.00,228.47 247.00,230.50 246.50,230.55 246.00,230.59 245.50,230.64 245.00,230.69 244.50,230.73 244.00,230.78 243.50,230.82 243.00,230.87 242.50,230.92 242.00,230.96 241.50,231.01 241.00,231.06 240.50,231.10 240.00,231.15 239.50,231.20 239.00,231.24 238.50,231.29 238.00,231.33 237.50,231.38 237.00,231.43 236.50,231.47 236.00,231.52 235.50,231.57 235.00,231.61 234.50,231.66 234.00,231.70 233.50,231.75 233.00,231.80 232.50,231.84 232.00,231.89 231.50,231.94 231.00,231.98 230.50,232.03 230.00,232.08 229.50,232.12 229.00,232.17 228.50,232.21 228.00,232.26 227.50,232.31 227.00,232.35 226.50,232.40 226.00,232.45 225.50,232.49 225.00,232.54 224.50,232.59 224.00,232.63 223.50,232.68 223.00,232.72 222.50,232.77 222.00,232.82 221.50,232.86 221.00,232.91 220.50,232.96 220.00,233.00 219.50,233.05 219.00,233.10 218.50,233.14 218.00,233.19 217.50,233.23 217.00,233.28 216.50,233.33 216.00,233.37 215.50,233.42 215.00,233.47 214.50,233.51 214.00,233.56 213.50,233.60 213.00,233.65 212.50,233.70 212.00,233.74 211.50,233.79 211.00,233.84 210.50,233.88 210.00,233.93 209.50,233.98 209.00,234.02 208.50,234.07 208.00,234.11 207.50,234.16 207.00,234.21 206.50,234.25 206.00,234.30 205.50,234.35 205.00,234.39 204.50,234.44 204.00,234.49 203.50,234.53 203.00,234.58 202.50,234.62 202.00,234.67 201.50,234.72 201.00,234.76 200.50,234.81 200.00,234.86 199.50,234.90 199.00,234.95 198.50,235.00 198.00,235.04 197.50,235.09 197.00,235.13 196.50,235.18 196.00,235.23 195.50,235.27 195.00,235.32 194.50,235.37 194.00,235.41 193.50,235.46 193.00,235.50 192.50,235.55 192.00,235.60 191.50,235.64 191.00,235.69 190.50,235.74 190.00,235.78 189.50,235.83 189.00,235.88 188.50,235.92 188.00,235.97 187.50,236.01 187.00,236.06 186.50,236.11 186.00,236.15 185.50,236.20 185.00,236.25 184.50,236.29 184.00,236.34 183.50,236.39 183.00,236.43 182.50,236.48 182.00,236.52 181.50,236.57 181.00,236.62 180.50,236.66 180.00,236.71 179.50,236.76 179.00,236.80 178.50,236.85 178.00,236.90 177.50,236.94 177.00,236.99 176.50,237.03 176.00,237.08 175.50,237.13 175.00,237.17 174.50,237.22 174.00,237.27 173.50,237.31 173.00,237.36 172.50,237.40 172.00,237.45 171.50,237.50 171.00,237.54 170.50,237.59 170.00,237.64 169.50,237.68 169.00,237.73 168.50,237.78 168.00,237.82 167.50,237.87 167.00,237.91 166.50,237.96 166.00,238.01 165.50,238.05 165.00,238.10 164.50,238.15 164.00,238.19 163.50,238.24 163.00,238.29 162.50,238.33 162.00,238.38 161.50,238.42 161.00,238.47 160.50,238.52 160.00,238.56 159.50,238.61 159.00,238.66 158.50,238.70 158.00,238.75 157.50,238.80 157.00,238.84 156.50,238.89 156.00,238.93 155.50,238.98 155.00,239.03 154.50,239.07 154.00,239.12 153.50,239.17 153.00,239.21 152.50,239.26 152.00,239.30 151.50,239.35 151.00,239.40 150.50,239.44 150.00,239.49 149.50,239.54 149.00,239.58 148.50,239.63 148.00,239.68 147.50,239.72 147.00,239.77 146.50,239.81 146.00,239.86 145.50,239.91 145.00,239.95 144.50,240.00" fill="#5858e0"/>
<polyline points="144.50,236.17 145.00,234.35 145.50,236.48 146.00,235.63 146.50,234.36 147.00,234.94 147.50,232.73 148.00,234.76 148.50,234.71 149.00,233.40 149.50,234.96 150.00,233.54 150.50,233.73 151.00,231.09 151.50,233.23 152.00,232.95 152.50,232.38 153.00,232.43 153.50,231.17 154.00,230.12 154.50,228.79 155.00,226.19 155.50,226.23 156.00,220.59 156.50,221.61 157.00,216.89 157.50,211.98 158.00,207.51 158.50,201.43 159.00,193.43 159.50,186.99 160.00,180.51 160.50,175.11 161.00,169.47 161.50,169.08 162.00,171.76 162.50,174.78 163.00,179.84 163.50,185.49 164.00,191.58 164.50,197.26 165.00,201.00 165.50,206.79 166.00,208.85 166.50,213.92 167.00,217.08 167.50,218.44 168.00,219.78 168.50,219.87 169.00,219.60 169.50,220.40 170.00,220.12 170.50,218.87 171.00,218.36 171.50,217.48 172.00,216.83 172.50,216.58 173.00,213.36 173.50,216.57 174.00,215.39 174.50,214.85 175.00,215.30 175.50,212.99 176.00,214.47 176.50,214.01 177.00,212.87 177.50,213.52 178.00,211.96 178.50,212.81 179.00,211.45 179.50,211.31 180.00,211.74 180.50,211.45 181.00,212.27 181.50,213.96 182.00,214.59 182.50,212.87 183.00,214.84 183.50,215.24 184.00,215.77 184.50,215.07 185.00,215.72 185.50,217.54 186.00,218.27 186.50,218.28 187.00,219.11 187.50,220.14 188.00,222.03 188.50,222.69 189.00,223.07 189.50,224.12 190.00,222.05 190.50,224.11 191.00,224.25 191.50,226.13 192.00,223.75 192.50,223.06 193.00,227.80 193.50,225.71 194.00,228.45 194.50,227.82 195.00,226.25 195.50,229.06 196.00,229.03 196.50,228.87 197.00,229.78 197.50,227.98 198.00,230.09 198.50,230.74 199.00,231.23 199.50,231.10 200.00,230.78 200.50,231.08 201.00,230.38 201.50,229.81 202.00,228.65 202.50,230.65 203.00,230.37 203.50,228.10 204.00,230.39 204.50,228.84 205.00,227.48 205.50,227.15 206.00,227.56 206.50,226.45 207.00,225.59 207.50,223.83 208.00,220.18 208.50,219.48 209.00,215.03 209.50,213.91 210.00,211.03 210.50,208.83 211.00,205.73 211.50,204.78 212.00,202.01 212.50,200.18 213.00,198.48 213.50,200.74 214.00,198.88 214.50,201.32 215.00,204.74 215.50,206.15 216.00,208.98 216.50,209.82 217.00,213.78 217.50,216.16 218.00,218.28 218.50,218.21 219.00,221.43 219.50,220.43 220.00,222.09 220.50,222.70 221.00,224.24 221.50,225.00 222.00,224.64 222.50,223.33 223.00,224.43 223.50,220.60 224.00,223.02 224.50,223.39 225.00,221.09 225.50,221.22 226.00,220.62 226.50,219.86 227.00,217.28 227.50,218.68 228.00,219.44 228.50,218.22 229.00,216.27 229.50,217.27 230.00,217.24 230.50,217.20 231.00,216.56 231.50,216.21 232.00,215.23 232.50,215.69 233.00,214.76 233.50,214.69 234.00,214.32 234.50,214.13 235.00,214.85 235.50,215.36 236.00,215.72 236.50,217.59 237.00,216.81 237.50,216.57 238.00,218.57 238.50,218.12 239.00,218.65 239.50,219.44 240.00,220.82 240.50,220.82 241.00,219.62 241.50,221.14 242.00,221.37 242.50,222.05 243.00,221.98 243.50,223.58 244.00,223.76 244.50,224.96 245.00,222.21 245.50,224.51 246.00,225.17 246.50,224.70 247.00,222.80" fill="none" stroke="#bcbcbc" stroke-width="1.5" opacity="0.85"/>
<polyline points="144.50,238.03 145.00,237.92 145.50,237.80 146.00,237.68 146.50,237.55 147.00,237.42 147.50,237.27 148.00,237.11 148.50,236.95 149.00,236.76 149.50,236.57 150.00,236.35 150.50,236.11 151.00,235.84 151.50,235.53 152.00,235.17 152.50,234.74 153.00,234.21 153.50,233.55 154.00,232.71 154.50,231.61 155.00,230.17 155.50,228.30 156.00,225.87 156.50,222.79 157.00,218.97 157.50,214.35 158.00,208.95 158.50,202.85 159.00,196.25 159.50,189.47 160.00,183.00 160.50,177.48 161.00,173.63 161.50,172.05 162.00,172.98 162.50,176.18 163.00,181.05 163.50,186.85 164.00,192.95 164.50,198.87 165.00,204.26 165.50,208.94 166.00,212.82 166.50,215.89 167.00,218.19 167.50,219.83 168.00,220.89 168.50,221.50 169.00,221.76 169.50,221.75 170.00,221.55 170.50,221.21 171.00,220.78 171.50,220.28 172.00,219.74 172.50,219.18 173.00,218.61 173.50,218.05 174.00,217.49 174.50,216.97 175.00,216.47 175.50,216.02 176.00,215.61 176.50,215.26 177.00,214.97 177.50,214.75 178.00,214.60 178.50,214.52 179.00,214.51 179.50,214.59 180.00,214.73 180.50,214.95 181.00,215.24 181.50,215.60 182.00,216.02 182.50,216.50 183.00,217.03 183.50,217.60 184.00,218.21 184.50,218.85 185.00,219.52 185.50,220.21 186.00,220.91 186.50,221.61 187.00,222.32 187.50,223.02 188.00,223.72 188.50,224.40 189.00,225.06 189.50,225.71 190.00,226.32 190.50,226.91 191.00,227.48 191.50,228.01 192.00,228.51 192.50,228.98 193.00,229.41 193.50,229.81 194.00,230.18 194.50,230.51 195.00,230.82 195.50,231.09 196.00,231.34 196.50,231.55 197.00,231.74 197.50,231.91 198.00,232.05 198.50,232.17 199.00,232.26 199.50,232.34 200.00,232.39 200.50,232.43 201.00,232.44 201.50,232.42 202.00,232.38 202.50,232.29 203.00,232.16 203.50,231.97 204.00,231.69 204.50,231.31 205.00,230.80 205.50,230.13 206.00,229.26 206.50,228.17 207.00,226.83 207.50,225.22 208.00,223.35 208.50,221.21 209.00,218.85 209.50,216.32 210.00,213.71 210.50,211.11 211.00,208.64 211.50,206.45 212.00,204.64 212.50,203.36 213.00,202.67 213.50,202.65 214.00,203.27 214.50,204.48 215.00,206.17 215.50,208.23 216.00,210.51 216.50,212.90 217.00,215.26 217.50,217.50 218.00,219.54 218.50,221.34 219.00,222.84 219.50,224.06 220.00,224.98 220.50,225.63 221.00,226.04 221.50,226.24 222.00,226.26 222.50,226.13 223.00,225.88 223.50,225.54 224.00,225.11 224.50,224.64 225.00,224.12 225.50,223.56 226.00,222.99 226.50,222.41 227.00,221.82 227.50,221.24 228.00,220.67 228.50,220.12 229.00,219.60 229.50,219.11 230.00,218.67 230.50,218.27 231.00,217.94 231.50,217.66 232.00,217.44 232.50,217.30 233.00,217.23 233.50,217.22 234.00,217.29 234.50,217.43 235.00,217.64 235.50,217.90 236.00,218.22 236.50,218.60 237.00,219.01 237.50,219.46 238.00,219.94 238.50,220.44 239.00,220.96 239.50,221.49 240.00,222.02 240.50,222.54 241.00,223.06 241.50,223.57 242.00,224.06 242.50,224.53 243.00,224.97 243.50,225.39 244.00,225.78 244.50,226.15 245.00,226.48 245.50,226.79 246.00,227.07 246.50,227.32 247.00,227.54" fill="none" stroke="#5ad8c8" stroke-width="1.6"/>
<line x1="180" y1="235.3" x2="247" y2="229.6" stroke="#44dd22" stroke-width="0.9"/>
<rect x="144.6" y="149.6" width="102.4" height="96.4" fill="none" stroke="#8a949a" stroke-width="0.9"/>
<line x1="144.5" y1="246" x2="144.5" y2="244" stroke="#8a949a" stroke-width="0.6"/>
<line x1="159.2" y1="246" x2="159.2" y2="244.8" stroke="#8a949a" stroke-width="0.6"/>
<line x1="174.0" y1="246" x2="174.0" y2="244" stroke="#8a949a" stroke-width="0.6"/>
<line x1="188.8" y1="246" x2="188.8" y2="244.8" stroke="#8a949a" stroke-width="0.6"/>
<line x1="203.5" y1="246" x2="203.5" y2="244" stroke="#8a949a" stroke-width="0.6"/>
<line x1="218.2" y1="246" x2="218.2" y2="244.8" stroke="#8a949a" stroke-width="0.6"/>
<line x1="233.0" y1="246" x2="233.0" y2="244" stroke="#8a949a" stroke-width="0.6"/>
<line x1="247.8" y1="246" x2="247.8" y2="244.8" stroke="#8a949a" stroke-width="0.6"/>
<text x="144.5" y="256.3" font-family="Liberation Sans" font-size="8.2" font-weight="normal" fill="#333" text-anchor="middle"  stroke="#333" stroke-width="0.3">850</text>
<text x="174.0" y="256.3" font-family="Liberation Sans" font-size="8.2" font-weight="normal" fill="#333" text-anchor="middle"  stroke="#333" stroke-width="0.3">860</text>
<text x="203.5" y="256.3" font-family="Liberation Sans" font-size="8.2" font-weight="normal" fill="#333" text-anchor="middle"  stroke="#333" stroke-width="0.3">870</text>
<text x="233.0" y="256.3" font-family="Liberation Sans" font-size="8.2" font-weight="normal" fill="#333" text-anchor="middle"  stroke="#333" stroke-width="0.3">880</text>
<text x="195.6" y="264.8" font-family="Liberation Sans" font-size="8.6" font-weight="normal" fill="#333" text-anchor="middle" textLength="75.5" lengthAdjust="spacingAndGlyphs"  stroke="#333" stroke-width="0.3">Binding energy (eV)</text>
<text x="140.6" y="197.6" font-family="Liberation Sans" font-size="5.8" font-weight="normal" fill="#333" text-anchor="middle" textLength="40" lengthAdjust="spacingAndGlyphs" transform="rotate(-90 140.6 197.6)" stroke="#333" stroke-width="0.3">Intensity (a.u.)</text>
<text x="164" y="170.4" font-family="Liberation Sans" font-size="6.0" font-weight="normal" fill="#f4844a" text-anchor="start" textLength="19.7" lengthAdjust="spacingAndGlyphs" >Ni2p<tspan font-size="3.8">3/2</tspan></text>
<text x="178.8" y="210" font-family="Liberation Sans" font-size="5.6" font-weight="normal" fill="#4a96e8" text-anchor="start" textLength="10" lengthAdjust="spacingAndGlyphs" >Sat.</text>
<text x="214" y="198.7" font-family="Liberation Sans" font-size="6.0" font-weight="normal" fill="#52dc3c" text-anchor="start" textLength="24" lengthAdjust="spacingAndGlyphs" >Ni2p<tspan font-size="3.8">1/2</tspan></text>
<text x="229.7" y="213.5" font-family="Liberation Sans" font-size="5.6" font-weight="normal" fill="#6262e0" text-anchor="start" textLength="10.8" lengthAdjust="spacingAndGlyphs" >Sat.</text>
<text x="254.6" y="162.7" font-family="Liberation Serif" font-size="17.5" font-weight="bold" fill="#000" text-anchor="start" >f</text>
<rect x="279.2" y="152.4" width="112" height="94.6" fill="none" stroke="#8a949a" stroke-width="0.8"/>
<line x1="279.2" y1="247" x2="279.2" y2="245" stroke="#8a949a" stroke-width="0.6"/>
<text x="279.2" y="257.8" font-family="Liberation Sans" font-size="8.2" font-weight="normal" fill="#333" text-anchor="middle" textLength="11" lengthAdjust="spacingAndGlyphs"  stroke="#333" stroke-width="0.3">1.3</text>
<line x1="301.6" y1="247" x2="301.6" y2="245" stroke="#8a949a" stroke-width="0.6"/>
<text x="301.6" y="257.8" font-family="Liberation Sans" font-size="8.2" font-weight="normal" fill="#333" text-anchor="middle" textLength="11" lengthAdjust="spacingAndGlyphs"  stroke="#333" stroke-width="0.3">1.4</text>
<line x1="324.0" y1="247" x2="324.0" y2="245" stroke="#8a949a" stroke-width="0.6"/>
<text x="324.0" y="257.8" font-family="Liberation Sans" font-size="8.2" font-weight="normal" fill="#333" text-anchor="middle" textLength="11" lengthAdjust="spacingAndGlyphs"  stroke="#333" stroke-width="0.3">1.5</text>
<line x1="346.4" y1="247" x2="346.4" y2="245" stroke="#8a949a" stroke-width="0.6"/>
<text x="346.4" y="257.8" font-family="Liberation Sans" font-size="8.2" font-weight="normal" fill="#333" text-anchor="middle" textLength="11" lengthAdjust="spacingAndGlyphs"  stroke="#333" stroke-width="0.3">1.6</text>
<line x1="368.8" y1="247" x2="368.8" y2="245" stroke="#8a949a" stroke-width="0.6"/>
<text x="368.8" y="257.8" font-family="Liberation Sans" font-size="8.2" font-weight="normal" fill="#333" text-anchor="middle" textLength="11" lengthAdjust="spacingAndGlyphs"  stroke="#333" stroke-width="0.3">1.7</text>
<line x1="391.2" y1="247" x2="391.2" y2="245" stroke="#8a949a" stroke-width="0.6"/>
<text x="391.2" y="257.8" font-family="Liberation Sans" font-size="8.2" font-weight="normal" fill="#333" text-anchor="middle" textLength="11" lengthAdjust="spacingAndGlyphs"  stroke="#333" stroke-width="0.3">1.8</text>
<line x1="279.2" y1="247.0" x2="281.2" y2="247.0" stroke="#8a949a" stroke-width="0.6"/>
<text x="277.2" y="249.6" font-family="Liberation Sans" font-size="7.6" font-weight="normal" fill="#333" text-anchor="end"  stroke="#333" stroke-width="0.3">0</text>
<line x1="279.2" y1="228.1" x2="281.2" y2="228.1" stroke="#8a949a" stroke-width="0.6"/>
<text x="277.2" y="230.7" font-family="Liberation Sans" font-size="7.6" font-weight="normal" fill="#333" text-anchor="end"  stroke="#333" stroke-width="0.3">10</text>
<line x1="279.2" y1="209.2" x2="281.2" y2="209.2" stroke="#8a949a" stroke-width="0.6"/>
<text x="277.2" y="211.8" font-family="Liberation Sans" font-size="7.6" font-weight="normal" fill="#333" text-anchor="end"  stroke="#333" stroke-width="0.3">20</text>
<line x1="279.2" y1="190.2" x2="281.2" y2="190.2" stroke="#8a949a" stroke-width="0.6"/>
<text x="277.2" y="192.8" font-family="Liberation Sans" font-size="7.6" font-weight="normal" fill="#333" text-anchor="end"  stroke="#333" stroke-width="0.3">30</text>
<line x1="279.2" y1="171.3" x2="281.2" y2="171.3" stroke="#8a949a" stroke-width="0.6"/>
<text x="277.2" y="173.9" font-family="Liberation Sans" font-size="7.6" font-weight="normal" fill="#333" text-anchor="end"  stroke="#333" stroke-width="0.3">40</text>
<line x1="279.2" y1="152.4" x2="281.2" y2="152.4" stroke="#8a949a" stroke-width="0.6"/>
<text x="277.2" y="155.0" font-family="Liberation Sans" font-size="7.6" font-weight="normal" fill="#333" text-anchor="end"  stroke="#333" stroke-width="0.3">50</text>
<text x="335" y="265.3" font-family="Liberation Sans" font-size="8.2" font-weight="normal" fill="#333" text-anchor="middle" textLength="65.4" lengthAdjust="spacingAndGlyphs"  stroke="#333" stroke-width="0.3">Potential (V vs RHE)</text>
<text x="267.2" y="192.3" font-family="Liberation Sans" font-size="6.9" font-weight="normal" fill="#333" text-anchor="middle" transform="rotate(-90 267.2 192.3)" stroke="#333" stroke-width="0.3">J (mA/cm<tspan font-size="4.3" dy="-2.4">2</tspan><tspan dy="2.4">)</tspan></text>
<clipPath id="cf"><rect x="279.2" y="152.4" width="112" height="94.6"/></clipPath><g clip-path="url(#cf)">
<line x1="279.2" y1="244.8" x2="330" y2="244.2" stroke="#50e050" stroke-width="1.8"/>
<polyline points="279.20,246.34 279.70,246.34 280.20,246.34 280.70,246.34 281.20,246.34 281.70,246.34 282.20,246.34 282.70,246.34 283.20,246.34 283.70,246.34 284.20,246.34 284.70,246.34 285.20,246.34 285.70,246.34 286.20,246.34 286.70,246.34 287.20,246.34 287.70,246.34 288.20,246.34 288.70,246.34 289.20,246.34 289.70,246.34 290.20,246.34 290.70,246.34 291.20,246.34 291.70,246.34 292.20,246.34 292.70,246.34 293.20,246.34 293.70,246.34 294.20,246.34 294.70,246.34 295.20,246.34 295.70,246.34 296.20,246.34 296.70,246.34 297.20,246.34 297.70,246.34 298.20,246.34 298.70,246.34 299.20,246.34 299.70,246.34 300.20,246.34 300.70,246.34 301.20,246.34 301.70,246.34 302.20,246.34 302.70,246.34 303.20,246.34 303.70,246.34 304.20,246.34 304.70,246.34 305.20,246.34 305.70,246.34 306.20,246.34 306.70,246.34 307.20,246.34 307.70,246.34 308.20,246.34 308.70,246.34 309.20,246.34 309.70,246.34 310.20,246.34 310.70,246.34 311.20,246.34 311.70,246.34 312.20,246.34 312.70,246.34 313.20,246.34 313.70,246.34 314.20,246.34 314.70,246.34 315.20,246.34 315.70,246.34 316.20,246.34 316.70,246.34 317.20,246.34 317.70,246.34 318.20,246.34 318.70,246.34 319.20,246.34 319.70,246.34 320.20,246.34 320.70,246.34 321.20,246.34 321.70,246.34 322.20,246.34 322.70,246.34 323.20,246.34 323.70,246.34 324.20,246.34 324.70,246.34 325.20,246.34 325.70,246.34 326.20,246.34 326.70,246.34 327.20,246.34 327.70,246.34 328.20,246.34 328.70,246.34 329.20,246.34 329.70,246.34 330.20,246.34 330.70,246.33 331.20,246.33 331.70,246.33 332.20,246.33 332.70,246.33 333.20,246.33 333.70,246.33 334.20,246.33 334.70,246.33 335.20,246.33 335.70,246.32 336.20,246.32 336.70,246.32 337.20,246.32 337.70,246.31 338.20,246.31 338.70,246.31 339.20,246.30 339.70,246.30 340.20,246.29 340.70,246.28 341.20,246.27 341.70,246.26 342.20,246.25 342.70,246.24 343.20,246.22 343.70,246.20 344.20,246.18 344.70,246.16 345.20,246.13 345.70,246.10 346.20,246.07 346.70,246.03 347.20,245.98 347.70,245.93 348.20,245.87 348.70,245.80 349.20,245.73 349.70,245.64 350.20,245.54 350.70,245.43 351.20,245.31 351.70,245.18 352.20,245.02 352.70,244.86 353.20,244.67 353.70,244.47 354.20,244.25 354.70,244.01 355.20,243.75 355.70,243.47 356.20,243.17 356.70,242.85 357.20,242.52 357.70,242.16 358.20,241.79 358.70,241.41 359.20,241.00 359.70,240.59 360.20,240.16 360.70,239.72 361.20,239.27 361.70,238.80 362.20,238.33 362.70,237.85 363.20,237.37 363.70,236.87 364.20,236.37 364.70,235.87 365.20,235.36 365.70,234.85 366.20,234.34 366.70,233.82 367.20,233.30 367.70,232.77 368.20,232.25 368.70,231.72 369.20,231.19 369.70,230.66 370.20,230.13 370.70,229.60 371.20,229.07 371.70,228.53 372.20,228.00 372.70,227.46 373.20,226.93 373.70,226.39 374.20,225.86 374.70,225.32 375.20,224.78 375.70,224.25 376.20,223.71 376.70,223.17 377.20,222.63 377.70,222.10 378.20,221.56 378.70,221.02 379.20,220.48 379.70,219.94 380.20,219.41 380.70,218.87 381.20,218.33 381.70,217.79 382.20,217.25 382.70,216.71 383.20,216.18 383.70,215.64 384.20,215.10 384.70,214.56 385.20,214.02 385.70,213.48 386.20,212.94 386.70,212.41 387.20,211.87 387.70,211.33" fill="none" stroke="#5ad8c8" stroke-width="1.35"/>
<polyline points="279.20,246.34 279.70,246.34 280.20,246.34 280.70,246.34 281.20,246.33 281.70,246.33 282.20,246.33 282.70,246.33 283.20,246.33 283.70,246.33 284.20,246.33 284.70,246.33 285.20,246.33 285.70,246.33 286.20,246.33 286.70,246.33 287.20,246.33 287.70,246.33 288.20,246.33 288.70,246.33 289.20,246.33 289.70,246.33 290.20,246.33 290.70,246.33 291.20,246.33 291.70,246.33 292.20,246.33 292.70,246.33 293.20,246.33 293.70,246.33 294.20,246.33 294.70,246.33 295.20,246.32 295.70,246.32 296.20,246.32 296.70,246.32 297.20,246.32 297.70,246.32 298.20,246.32 298.70,246.32 299.20,246.32 299.70,246.32 300.20,246.32 300.70,246.31 301.20,246.31 301.70,246.31 302.20,246.31 302.70,246.31 303.20,246.31 303.70,246.30 304.20,246.30 304.70,246.30 305.20,246.30 305.70,246.30 306.20,246.29 306.70,246.29 307.20,246.29 307.70,246.29 308.20,246.28 308.70,246.28 309.20,246.28 309.70,246.27 310.20,246.27 310.70,246.27 311.20,246.26 311.70,246.26 312.20,246.25 312.70,246.25 313.20,246.24 313.70,246.24 314.20,246.23 314.70,246.23 315.20,246.22 315.70,246.22 316.20,246.21 316.70,246.20 317.20,246.19 317.70,246.19 318.20,246.18 318.70,246.17 319.20,246.16 319.70,246.15 320.20,246.14 320.70,246.13 321.20,246.12 321.70,246.10 322.20,246.09 322.70,246.08 323.20,246.06 323.70,246.05 324.20,246.03 324.70,246.01 325.20,246.00 325.70,245.98 326.20,245.96 326.70,245.94 327.20,245.91 327.70,245.89 328.20,245.87 328.70,245.84 329.20,245.81 329.70,245.78 330.20,245.75 330.70,245.72 331.20,245.69 331.70,245.65 332.20,245.61 332.70,245.57 333.20,245.53 333.70,245.48 334.20,245.44 334.70,245.39 335.20,245.33 335.70,245.28 336.20,245.22 336.70,245.16 337.20,245.09 337.70,245.03 338.20,244.95 338.70,244.88 339.20,244.80 339.70,244.71 340.20,244.62 340.70,244.53 341.20,244.43 341.70,244.33 342.20,244.22 342.70,244.10 343.20,243.98 343.70,243.85 344.20,243.72 344.70,243.58 345.20,243.43 345.70,243.27 346.20,243.11 346.70,242.94 347.20,242.75 347.70,242.56 348.20,242.36 348.70,242.15 349.20,241.93 349.70,241.69 350.20,241.45 350.70,241.19 351.20,240.92 351.70,240.64 352.20,240.34 352.70,240.03 353.20,239.71 353.70,239.36 354.20,239.01 354.70,238.63 355.20,238.24 355.70,237.83 356.20,237.40 356.70,236.95 357.20,236.49 357.70,236.00 358.20,235.49 358.70,234.96 359.20,234.40 359.70,233.82 360.20,233.22 360.70,232.60 361.20,231.95 361.70,231.27 362.20,230.57 362.70,229.84 363.20,229.08 363.70,228.29 364.20,227.48 364.70,226.64 365.20,225.76 365.70,224.86 366.20,223.93 366.70,222.96 367.20,221.97 367.70,220.95 368.20,219.89 368.70,218.80 369.20,217.68 369.70,216.53 370.20,215.35 370.70,214.13 371.20,212.89 371.70,211.61 372.20,210.30 372.70,208.96 373.20,207.59 373.70,206.19 374.20,204.76 374.70,203.30 375.20,201.81 375.70,200.29 376.20,198.75 376.70,197.17 377.20,195.57 377.70,193.94 378.20,192.28 378.70,190.60 379.20,188.89 379.70,187.16 380.20,185.41 380.70,183.63 381.20,181.83 381.70,180.01 382.20,178.16 382.70,176.30 383.20,174.41 383.70,172.51 384.20,170.59 384.70,168.65 385.20,166.69 385.70,164.72 386.20,162.73 386.70,160.72 387.20,158.70 387.70,156.67" fill="none" stroke="#6a74e0" stroke-width="1.35"/>
<polyline points="279.20,246.62 279.70,246.62 280.20,246.62 280.70,246.62 281.20,246.62 281.70,246.62 282.20,246.62 282.70,246.62 283.20,246.62 283.70,246.62 284.20,246.62 284.70,246.62 285.20,246.62 285.70,246.62 286.20,246.62 286.70,246.62 287.20,246.62 287.70,246.62 288.20,246.62 288.70,246.62 289.20,246.62 289.70,246.62 290.20,246.62 290.70,246.62 291.20,246.62 291.70,246.62 292.20,246.62 292.70,246.62 293.20,246.62 293.70,246.62 294.20,246.62 294.70,246.62 295.20,246.62 295.70,246.62 296.20,246.62 296.70,246.62 297.20,246.62 297.70,246.62 298.20,246.62 298.70,246.62 299.20,246.62 299.70,246.62 300.20,246.62 300.70,246.62 301.20,246.62 301.70,246.62 302.20,246.62 302.70,246.62 303.20,246.62 303.70,246.62 304.20,246.62 304.70,246.62 305.20,246.62 305.70,246.62 306.20,246.62 306.70,246.62 307.20,246.62 307.70,246.62 308.20,246.62 308.70,246.62 309.20,246.62 309.70,246.62 310.20,246.62 310.70,246.62 311.20,246.62 311.70,246.62 312.20,246.62 312.70,246.62 313.20,246.62 313.70,246.62 314.20,246.62 314.70,246.62 315.20,246.62 315.70,246.62 316.20,246.62 316.70,246.62 317.20,246.62 317.70,246.62 318.20,246.62 318.70,246.62 319.20,246.62 319.70,246.62 320.20,246.62 320.70,246.62 321.20,246.62 321.70,246.62 322.20,246.62 322.70,246.62 323.20,246.62 323.70,246.62 324.20,246.62 324.70,246.62 325.20,246.62 325.70,246.62 326.20,246.62 326.70,246.62 327.20,246.62 327.70,246.62 328.20,246.62 328.70,246.62 329.20,246.62 329.70,246.62 330.20,246.62 330.70,246.61 331.20,246.61 331.70,246.61 332.20,246.61 332.70,246.61 333.20,246.61 333.70,246.61 334.20,246.60 334.70,246.60 335.20,246.60 335.70,246.60 336.20,246.59 336.70,246.59 337.20,246.58 337.70,246.58 338.20,246.57 338.70,246.57 339.20,246.56 339.70,246.55 340.20,246.54 340.70,246.53 341.20,246.52 341.70,246.51 342.20,246.49 342.70,246.47 343.20,246.45 343.70,246.43 344.20,246.41 344.70,246.38 345.20,246.35 345.70,246.31 346.20,246.27 346.70,246.23 347.20,246.18 347.70,246.13 348.20,246.07 348.70,246.00 349.20,245.93 349.70,245.85 350.20,245.76 350.70,245.67 351.20,245.57 351.70,245.46 352.20,245.35 352.70,245.23 353.20,245.09 353.70,244.95 354.20,244.81 354.70,244.65 355.20,244.49 355.70,244.33 356.20,244.15 356.70,243.97 357.20,243.78 357.70,243.59 358.20,243.40 358.70,243.20 359.20,242.99 359.70,242.78 360.20,242.57 360.70,242.35 361.20,242.13 361.70,241.91 362.20,241.69 362.70,241.46 363.20,241.24 363.70,241.01 364.20,240.78 364.70,240.55 365.20,240.31 365.70,240.08 366.20,239.84 366.70,239.61 367.20,239.37 367.70,239.14 368.20,238.90 368.70,238.66 369.20,238.42 369.70,238.18 370.20,237.94 370.70,237.70 371.20,237.46 371.70,237.22 372.20,236.98 372.70,236.74 373.20,236.50 373.70,236.26 374.20,236.02 374.70,235.78 375.20,235.54 375.70,235.30 376.20,235.06 376.70,234.82 377.20,234.58 377.70,234.33 378.20,234.09 378.70,233.85 379.20,233.61 379.70,233.37 380.20,233.13 380.70,232.89 381.20,232.64 381.70,232.40 382.20,232.16 382.70,231.92 383.20,231.68 383.70,231.44 384.20,231.19 384.70,230.95 385.20,230.71 385.70,230.47 386.20,230.23 386.70,229.99 387.20,229.74 387.70,229.50" fill="none" stroke="#c8b888" stroke-width="1.35"/>
<polyline points="279.20,246.53 279.70,246.53 280.20,246.53 280.70,246.53 281.20,246.53 281.70,246.53 282.20,246.53 282.70,246.53 283.20,246.52 283.70,246.52 284.20,246.52 284.70,246.52 285.20,246.52 285.70,246.52 286.20,246.52 286.70,246.52 287.20,246.52 287.70,246.52 288.20,246.52 288.70,246.52 289.20,246.52 289.70,246.52 290.20,246.52 290.70,246.52 291.20,246.52 291.70,246.52 292.20,246.52 292.70,246.52 293.20,246.52 293.70,246.52 294.20,246.52 294.70,246.51 295.20,246.51 295.70,246.51 296.20,246.51 296.70,246.51 297.20,246.51 297.70,246.51 298.20,246.50 298.70,246.50 299.20,246.50 299.70,246.50 300.20,246.50 300.70,246.49 301.20,246.49 301.70,246.49 302.20,246.48 302.70,246.48 303.20,246.48 303.70,246.47 304.20,246.47 304.70,246.46 305.20,246.46 305.70,246.45 306.20,246.45 306.70,246.44 307.20,246.43 307.70,246.42 308.20,246.41 308.70,246.41 309.20,246.40 309.70,246.38 310.20,246.37 310.70,246.36 311.20,246.35 311.70,246.33 312.20,246.31 312.70,246.30 313.20,246.28 313.70,246.26 314.20,246.23 314.70,246.21 315.20,246.18 315.70,246.16 316.20,246.12 316.70,246.09 317.20,246.05 317.70,246.02 318.20,245.97 318.70,245.93 319.20,245.88 319.70,245.82 320.20,245.77 320.70,245.70 321.20,245.64 321.70,245.56 322.20,245.48 322.70,245.40 323.20,245.31 323.70,245.21 324.20,245.10 324.70,244.98 325.20,244.85 325.70,244.72 326.20,244.57 326.70,244.41 327.20,244.24 327.70,244.06 328.20,243.86 328.70,243.64 329.20,243.41 329.70,243.16 330.20,242.89 330.70,242.61 331.20,242.29 331.70,241.96 332.20,241.60 332.70,241.22 333.20,240.81 333.70,240.36 334.20,239.89 334.70,239.38 335.20,238.84 335.70,238.26 336.20,237.64 336.70,236.98 337.20,236.28 337.70,235.53 338.20,234.74 338.70,233.90 339.20,233.00 339.70,232.05 340.20,231.05 340.70,229.99 341.20,228.87 341.70,227.70 342.20,226.46 342.70,225.16 343.20,223.80 343.70,222.37 344.20,220.88 344.70,219.33 345.20,217.70 345.70,216.02 346.20,214.27 346.70,212.45 347.20,210.57 347.70,208.62 348.20,206.62 348.70,204.55 349.20,202.42 349.70,200.23 350.20,197.99 350.70,195.69 351.20,193.34 351.70,190.93 352.20,188.48 352.70,185.98 353.20,183.43 353.70,180.84 354.20,178.20 354.70,175.53 355.20,172.82 355.70,170.07 356.20,167.29 356.70,164.47 357.20,161.63 357.70,158.76 358.20,155.86 358.70,152.93 359.20,149.98" fill="none" stroke="#f07838" stroke-width="1.35"/>
<polyline points="279.20,246.33 279.70,246.33 280.20,246.33 280.70,246.33 281.20,246.33 281.70,246.33 282.20,246.33 282.70,246.33 283.20,246.33 283.70,246.32 284.20,246.32 284.70,246.32 285.20,246.32 285.70,246.32 286.20,246.32 286.70,246.32 287.20,246.32 287.70,246.31 288.20,246.31 288.70,246.31 289.20,246.31 289.70,246.30 290.20,246.30 290.70,246.30 291.20,246.30 291.70,246.29 292.20,246.29 292.70,246.28 293.20,246.28 293.70,246.27 294.20,246.27 294.70,246.26 295.20,246.26 295.70,246.25 296.20,246.24 296.70,246.24 297.20,246.23 297.70,246.22 298.20,246.21 298.70,246.20 299.20,246.19 299.70,246.18 300.20,246.16 300.70,246.15 301.20,246.13 301.70,246.12 302.20,246.10 302.70,246.08 303.20,246.06 303.70,246.03 304.20,246.01 304.70,245.98 305.20,245.95 305.70,245.92 306.20,245.89 306.70,245.85 307.20,245.81 307.70,245.77 308.20,245.72 308.70,245.67 309.20,245.62 309.70,245.56 310.20,245.49 310.70,245.43 311.20,245.35 311.70,245.27 312.20,245.18 312.70,245.09 313.20,244.99 313.70,244.88 314.20,244.77 314.70,244.64 315.20,244.50 315.70,244.36 316.20,244.20 316.70,244.03 317.20,243.84 317.70,243.65 318.20,243.43 318.70,243.20 319.20,242.96 319.70,242.69 320.20,242.41 320.70,242.10 321.20,241.77 321.70,241.42 322.20,241.04 322.70,240.64 323.20,240.21 323.70,239.75 324.20,239.25 324.70,238.72 325.20,238.16 325.70,237.56 326.20,236.92 326.70,236.25 327.20,235.52 327.70,234.76 328.20,233.95 328.70,233.09 329.20,232.18 329.70,231.22 330.20,230.21 330.70,229.15 331.20,228.03 331.70,226.85 332.20,225.62 332.70,224.33 333.20,222.98 333.70,221.57 334.20,220.11 334.70,218.58 335.20,217.00 335.70,215.35 336.20,213.65 336.70,211.89 337.20,210.08 337.70,208.20 338.20,206.28 338.70,204.30 339.20,202.26 339.70,200.18 340.20,198.04 340.70,195.86 341.20,193.64 341.70,191.36 342.20,189.05 342.70,186.69 343.20,184.30 343.70,181.87 344.20,179.40 344.70,176.90 345.20,174.37 345.70,171.81 346.20,169.21 346.70,166.60 347.20,163.95 347.70,161.29 348.20,158.60 348.70,155.88 349.20,153.15 349.70,150.40 350.20,147.64" fill="none" stroke="#4a96e8" stroke-width="1.35"/>
<polyline points="279.20,244.73 279.70,244.73 280.20,244.73 280.70,244.73 281.20,244.73 281.70,244.73 282.20,244.73 282.70,244.73 283.20,244.73 283.70,244.73 284.20,244.73 284.70,244.73 285.20,244.73 285.70,244.73 286.20,244.73 286.70,244.73 287.20,244.73 287.70,244.73 288.20,244.73 288.70,244.73 289.20,244.73 289.70,244.73 290.20,244.73 290.70,244.73 291.20,244.73 291.70,244.73 292.20,244.73 292.70,244.73 293.20,244.73 293.70,244.73 294.20,244.73 294.70,244.73 295.20,244.73 295.70,244.73 296.20,244.73 296.70,244.73 297.20,244.73 297.70,244.73 298.20,244.73 298.70,244.73 299.20,244.73 299.70,244.73 300.20,244.73 300.70,244.73 301.20,244.72 301.70,244.72 302.20,244.72 302.70,244.72 303.20,244.72 303.70,244.72 304.20,244.72 304.70,244.72 305.20,244.72 305.70,244.72 306.20,244.72 306.70,244.72 307.20,244.72 307.70,244.72 308.20,244.71 308.70,244.71 309.20,244.71 309.70,244.71 310.20,244.71 310.70,244.71 311.20,244.70 311.70,244.70 312.20,244.70 312.70,244.70 313.20,244.70 313.70,244.69 314.20,244.69 314.70,244.69 315.20,244.68 315.70,244.68 316.20,244.67 316.70,244.67 317.20,244.66 317.70,244.66 318.20,244.65 318.70,244.64 319.20,244.64 319.70,244.63 320.20,244.62 320.70,244.61 321.20,244.60 321.70,244.59 322.20,244.57 322.70,244.56 323.20,244.55 323.70,244.53 324.20,244.51 324.70,244.49 325.20,244.47 325.70,244.45 326.20,244.43 326.70,244.40 327.20,244.37 327.70,244.34 328.20,244.31 328.70,244.27 329.20,244.23 329.70,244.19 330.20,244.14 330.70,244.09 331.20,244.03 331.70,243.97 332.20,243.91 332.70,243.84 333.20,243.76 333.70,243.67 334.20,243.58 334.70,243.49 335.20,243.38 335.70,243.27 336.20,243.14 336.70,243.01 337.20,242.86 337.70,242.71 338.20,242.54 338.70,242.35 339.20,242.16 339.70,241.94 340.20,241.71 340.70,241.47 341.20,241.20 341.70,240.91 342.20,240.61 342.70,240.27 343.20,239.92 343.70,239.54 344.20,239.13 344.70,238.70 345.20,238.24 345.70,237.74 346.20,237.21 346.70,236.65 347.20,236.06 347.70,235.42 348.20,234.75 348.70,234.05 349.20,233.30 349.70,232.51 350.20,231.68 350.70,230.81 351.20,229.89 351.70,228.93 352.20,227.93 352.70,226.89 353.20,225.80 353.70,224.67 354.20,223.49 354.70,222.28 355.20,221.02 355.70,219.72 356.20,218.38 356.70,217.00 357.20,215.58 357.70,214.12 358.20,212.63 358.70,211.11 359.20,209.55 359.70,207.96 360.20,206.34 360.70,204.69 361.20,203.01 361.70,201.31 362.20,199.58 362.70,197.83 363.20,196.05 363.70,194.26 364.20,192.45 364.70,190.61 365.20,188.76 365.70,186.90 366.20,185.01 366.70,183.12 367.20,181.21 367.70,179.29 368.20,177.36 368.70,175.41 369.20,173.46 369.70,171.50 370.20,169.53 370.70,167.55 371.20,165.56 371.70,163.57 372.20,161.57 372.70,159.56 373.20,157.55 373.70,155.54 374.20,153.52 374.70,151.49 375.20,149.47" fill="none" stroke="#50e050" stroke-width="1.35"/>
</g>
<line x1="287.8" y1="162.5" x2="297.9" y2="162.5" stroke="#5ad8c8" stroke-width="1.4"/>
<text x="299.7" y="164.8" font-family="Liberation Sans" font-size="6.6" font-weight="normal" fill="#5ad8c8" text-anchor="start" textLength="23" lengthAdjust="spacingAndGlyphs" >Fe@IL/C</text>
<line x1="287.8" y1="170.3" x2="297.9" y2="170.3" stroke="#6a74e0" stroke-width="1.4"/>
<text x="299.7" y="172.6" font-family="Liberation Sans" font-size="6.6" font-weight="normal" fill="#6a74e0" text-anchor="start" textLength="23.3" lengthAdjust="spacingAndGlyphs" >Co@IL/C</text>
<line x1="287.8" y1="178.1" x2="297.9" y2="178.1" stroke="#c8b888" stroke-width="1.4"/>
<text x="299.7" y="180.4" font-family="Liberation Sans" font-size="6.6" font-weight="normal" fill="#c8b888" text-anchor="start" textLength="21.1" lengthAdjust="spacingAndGlyphs" >Ni@IL/C</text>
<line x1="287.8" y1="185.9" x2="297.9" y2="185.9" stroke="#f07838" stroke-width="1.4"/>
<text x="299.7" y="188.2" font-family="Liberation Sans" font-size="6.6" font-weight="normal" fill="#f07838" text-anchor="start" textLength="30.3" lengthAdjust="spacingAndGlyphs" >FeCo@IL/C</text>
<line x1="287.8" y1="193.7" x2="297.9" y2="193.7" stroke="#4a96e8" stroke-width="1.4"/>
<text x="299.7" y="196.0" font-family="Liberation Sans" font-size="6.6" font-weight="normal" fill="#4a96e8" text-anchor="start" textLength="28.5" lengthAdjust="spacingAndGlyphs" >FeNi@IL/C</text>
<line x1="287.8" y1="201.5" x2="297.9" y2="201.5" stroke="#50e050" stroke-width="1.4"/>
<text x="299.7" y="203.8" font-family="Liberation Sans" font-size="6.6" font-weight="normal" fill="#50e050" text-anchor="start" textLength="29" lengthAdjust="spacingAndGlyphs" >CoNi@IL/C</text>
<text x="398.6" y="162.8" font-family="Liberation Serif" font-size="17.5" font-weight="bold" fill="#000" text-anchor="start" >g</text>
<rect x="428" y="152.2" width="110.2" height="94.2" fill="none" stroke="#8a949a" stroke-width="0.8"/>
<line x1="428.0" y1="246.4" x2="428.0" y2="244.4" stroke="#8a949a" stroke-width="0.6"/>
<text x="428.0" y="256.2" font-family="Liberation Sans" font-size="8.2" font-weight="normal" fill="#333" text-anchor="middle"  stroke="#333" stroke-width="0.3">-0.4</text>
<line x1="446.3" y1="246.4" x2="446.3" y2="244.4" stroke="#8a949a" stroke-width="0.6"/>
<text x="446.3" y="256.2" font-family="Liberation Sans" font-size="8.2" font-weight="normal" fill="#333" text-anchor="middle"  stroke="#333" stroke-width="0.3">-0.2</text>
<line x1="464.7" y1="246.4" x2="464.7" y2="244.4" stroke="#8a949a" stroke-width="0.6"/>
<text x="464.7" y="256.2" font-family="Liberation Sans" font-size="8.2" font-weight="normal" fill="#333" text-anchor="middle"  stroke="#333" stroke-width="0.3">0.0</text>
<line x1="483.0" y1="246.4" x2="483.0" y2="244.4" stroke="#8a949a" stroke-width="0.6"/>
<text x="483.0" y="256.2" font-family="Liberation Sans" font-size="8.2" font-weight="normal" fill="#333" text-anchor="middle"  stroke="#333" stroke-width="0.3">0.2</text>
<line x1="501.3" y1="246.4" x2="501.3" y2="244.4" stroke="#8a949a" stroke-width="0.6"/>
<text x="501.3" y="256.2" font-family="Liberation Sans" font-size="8.2" font-weight="normal" fill="#333" text-anchor="middle"  stroke="#333" stroke-width="0.3">0.4</text>
<line x1="519.7" y1="246.4" x2="519.7" y2="244.4" stroke="#8a949a" stroke-width="0.6"/>
<text x="519.7" y="256.2" font-family="Liberation Sans" font-size="8.2" font-weight="normal" fill="#333" text-anchor="middle"  stroke="#333" stroke-width="0.3">0.6</text>
<line x1="538.0" y1="246.4" x2="538.0" y2="244.4" stroke="#8a949a" stroke-width="0.6"/>
<text x="538.0" y="256.2" font-family="Liberation Sans" font-size="8.2" font-weight="normal" fill="#333" text-anchor="middle"  stroke="#333" stroke-width="0.3">0.8</text>
<line x1="428" y1="246.4" x2="430" y2="246.4" stroke="#8a949a" stroke-width="0.6"/>
<text x="424.6" y="249.0" font-family="Liberation Sans" font-size="7.3" font-weight="normal" fill="#333" text-anchor="end" textLength="10.6" lengthAdjust="spacingAndGlyphs"  stroke="#333" stroke-width="0.3">1.45</text>
<line x1="428" y1="227.6" x2="430" y2="227.6" stroke="#8a949a" stroke-width="0.6"/>
<text x="424.6" y="230.2" font-family="Liberation Sans" font-size="7.3" font-weight="normal" fill="#333" text-anchor="end" textLength="10.6" lengthAdjust="spacingAndGlyphs"  stroke="#333" stroke-width="0.3">1.50</text>
<line x1="428" y1="208.7" x2="430" y2="208.7" stroke="#8a949a" stroke-width="0.6"/>
<text x="424.6" y="211.3" font-family="Liberation Sans" font-size="7.3" font-weight="normal" fill="#333" text-anchor="end" textLength="10.6" lengthAdjust="spacingAndGlyphs"  stroke="#333" stroke-width="0.3">1.55</text>
<line x1="428" y1="189.9" x2="430" y2="189.9" stroke="#8a949a" stroke-width="0.6"/>
<text x="424.6" y="192.5" font-family="Liberation Sans" font-size="7.3" font-weight="normal" fill="#333" text-anchor="end" textLength="10.6" lengthAdjust="spacingAndGlyphs"  stroke="#333" stroke-width="0.3">1.60</text>
<line x1="428" y1="171.0" x2="430" y2="171.0" stroke="#8a949a" stroke-width="0.6"/>
<text x="424.6" y="173.6" font-family="Liberation Sans" font-size="7.3" font-weight="normal" fill="#333" text-anchor="end" textLength="10.6" lengthAdjust="spacingAndGlyphs"  stroke="#333" stroke-width="0.3">1.65</text>
<line x1="428" y1="152.2" x2="430" y2="152.2" stroke="#8a949a" stroke-width="0.6"/>
<text x="424.6" y="154.8" font-family="Liberation Sans" font-size="7.3" font-weight="normal" fill="#333" text-anchor="end" textLength="10.6" lengthAdjust="spacingAndGlyphs"  stroke="#333" stroke-width="0.3">1.70</text>
<text x="483.7" y="264.6" font-family="Liberation Sans" font-size="7.8" font-weight="normal" fill="#333" text-anchor="middle" textLength="51" lengthAdjust="spacingAndGlyphs"  stroke="#333" stroke-width="0.3">Log (J/mA cm<tspan font-size="4.4" dy="-2.6">-2</tspan><tspan dy="2.6">)</tspan></text>
<text x="411" y="200" font-family="Liberation Sans" font-size="6.8" font-weight="normal" fill="#333" text-anchor="middle" textLength="67" lengthAdjust="spacingAndGlyphs" transform="rotate(-90 411 200)" stroke="#333" stroke-width="0.3">Potential (V vs RHE)</text>
<line x1="474.3" y1="183" x2="502" y2="160" stroke="#c8b070" stroke-width="2.4"/>
<text x="505.3" y="158.3" font-family="Liberation Sans" font-size="4.8" font-weight="bold" fill="#c8b070" text-anchor="start" >109.3 mV dec<tspan font-size="3" dy="-1.6">-1</tspan></text>
<line x1="468.4" y1="175.9" x2="501.5" y2="166" stroke="#5ad8c8" stroke-width="2.4"/>
<text x="507.5" y="168.8" font-family="Liberation Sans" font-size="4.8" font-weight="bold" fill="#5ad8c8" text-anchor="start" >69.3 mV dec<tspan font-size="3" dy="-1.6">-1</tspan></text>
<line x1="465.5" y1="190.3" x2="502" y2="179.2" stroke="#5060e0" stroke-width="2.4"/>
<text x="506.8" y="181.8" font-family="Liberation Sans" font-size="4.8" font-weight="bold" fill="#5060e0" text-anchor="start" >75.7 mV dec<tspan font-size="3" dy="-1.6">-1</tspan></text>
<line x1="464" y1="206.3" x2="502" y2="191" stroke="#40dd30" stroke-width="2.4"/>
<text x="507.5" y="193.8" font-family="Liberation Sans" font-size="4.8" font-weight="bold" fill="#40dd30" text-anchor="start" >98.7 mV dec<tspan font-size="3" dy="-1.6">-1</tspan></text>
<line x1="464" y1="224" x2="503.6" y2="214.8" stroke="#f07838" stroke-width="2.4"/>
<text x="507.3" y="216.1" font-family="Liberation Sans" font-size="4.8" font-weight="bold" fill="#f07838" text-anchor="start" >57.8 mV dec<tspan font-size="3" dy="-1.6">-1</tspan></text>
<line x1="465.3" y1="236.6" x2="503.6" y2="227.6" stroke="#4a96e8" stroke-width="2.4"/>
<text x="507.3" y="230.2" font-family="Liberation Sans" font-size="4.8" font-weight="bold" fill="#4a96e8" text-anchor="start" >54.4 mV dec<tspan font-size="3" dy="-1.6">-1</tspan></text>
<circle cx="431.7" cy="160.0" r="0.9" fill="#5ad8c8"/>
<text x="438.1" y="162.4" font-family="Liberation Sans" font-size="6.9" font-weight="normal" fill="#5ad8c8" text-anchor="start" textLength="22" lengthAdjust="spacingAndGlyphs" >Fe@IL/C</text>
<circle cx="431.7" cy="167.6" r="0.9" fill="#6a74e0"/>
<text x="438.1" y="170.0" font-family="Liberation Sans" font-size="6.9" font-weight="normal" fill="#6a74e0" text-anchor="start" textLength="23" lengthAdjust="spacingAndGlyphs" >Co@IL/C</text>
<circle cx="431.7" cy="175.2" r="0.9" fill="#c8b888"/>
<text x="438.1" y="177.6" font-family="Liberation Sans" font-size="6.9" font-weight="normal" fill="#c8b888" text-anchor="start" textLength="21" lengthAdjust="spacingAndGlyphs" >Ni@IL/C</text>
<circle cx="431.7" cy="182.8" r="0.9" fill="#f07838"/>
<text x="438.1" y="185.2" font-family="Liberation Sans" font-size="6.9" font-weight="normal" fill="#f07838" text-anchor="start" textLength="29.4" lengthAdjust="spacingAndGlyphs" >FeCo@IL/C</text>
<circle cx="431.7" cy="190.4" r="0.9" fill="#4a96e8"/>
<text x="438.1" y="192.8" font-family="Liberation Sans" font-size="6.9" font-weight="normal" fill="#4a96e8" text-anchor="start" textLength="27.6" lengthAdjust="spacingAndGlyphs" >FeNi@IL/C</text>
<circle cx="431.7" cy="198.0" r="0.9" fill="#50e050"/>
<text x="438.1" y="200.4" font-family="Liberation Sans" font-size="6.9" font-weight="normal" fill="#50e050" text-anchor="start" textLength="28.5" lengthAdjust="spacingAndGlyphs" >CoNi@IL/C</text>
</svg></body></html>
